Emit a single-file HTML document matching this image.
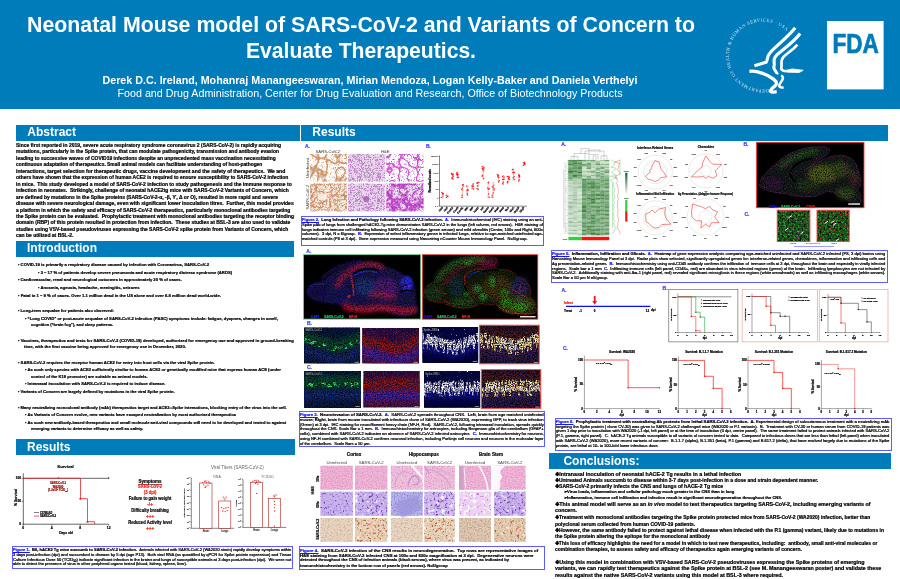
<!DOCTYPE html>
<html lang="en"><head><meta charset="utf-8">
<title>Neonatal Mouse model of SARS-CoV-2 and Variants of Concern to Evaluate Therapeutics</title>
<style>

html,body{margin:0;padding:0;background:#fff;}
body{width:900px;height:579px;overflow:hidden;}
#poster{position:relative;width:900px;height:579px;overflow:hidden;background:#fff;
 font-family:"Liberation Sans",sans-serif;font-weight:700;color:#000;}
#poster svg{position:absolute;left:0;top:0;}
.l{position:absolute;white-space:nowrap;transform-origin:0 50%;-webkit-text-stroke:0.22px currentColor;}
.nb{-webkit-text-stroke:0 transparent;}
.bar{position:absolute;background:#007CBA;color:#fff;font-size:12px;line-height:16px;white-space:nowrap;}
.bar span{position:absolute;top:0;}
.hdr{position:absolute;left:0;top:0;width:900px;height:108.8px;background:#007CBA;}
.cap{position:absolute;border:0.7px solid #5b5bff;box-sizing:border-box;}
.fl{color:#1414ff;text-decoration:underline;}
.bl{color:#1414ff;}
.r{font-weight:400;}
i{font-style:italic;}
sub{font-size:70%;line-height:0;vertical-align:-0.2em;}
sup{font-size:70%;line-height:0;vertical-align:0.45em;}

</style></head>
<body>
<div id="poster">
<svg width="900" height="579" viewBox="0 0 900 579" font-family="Liberation Sans, sans-serif" style="z-index:1">
<defs>
<filter id="n0" x="0" y="0" width="100%" height="100%" color-interpolation-filters="sRGB"><feTurbulence type="turbulence" baseFrequency="0.11" numOctaves="1" seed="3"/><feColorMatrix type="matrix" values="0 0 0 0 0.800 0 0 0 0 0.588 0 0 0 0 0.431 -11.00 0 0 0 1.35"/><feComposite operator="in" in2="SourceGraphic"/></filter>
<filter id="n1" x="0" y="0" width="100%" height="100%" color-interpolation-filters="sRGB"><feTurbulence type="turbulence" baseFrequency="0.35" numOctaves="1" seed="4"/><feColorMatrix type="matrix" values="0 0 0 0 0.784 0 0 0 0 0.588 0 0 0 0 0.431 -6.00 0 0 0 0.50"/><feComposite operator="in" in2="SourceGraphic"/></filter>
<filter id="n2" x="0" y="0" width="100%" height="100%" color-interpolation-filters="sRGB"><feTurbulence type="turbulence" baseFrequency="0.13" numOctaves="2" seed="9"/><feColorMatrix type="matrix" values="0 0 0 0 0.776 0 0 0 0 0.549 0 0 0 0 0.384 -6.00 0 0 0 1.25"/><feComposite operator="in" in2="SourceGraphic"/></filter>
<filter id="n3" x="0" y="0" width="100%" height="100%" color-interpolation-filters="sRGB"><feTurbulence type="turbulence" baseFrequency="0.4" numOctaves="1" seed="6"/><feColorMatrix type="matrix" values="0 0 0 0 0.745 0 0 0 0 0.510 0 0 0 0 0.353 -5.00 0 0 0 0.70"/><feComposite operator="in" in2="SourceGraphic"/></filter>
<filter id="n4" x="0" y="0" width="100%" height="100%" color-interpolation-filters="sRGB"><feTurbulence type="turbulence" baseFrequency="0.45" numOctaves="1" seed="12"/><feColorMatrix type="matrix" values="0 0 0 0 0.729 0 0 0 0 0.486 0 0 0 0 0.769 -6.00 0 0 0 1.00"/><feComposite operator="in" in2="SourceGraphic"/></filter>
<filter id="n5" x="0" y="0" width="100%" height="100%" color-interpolation-filters="sRGB"><feTurbulence type="turbulence" baseFrequency="0.45" numOctaves="1" seed="13"/><feColorMatrix type="matrix" values="0 0 0 0 0.729 0 0 0 0 0.486 0 0 0 0 0.769 -6.00 0 0 0 1.00"/><feComposite operator="in" in2="SourceGraphic"/></filter>
<filter id="n6" x="0" y="0" width="100%" height="100%" color-interpolation-filters="sRGB"><feTurbulence type="turbulence" baseFrequency="0.11" numOctaves="1" seed="31"/><feColorMatrix type="matrix" values="0 0 0 0 0.839 0 0 0 0 0.329 0 0 0 0 0.800 -11.00 0 0 0 1.30"/><feComposite operator="in" in2="SourceGraphic"/></filter>
<filter id="n7" x="0" y="0" width="100%" height="100%" color-interpolation-filters="sRGB"><feTurbulence type="turbulence" baseFrequency="0.4" numOctaves="1" seed="33"/><feColorMatrix type="matrix" values="0 0 0 0 0.549 0 0 0 0 0.235 0 0 0 0 0.745 -7.00 0 0 0 0.45"/><feComposite operator="in" in2="SourceGraphic"/></filter>
<filter id="n8" x="0" y="0" width="100%" height="100%" color-interpolation-filters="sRGB"><feTurbulence type="turbulence" baseFrequency="0.13" numOctaves="2" seed="41"/><feColorMatrix type="matrix" values="0 0 0 0 0.784 0 0 0 0 0.275 0 0 0 0 0.800 -4.00 0 0 0 1.40"/><feComposite operator="in" in2="SourceGraphic"/></filter>
<filter id="n9" x="0" y="0" width="100%" height="100%" color-interpolation-filters="sRGB"><feTurbulence type="turbulence" baseFrequency="0.4" numOctaves="1" seed="43"/><feColorMatrix type="matrix" values="0 0 0 0 0.510 0 0 0 0 0.196 0 0 0 0 0.706 -6.00 0 0 0 0.60"/><feComposite operator="in" in2="SourceGraphic"/></filter>
<filter id="n10" x="0" y="0" width="100%" height="100%" color-interpolation-filters="sRGB"><feTurbulence type="fractalNoise" baseFrequency="0.9" numOctaves="2" seed="5"/><feColorMatrix type="matrix" values="0 0 0 0 0.000 0 0 0 0 0.000 0 0 0 0 0.000 2.00 0 0 0 -0.80"/><feComposite operator="in" in2="SourceGraphic"/></filter>
<filter id="n11" x="0" y="0" width="100%" height="100%" color-interpolation-filters="sRGB"><feTurbulence type="fractalNoise" baseFrequency="0.9" numOctaves="2" seed="7"/><feColorMatrix type="matrix" values="0 0 0 0 0.000 0 0 0 0 0.000 0 0 0 0 0.000 2.20 0 0 0 -0.80"/><feComposite operator="in" in2="SourceGraphic"/></filter>
<filter id="n12" x="0" y="0" width="100%" height="100%" color-interpolation-filters="sRGB"><feTurbulence type="fractalNoise" baseFrequency="0.22" numOctaves="2" seed="4"/><feColorMatrix type="matrix" values="0 0 0 0 0.235 0 0 0 0 0.941 0 0 0 0 0.392 9.00 0 0 0 -4.60"/><feComposite operator="in" in2="SourceGraphic"/></filter>
<filter id="n13" x="0" y="0" width="100%" height="100%" color-interpolation-filters="sRGB"><feTurbulence type="fractalNoise" baseFrequency="0.9" numOctaves="2" seed="11"/><feColorMatrix type="matrix" values="0 0 0 0 0.000 0 0 0 0 0.000 0 0 0 0 0.000 2.20 0 0 0 -0.85"/><feComposite operator="in" in2="SourceGraphic"/></filter>
<filter id="n14" x="0" y="0" width="100%" height="100%" color-interpolation-filters="sRGB"><feTurbulence type="fractalNoise" baseFrequency="0.9" numOctaves="2" seed="13"/><feColorMatrix type="matrix" values="0 0 0 0 0.824 0 0 0 0 0.196 0 0 0 0 0.141 3.00 0 0 0 -1.70"/><feComposite operator="in" in2="SourceGraphic"/></filter>
<filter id="n15" x="0" y="0" width="100%" height="100%" color-interpolation-filters="sRGB"><feTurbulence type="fractalNoise" baseFrequency="0.9" numOctaves="2" seed="14"/><feColorMatrix type="matrix" values="0 0 0 0 0.039 0 0 0 0 0.024 0 0 0 0 0.235 3.00 0 0 0 -1.25"/><feComposite operator="in" in2="SourceGraphic"/></filter>
<filter id="n16" x="0" y="0" width="100%" height="100%" color-interpolation-filters="sRGB"><feTurbulence type="fractalNoise" baseFrequency="0.5 0.09" numOctaves="2" seed="8"/><feColorMatrix type="matrix" values="0 0 0 0 1.000 0 0 0 0 1.000 0 0 0 0 1.000 8.00 0 0 0 -3.00"/><feComposite operator="in" in2="SourceGraphic"/></filter>
<filter id="n17" x="0" y="0" width="100%" height="100%" color-interpolation-filters="sRGB"><feTurbulence type="fractalNoise" baseFrequency="0.55 0.1" numOctaves="2" seed="12"/><feColorMatrix type="matrix" values="0 0 0 0 0.941 0 0 0 0 0.941 0 0 0 0 1.000 9.00 0 0 0 -4.50"/><feComposite operator="in" in2="SourceGraphic"/></filter>
<filter id="n18" x="0" y="0" width="100%" height="100%" color-interpolation-filters="sRGB"><feTurbulence type="fractalNoise" baseFrequency="0.45" numOctaves="1" seed="21"/><feColorMatrix type="matrix" values="0 0 0 0 1.000 0 0 0 0 1.000 0 0 0 0 1.000 14.00 0 0 0 -9.60"/><feComposite operator="in" in2="SourceGraphic"/></filter>
<filter id="n19" x="0" y="0" width="100%" height="100%" color-interpolation-filters="sRGB"><feTurbulence type="fractalNoise" baseFrequency="0.9" numOctaves="2" seed="17"/><feColorMatrix type="matrix" values="0 0 0 0 0.000 0 0 0 0 0.000 0 0 0 0 0.157 2.50 0 0 0 -0.90"/><feComposite operator="in" in2="SourceGraphic"/></filter>
<filter id="n20" x="0" y="0" width="100%" height="100%" color-interpolation-filters="sRGB"><feTurbulence type="fractalNoise" baseFrequency="0.5 0.09" numOctaves="2" seed="8"/><feColorMatrix type="matrix" values="0 0 0 0 1.000 0 0 0 0 0.988 0 0 0 0 0.910 8.00 0 0 0 -3.00"/><feComposite operator="in" in2="SourceGraphic"/></filter>
<filter id="n21" x="0" y="0" width="100%" height="100%" color-interpolation-filters="sRGB"><feTurbulence type="fractalNoise" baseFrequency="0.55 0.1" numOctaves="2" seed="12"/><feColorMatrix type="matrix" values="0 0 0 0 0.965 0 0 0 0 0.863 0 0 0 0 0.588 9.00 0 0 0 -4.50"/><feComposite operator="in" in2="SourceGraphic"/></filter>
<filter id="n22" x="0" y="0" width="100%" height="100%" color-interpolation-filters="sRGB"><feTurbulence type="fractalNoise" baseFrequency="0.9" numOctaves="2" seed="23"/><feColorMatrix type="matrix" values="0 0 0 0 0.745 0 0 0 0 0.196 0 0 0 0 0.141 4.00 0 0 0 -2.60"/><feComposite operator="in" in2="SourceGraphic"/></filter>
<filter id="n23" x="0" y="0" width="100%" height="100%" color-interpolation-filters="sRGB"><feTurbulence type="fractalNoise" baseFrequency="0.9" numOctaves="2" seed="24"/><feColorMatrix type="matrix" values="0 0 0 0 0.141 0 0 0 0 0.118 0 0 0 0 0.588 4.00 0 0 0 -2.40"/><feComposite operator="in" in2="SourceGraphic"/></filter>
<filter id="n24" x="0" y="0" width="100%" height="100%" color-interpolation-filters="sRGB"><feTurbulence type="fractalNoise" baseFrequency="0.9" numOctaves="2" seed="25"/><feColorMatrix type="matrix" values="0 0 0 0 0.000 0 0 0 0 0.000 0 0 0 0 0.000 3.00 0 0 0 -1.20"/><feComposite operator="in" in2="SourceGraphic"/></filter>
<filter id="n25" x="0" y="0" width="100%" height="100%" color-interpolation-filters="sRGB"><feTurbulence type="fractalNoise" baseFrequency="0.22" numOctaves="2" seed="8"/><feColorMatrix type="matrix" values="0 0 0 0 0.235 0 0 0 0 0.941 0 0 0 0 0.392 9.00 0 0 0 -4.60"/><feComposite operator="in" in2="SourceGraphic"/></filter>
<filter id="n26" x="0" y="0" width="100%" height="100%" color-interpolation-filters="sRGB"><feTurbulence type="fractalNoise" baseFrequency="0.5 0.09" numOctaves="2" seed="12"/><feColorMatrix type="matrix" values="0 0 0 0 1.000 0 0 0 0 1.000 0 0 0 0 1.000 8.00 0 0 0 -3.00"/><feComposite operator="in" in2="SourceGraphic"/></filter>
<filter id="n27" x="0" y="0" width="100%" height="100%" color-interpolation-filters="sRGB"><feTurbulence type="fractalNoise" baseFrequency="0.55 0.1" numOctaves="2" seed="16"/><feColorMatrix type="matrix" values="0 0 0 0 0.941 0 0 0 0 0.941 0 0 0 0 1.000 9.00 0 0 0 -4.50"/><feComposite operator="in" in2="SourceGraphic"/></filter>
<filter id="n28" x="0" y="0" width="100%" height="100%" color-interpolation-filters="sRGB"><feTurbulence type="fractalNoise" baseFrequency="0.5 0.09" numOctaves="2" seed="12"/><feColorMatrix type="matrix" values="0 0 0 0 1.000 0 0 0 0 0.988 0 0 0 0 0.910 8.00 0 0 0 -3.00"/><feComposite operator="in" in2="SourceGraphic"/></filter>
<filter id="n29" x="0" y="0" width="100%" height="100%" color-interpolation-filters="sRGB"><feTurbulence type="fractalNoise" baseFrequency="0.55 0.1" numOctaves="2" seed="16"/><feColorMatrix type="matrix" values="0 0 0 0 0.965 0 0 0 0 0.863 0 0 0 0 0.588 9.00 0 0 0 -4.50"/><feComposite operator="in" in2="SourceGraphic"/></filter>
<filter id="n30" x="0" y="0" width="100%" height="100%" color-interpolation-filters="sRGB"><feTurbulence type="fractalNoise" baseFrequency="0.8" numOctaves="2" seed="1"/><feColorMatrix type="matrix" values="0 0 0 0 0.839 0 0 0 0 0.510 0 0 0 0 0.729 2.00 0 0 0 -0.85"/><feComposite operator="in" in2="SourceGraphic"/></filter>
<filter id="n31" x="0" y="0" width="100%" height="100%" color-interpolation-filters="sRGB"><feTurbulence type="fractalNoise" baseFrequency="0.8" numOctaves="2" seed="2"/><feColorMatrix type="matrix" values="0 0 0 0 0.839 0 0 0 0 0.510 0 0 0 0 0.729 2.00 0 0 0 -0.85"/><feComposite operator="in" in2="SourceGraphic"/></filter>
<filter id="n32" x="0" y="0" width="100%" height="100%" color-interpolation-filters="sRGB"><feTurbulence type="fractalNoise" baseFrequency="0.8" numOctaves="2" seed="3"/><feColorMatrix type="matrix" values="0 0 0 0 0.839 0 0 0 0 0.510 0 0 0 0 0.729 2.00 0 0 0 -0.85"/><feComposite operator="in" in2="SourceGraphic"/></filter>
<filter id="n33" x="0" y="0" width="100%" height="100%" color-interpolation-filters="sRGB"><feTurbulence type="fractalNoise" baseFrequency="0.8" numOctaves="2" seed="4"/><feColorMatrix type="matrix" values="0 0 0 0 0.839 0 0 0 0 0.510 0 0 0 0 0.729 2.00 0 0 0 -0.85"/><feComposite operator="in" in2="SourceGraphic"/></filter>
<filter id="n34" x="0" y="0" width="100%" height="100%" color-interpolation-filters="sRGB"><feTurbulence type="fractalNoise" baseFrequency="0.8" numOctaves="2" seed="5"/><feColorMatrix type="matrix" values="0 0 0 0 0.839 0 0 0 0 0.510 0 0 0 0 0.729 2.00 0 0 0 -0.85"/><feComposite operator="in" in2="SourceGraphic"/></filter>
<filter id="n35" x="0" y="0" width="100%" height="100%" color-interpolation-filters="sRGB"><feTurbulence type="fractalNoise" baseFrequency="0.8" numOctaves="2" seed="6"/><feColorMatrix type="matrix" values="0 0 0 0 0.839 0 0 0 0 0.510 0 0 0 0 0.729 2.00 0 0 0 -0.85"/><feComposite operator="in" in2="SourceGraphic"/></filter>
<filter id="n36" x="0" y="0" width="100%" height="100%" color-interpolation-filters="sRGB"><feTurbulence type="fractalNoise" baseFrequency="0.5" numOctaves="2" seed="7"/><feColorMatrix type="matrix" values="0 0 0 0 0.627 0 0 0 0 0.486 0 0 0 0 0.847 2.20 0 0 0 -0.95"/><feComposite operator="in" in2="SourceGraphic"/></filter>
<filter id="n37" x="0" y="0" width="100%" height="100%" color-interpolation-filters="sRGB"><feTurbulence type="fractalNoise" baseFrequency="0.42" numOctaves="2" seed="8"/><feColorMatrix type="matrix" values="0 0 0 0 0.486 0 0 0 0 0.251 0 0 0 0 0.729 9.00 0 0 0 -5.80"/><feComposite operator="in" in2="SourceGraphic"/></filter>
<filter id="n38" x="0" y="0" width="100%" height="100%" color-interpolation-filters="sRGB"><feTurbulence type="fractalNoise" baseFrequency="0.5" numOctaves="2" seed="9"/><feColorMatrix type="matrix" values="0 0 0 0 0.627 0 0 0 0 0.486 0 0 0 0 0.847 2.20 0 0 0 -0.95"/><feComposite operator="in" in2="SourceGraphic"/></filter>
<filter id="n39" x="0" y="0" width="100%" height="100%" color-interpolation-filters="sRGB"><feTurbulence type="fractalNoise" baseFrequency="0.42" numOctaves="2" seed="10"/><feColorMatrix type="matrix" values="0 0 0 0 0.486 0 0 0 0 0.251 0 0 0 0 0.729 9.00 0 0 0 -5.50"/><feComposite operator="in" in2="SourceGraphic"/></filter>
<filter id="n40" x="0" y="0" width="100%" height="100%" color-interpolation-filters="sRGB"><feTurbulence type="fractalNoise" baseFrequency="0.22" numOctaves="1" seed="11"/><feColorMatrix type="matrix" values="0 0 0 0 0.980 0 0 0 0 0.957 0 0 0 0 1.000 6.00 0 0 0 -3.60"/><feComposite operator="in" in2="SourceGraphic"/></filter>
<filter id="n41" x="0" y="0" width="100%" height="100%" color-interpolation-filters="sRGB"><feTurbulence type="fractalNoise" baseFrequency="0.7" numOctaves="2" seed="12"/><feColorMatrix type="matrix" values="0 0 0 0 0.510 0 0 0 0 0.471 0 0 0 0 0.824 2.50 0 0 0 -1.10"/><feComposite operator="in" in2="SourceGraphic"/></filter>
<filter id="n42" x="0" y="0" width="100%" height="100%" color-interpolation-filters="sRGB"><feTurbulence type="fractalNoise" baseFrequency="0.5" numOctaves="2" seed="13"/><feColorMatrix type="matrix" values="0 0 0 0 0.627 0 0 0 0 0.486 0 0 0 0 0.847 2.20 0 0 0 -0.95"/><feComposite operator="in" in2="SourceGraphic"/></filter>
<filter id="n43" x="0" y="0" width="100%" height="100%" color-interpolation-filters="sRGB"><feTurbulence type="fractalNoise" baseFrequency="0.42" numOctaves="2" seed="14"/><feColorMatrix type="matrix" values="0 0 0 0 0.486 0 0 0 0 0.251 0 0 0 0 0.729 9.00 0 0 0 -5.50"/><feComposite operator="in" in2="SourceGraphic"/></filter>
<filter id="n44" x="0" y="0" width="100%" height="100%" color-interpolation-filters="sRGB"><feTurbulence type="fractalNoise" baseFrequency="0.22" numOctaves="1" seed="15"/><feColorMatrix type="matrix" values="0 0 0 0 0.980 0 0 0 0 0.957 0 0 0 0 1.000 6.00 0 0 0 -3.60"/><feComposite operator="in" in2="SourceGraphic"/></filter>
<filter id="n45" x="0" y="0" width="100%" height="100%" color-interpolation-filters="sRGB"><feTurbulence type="fractalNoise" baseFrequency="0.45" numOctaves="2" seed="16"/><feColorMatrix type="matrix" values="0 0 0 0 0.745 0 0 0 0 0.392 0 0 0 0 0.816 8.00 0 0 0 -5.10"/><feComposite operator="in" in2="SourceGraphic"/></filter>
<filter id="n46" x="0" y="0" width="100%" height="100%" color-interpolation-filters="sRGB"><feTurbulence type="fractalNoise" baseFrequency="0.3" numOctaves="1" seed="17"/><feColorMatrix type="matrix" values="0 0 0 0 1.000 0 0 0 0 1.000 0 0 0 0 1.000 5.00 0 0 0 -2.60"/><feComposite operator="in" in2="SourceGraphic"/></filter>
<filter id="n47" x="0" y="0" width="100%" height="100%" color-interpolation-filters="sRGB"><feTurbulence type="fractalNoise" baseFrequency="0.5" numOctaves="2" seed="18"/><feColorMatrix type="matrix" values="0 0 0 0 0.627 0 0 0 0 0.486 0 0 0 0 0.847 2.20 0 0 0 -0.95"/><feComposite operator="in" in2="SourceGraphic"/></filter>
<filter id="n48" x="0" y="0" width="100%" height="100%" color-interpolation-filters="sRGB"><feTurbulence type="fractalNoise" baseFrequency="0.42" numOctaves="2" seed="19"/><feColorMatrix type="matrix" values="0 0 0 0 0.486 0 0 0 0 0.251 0 0 0 0 0.729 9.00 0 0 0 -5.50"/><feComposite operator="in" in2="SourceGraphic"/></filter>
<filter id="n49" x="0" y="0" width="100%" height="100%" color-interpolation-filters="sRGB"><feTurbulence type="fractalNoise" baseFrequency="0.22" numOctaves="1" seed="20"/><feColorMatrix type="matrix" values="0 0 0 0 0.980 0 0 0 0 0.957 0 0 0 0 1.000 6.00 0 0 0 -3.60"/><feComposite operator="in" in2="SourceGraphic"/></filter>
<filter id="n50" x="0" y="0" width="100%" height="100%" color-interpolation-filters="sRGB"><feTurbulence type="fractalNoise" baseFrequency="0.7" numOctaves="2" seed="21"/><feColorMatrix type="matrix" values="0 0 0 0 0.745 0 0 0 0 0.588 0 0 0 0 0.471 2.40 0 0 0 -1.20"/><feComposite operator="in" in2="SourceGraphic"/></filter>
<filter id="n51" x="0" y="0" width="100%" height="100%" color-interpolation-filters="sRGB"><feTurbulence type="fractalNoise" baseFrequency="0.6" numOctaves="2" seed="22"/><feColorMatrix type="matrix" values="0 0 0 0 0.784 0 0 0 0 0.612 0 0 0 0 0.455 2.40 0 0 0 -1.10"/><feComposite operator="in" in2="SourceGraphic"/></filter>
<filter id="n52" x="0" y="0" width="100%" height="100%" color-interpolation-filters="sRGB"><feTurbulence type="fractalNoise" baseFrequency="0.4" numOctaves="2" seed="23"/><feColorMatrix type="matrix" values="0 0 0 0 0.690 0 0 0 0 0.408 0 0 0 0 0.227 9.00 0 0 0 -5.60"/><feComposite operator="in" in2="SourceGraphic"/></filter>
<filter id="n53" x="0" y="0" width="100%" height="100%" color-interpolation-filters="sRGB"><feTurbulence type="fractalNoise" baseFrequency="0.3" numOctaves="1" seed="24"/><feColorMatrix type="matrix" values="0 0 0 0 1.000 0 0 0 0 0.980 0 0 0 0 0.957 6.00 0 0 0 -3.80"/><feComposite operator="in" in2="SourceGraphic"/></filter>
<filter id="n54" x="0" y="0" width="100%" height="100%" color-interpolation-filters="sRGB"><feTurbulence type="fractalNoise" baseFrequency="0.7" numOctaves="2" seed="25"/><feColorMatrix type="matrix" values="0 0 0 0 0.745 0 0 0 0 0.588 0 0 0 0 0.471 2.40 0 0 0 -1.20"/><feComposite operator="in" in2="SourceGraphic"/></filter>
<filter id="n55" x="0" y="0" width="100%" height="100%" color-interpolation-filters="sRGB"><feTurbulence type="fractalNoise" baseFrequency="0.6" numOctaves="2" seed="26"/><feColorMatrix type="matrix" values="0 0 0 0 0.784 0 0 0 0 0.612 0 0 0 0 0.455 2.40 0 0 0 -1.10"/><feComposite operator="in" in2="SourceGraphic"/></filter>
<filter id="n56" x="0" y="0" width="100%" height="100%" color-interpolation-filters="sRGB"><feTurbulence type="fractalNoise" baseFrequency="0.4" numOctaves="2" seed="27"/><feColorMatrix type="matrix" values="0 0 0 0 0.690 0 0 0 0 0.408 0 0 0 0 0.227 9.00 0 0 0 -5.60"/><feComposite operator="in" in2="SourceGraphic"/></filter>
<filter id="n57" x="0" y="0" width="100%" height="100%" color-interpolation-filters="sRGB"><feTurbulence type="fractalNoise" baseFrequency="0.3" numOctaves="1" seed="28"/><feColorMatrix type="matrix" values="0 0 0 0 1.000 0 0 0 0 0.980 0 0 0 0 0.957 6.00 0 0 0 -3.80"/><feComposite operator="in" in2="SourceGraphic"/></filter>
<filter id="n58" x="0" y="0" width="100%" height="100%" color-interpolation-filters="sRGB"><feTurbulence type="fractalNoise" baseFrequency="0.7" numOctaves="2" seed="29"/><feColorMatrix type="matrix" values="0 0 0 0 0.745 0 0 0 0 0.588 0 0 0 0 0.471 2.40 0 0 0 -0.95"/><feComposite operator="in" in2="SourceGraphic"/></filter>
<filter id="n59" x="0" y="0" width="100%" height="100%" color-interpolation-filters="sRGB"><feTurbulence type="fractalNoise" baseFrequency="0.6" numOctaves="2" seed="30"/><feColorMatrix type="matrix" values="0 0 0 0 0.784 0 0 0 0 0.612 0 0 0 0 0.455 2.40 0 0 0 -1.10"/><feComposite operator="in" in2="SourceGraphic"/></filter>
<filter id="n60" x="0" y="0" width="100%" height="100%" color-interpolation-filters="sRGB"><feTurbulence type="fractalNoise" baseFrequency="0.4" numOctaves="2" seed="31"/><feColorMatrix type="matrix" values="0 0 0 0 0.690 0 0 0 0 0.408 0 0 0 0 0.227 9.00 0 0 0 -5.60"/><feComposite operator="in" in2="SourceGraphic"/></filter>
<filter id="n61" x="0" y="0" width="100%" height="100%" color-interpolation-filters="sRGB"><feTurbulence type="fractalNoise" baseFrequency="0.3" numOctaves="1" seed="32"/><feColorMatrix type="matrix" values="0 0 0 0 1.000 0 0 0 0 0.980 0 0 0 0 0.957 6.00 0 0 0 -3.80"/><feComposite operator="in" in2="SourceGraphic"/></filter>
<filter id="n62" x="0" y="0" width="100%" height="100%" color-interpolation-filters="sRGB"><feTurbulence type="fractalNoise" baseFrequency="0.8" numOctaves="2" seed="10"/><feColorMatrix type="matrix" values="0 0 0 0 0.588 0 0 0 0 0.157 0 0 0 0 0.392 6.00 0 0 0 -3.90"/><feComposite operator="in" in2="SourceGraphic"/></filter>
<filter id="n63" x="0" y="0" width="100%" height="100%" color-interpolation-filters="sRGB"><feTurbulence type="fractalNoise" baseFrequency="0.9" numOctaves="2" seed="9"/><feColorMatrix type="matrix" values="0 0 0 0 0.000 0 0 0 0 0.000 0 0 0 0 0.000 2.00 0 0 0 -0.75"/><feComposite operator="in" in2="SourceGraphic"/></filter>
<filter id="n64" x="0" y="0" width="100%" height="100%" color-interpolation-filters="sRGB"><feTurbulence type="fractalNoise" baseFrequency="0.55" numOctaves="2" seed="30"/><feColorMatrix type="matrix" values="0 0 0 0 0.196 0 0 0 0 0.667 0 0 0 0 0.196 4.00 0 0 0 -2.00"/><feComposite operator="in" in2="SourceGraphic"/></filter>
<filter id="n65" x="0" y="0" width="100%" height="100%" color-interpolation-filters="sRGB"><feTurbulence type="fractalNoise" baseFrequency="0.5" numOctaves="2" seed="32"/><feColorMatrix type="matrix" values="0 0 0 0 0.000 0 0 0 0 0.000 0 0 0 0 0.000 4.00 0 0 0 -2.10"/><feComposite operator="in" in2="SourceGraphic"/></filter>
<filter id="n66" x="0" y="0" width="100%" height="100%" color-interpolation-filters="sRGB"><feTurbulence type="fractalNoise" baseFrequency="0.7" numOctaves="2" seed="34"/><feColorMatrix type="matrix" values="0 0 0 0 0.784 0 0 0 0 0.235 0 0 0 0 0.667 8.00 0 0 0 -5.50"/><feComposite operator="in" in2="SourceGraphic"/></filter>
<filter id="n67" x="0" y="0" width="100%" height="100%" color-interpolation-filters="sRGB"><feTurbulence type="fractalNoise" baseFrequency="0.55" numOctaves="2" seed="31"/><feColorMatrix type="matrix" values="0 0 0 0 0.196 0 0 0 0 0.667 0 0 0 0 0.196 4.00 0 0 0 -2.00"/><feComposite operator="in" in2="SourceGraphic"/></filter>
<filter id="n68" x="0" y="0" width="100%" height="100%" color-interpolation-filters="sRGB"><feTurbulence type="fractalNoise" baseFrequency="0.5" numOctaves="2" seed="33"/><feColorMatrix type="matrix" values="0 0 0 0 0.000 0 0 0 0 0.000 0 0 0 0 0.000 4.00 0 0 0 -2.10"/><feComposite operator="in" in2="SourceGraphic"/></filter>
<filter id="n69" x="0" y="0" width="100%" height="100%" color-interpolation-filters="sRGB"><feTurbulence type="fractalNoise" baseFrequency="0.7" numOctaves="2" seed="35"/><feColorMatrix type="matrix" values="0 0 0 0 0.863 0 0 0 0 0.196 0 0 0 0 0.157 8.00 0 0 0 -5.00"/><feComposite operator="in" in2="SourceGraphic"/></filter>
<path id="hhsarc" d="M 768.6 89.0 A 34 34 0 1 1 787.0 31.4" fill="none"/>



<filter id="bl1" x="-20%" y="-20%" width="140%" height="140%"><feGaussianBlur stdDeviation="1.1"/></filter>
<filter id="bl2" x="-20%" y="-20%" width="140%" height="140%"><feGaussianBlur stdDeviation="2.2"/></filter>
<filter id="bl05" x="-20%" y="-20%" width="140%" height="140%"><feGaussianBlur stdDeviation="0.5"/></filter>
<clipPath id="cpA1"><rect x="303.6" y="254.7" width="117.1" height="64.4"/></clipPath>
<clipPath id="cpA2"><rect x="422.3" y="254.7" width="115.5" height="64.5"/></clipPath>
<path id="brainL" d="M22 24 C30 16 44 9 58 7 C68 6 78 8 82 12 C90 14 96 16 100 20 C106 24 112 30 112 36 C113 44 112 50 115 54 C112 60 104 62 98 62 C90 60 84 56 76 56 C66 58 58 56 50 54 C44 56 38 52 34 48 C28 50 20 48 12 46 C6 44 2 40 3 36 C4 31 10 27 16 27 Z"/>
<path id="brainR" d="M1 38 C2 32 8 28 14 26 C16 18 24 10 36 6 C44 3 54 2 62 1.5 C68 1 74 2 75 5 C76 8 72 10 68 11 C72 12 76 13 76 15 C80 14 86 15 90 17 C94 19 95 22 96 23 C100 22 104 26 106 30 C109 34 109 40 108 42 C112 46 114 52 114 57 C110 61 102 60 94 59 C86 59 78 56 74 50 C70 50 64 50 60 49 C54 52 46 54 38 53 C30 52 24 50 20 48 C14 48 6 46 3 43 C1 42 0 40 1 38 Z"/>
<!--G--><clipPath id="cpb1"><rect x="304.00" y="327.30" width="56.20" height="36.20"/></clipPath>
<clipPath id="cpb2"><rect x="362.10" y="328.00" width="56.90" height="35.50"/></clipPath>
<clipPath id="cpb3"><rect x="422.30" y="327.00" width="56.00" height="36.00"/></clipPath>
<clipPath id="cpb4"><rect x="479.60" y="325.20" width="59.60" height="38.60"/></clipPath>
<clipPath id="cpc1"><rect x="304.00" y="371.00" width="57.00" height="37.00"/></clipPath>
<clipPath id="cpc2"><rect x="363.30" y="371.00" width="56.50" height="36.60"/></clipPath>
<clipPath id="cpc3"><rect x="424.00" y="371.00" width="56.30" height="36.80"/></clipPath>
<clipPath id="cpc4"><rect x="481.40" y="369.60" width="59.40" height="38.80"/></clipPath>

<clipPath id="cp5B"><rect x="756.4" y="142.3" width="107.6" height="65.4"/></clipPath>
<path id="brain5" d="M2 40 C4 32 10 27 16 22 C24 14 34 8 46 5 C54 3 64 2 70 4 C73 6 72 9 68 12 C62 16 54 20 48 26 C54 22 62 17 70 14 C78 11 86 11 92 14 C98 18 100 24 101 30 C104 36 104 42 100 46 C103 50 104 56 103 60 C98 62 92 58 86 54 C80 50 74 48 68 48 C62 52 56 54 50 53 C42 54 34 52 28 50 C20 50 12 48 7 46 C3 45 1 43 2 40Z"/>

</defs>
<!-- g_logo -->
<rect x="827.00" y="21.00" width="56.60" height="68.40" fill="#fff"/>
<text x="832.4" y="53.2" font-size="27" font-weight="700" fill="#007CBA" stroke="#007CBA" stroke-width="0.7" textLength="46.4" lengthAdjust="spacingAndGlyphs">FDA</text>
<text font-family="Liberation Serif, serif" font-size="4.6" fill="#d4e6f2" font-weight="400"><textPath href="#hhsarc" startOffset="0" textLength="138" lengthAdjust="spacing">DEPARTMENT OF HEALTH &amp; HUMAN SERVICES · USA</textPath></text>
<g fill="none" stroke="#fff" stroke-linecap="butt" stroke-linejoin="round">
<path stroke-width="3.1" d="M795.2,27.7 C788.3,36.6 776.2,46.0 770.7,52.0 S768.6,59.3 766.2,62.2 L754.4,65.8"/>
<path stroke-width="3.1" d="M800.1,33.5 C793.8,42.1 783.1,49.4 777.3,54.5 S775.3,62.8 774.0,66.3 S777.6,71.9 777.0,74.4"/>
<path stroke-width="2.7" d="M797.4,44.6 C793.2,49.7 786.4,53.7 783.2,57.3 S782.2,64.9 781.4,67.6 S783.9,71.1 786.7,71.1"/>
<path stroke-width="0.8" fill="#fff" d="M786.4,70.3 L792.2,68.9 L803.2,70.3 L799.1,72.5 L787.2,72.2 Z"/>
<path stroke-width="3.3" d="M749.4,71.4 C756.6,70.3 767.6,74.4 773.8,79.4 S773.7,86.0 771.2,89.6 S774.5,91.9 776.7,91.7"/>
<path stroke-width="2.5" d="M781.1,75.5 C785.0,77.4 781.7,80.7 779.9,83.8 S780.6,87.9 783.6,87.4"/>
</g>
<!-- g_fig1 -->
<path d="M23.3 473.3 V524.2 H108.7" stroke="#000" stroke-width="0.6" fill="none"/>
<path d="M23.3 524.2 h-1.5" stroke="#000" stroke-width="0.5" fill="none"/>
<text x="21.10" y="525.30" font-size="3.20" fill="#000" text-anchor="end" font-weight="700" stroke="#000" stroke-width="0.20">0</text>
<path d="M23.3 501.2 h-1.5" stroke="#000" stroke-width="0.5" fill="none"/>
<text x="21.10" y="502.35" font-size="3.20" fill="#000" text-anchor="end" font-weight="700" stroke="#000" stroke-width="0.20">50</text>
<path d="M23.3 478.3 h-1.5" stroke="#000" stroke-width="0.5" fill="none"/>
<text x="21.10" y="479.40" font-size="3.20" fill="#000" text-anchor="end" font-weight="700" stroke="#000" stroke-width="0.20">100</text>
<path d="M23.3 524.2 v1.5" stroke="#000" stroke-width="0.5" fill="none"/>
<text x="23.30" y="529.20" font-size="3.40" fill="#000" text-anchor="middle" font-weight="700" stroke="#000" stroke-width="0.20">0</text>
<path d="M51.8 524.2 v1.5" stroke="#000" stroke-width="0.5" fill="none"/>
<text x="51.77" y="529.20" font-size="3.40" fill="#000" text-anchor="middle" font-weight="700" stroke="#000" stroke-width="0.20">4</text>
<path d="M80.2 524.2 v1.5" stroke="#000" stroke-width="0.5" fill="none"/>
<text x="80.23" y="529.20" font-size="3.40" fill="#000" text-anchor="middle" font-weight="700" stroke="#000" stroke-width="0.20">8</text>
<path d="M108.7 524.2 v1.5" stroke="#000" stroke-width="0.5" fill="none"/>
<text x="108.70" y="529.20" font-size="3.40" fill="#000" text-anchor="middle" font-weight="700" stroke="#000" stroke-width="0.20">12</text>
<path d="M23.3 478.3 H108.7" stroke="#000" stroke-width="0.6" fill="none"/>
<path d="M58.6 478.3 v-1.4 M108.7 478.3 v-1 v2" stroke="#000" stroke-width="0.5" fill="none"/>
<path d="M23.3 478.3 H80.5 V498.7 H87.5 V521.7 H94.7 V524.2" stroke="#f01818" stroke-width="0.75" fill="none"/>
<circle cx="80.3" cy="498.7" r="1" fill="#f01818"/>
<circle cx="87.5" cy="521.7" r="1" fill="#f01818"/>
<text x="65.50" y="467.60" font-size="4.20" fill="#000" text-anchor="middle" font-weight="700" stroke="#000" stroke-width="0.20">Survival</text>
<text transform="translate(17.00 497.50) rotate(-90)" font-size="3.40" fill="#000" text-anchor="middle" font-weight="700" stroke="#000" stroke-width="0.20">% Survival</text>
<text x="66.00" y="534.00" font-size="3.30" fill="#000" text-anchor="middle" font-weight="700" stroke="#000" stroke-width="0.20">Days old</text>
<text x="58.00" y="484.00" font-size="2.70" fill="#a01010" text-anchor="middle" font-weight="700" stroke="#a01010" stroke-width="0.20">SARS-CoV-2</text>
<text x="58.00" y="487.60" font-size="2.70" fill="#a01010" text-anchor="middle" font-weight="700" stroke="#a01010" stroke-width="0.20">WA2020</text>
<text x="58.00" y="491.20" font-size="2.70" fill="#a01010" text-anchor="middle" font-weight="700" stroke="#a01010" stroke-width="0.20">(1.2x10<tspan font-size="1.7" dy="-0.9">3</tspan><tspan dy="0.9"> TCID</tspan><tspan font-size="1.7" dy="0.6">50</tspan><tspan dy="-0.6">)</tspan></text>
<path d="M34 512.5 h5" stroke="#000" stroke-width="0.5" fill="none"/>
<path d="M34 516.1 h5" stroke="#f01818" stroke-width="0.7" fill="none"/>
<text x="40.00" y="513.50" font-size="2.70" fill="#000" text-anchor="start" font-weight="700" stroke="#000" stroke-width="0.20">C57BL/6J</text>
<text x="40.00" y="517.10" font-size="2.70" fill="#000" text-anchor="start" font-weight="700" stroke="#000" stroke-width="0.20">SARS-CoV-2</text>
<text x="150.10" y="483.10" font-size="5.00" fill="#000" text-anchor="middle" font-weight="700" textLength="23.0" lengthAdjust="spacingAndGlyphs" text-decoration="underline" stroke="#000" stroke-width="0.20">Symptoms</text>
<text x="150.10" y="488.10" font-size="5.00" fill="#f01818" text-anchor="middle" font-weight="700" textLength="24.0" lengthAdjust="spacingAndGlyphs" stroke="#f01818" stroke-width="0.20">SARS-CoV-2</text>
<text x="150.10" y="493.90" font-size="5.00" fill="#f01818" text-anchor="middle" font-weight="700" textLength="12.5" lengthAdjust="spacingAndGlyphs" stroke="#f01818" stroke-width="0.20">(3 dpi)</text>
<text x="150.10" y="500.00" font-size="5.00" fill="#000" text-anchor="middle" font-weight="700" textLength="42.5" lengthAdjust="spacingAndGlyphs" stroke="#000" stroke-width="0.20">Failure to gain weight</text>
<text x="150.10" y="505.90" font-size="5.00" fill="#f01818" text-anchor="middle" font-weight="700" textLength="5.5" lengthAdjust="spacingAndGlyphs" stroke="#f01818" stroke-width="0.20">-/+</text>
<text x="150.10" y="512.00" font-size="5.00" fill="#000" text-anchor="middle" font-weight="700" textLength="37.5" lengthAdjust="spacingAndGlyphs" stroke="#000" stroke-width="0.20">Difficulty breathing</text>
<text x="150.10" y="517.90" font-size="5.00" fill="#f01818" text-anchor="middle" font-weight="700" textLength="8.0" lengthAdjust="spacingAndGlyphs" stroke="#f01818" stroke-width="0.20">+++</text>
<text x="150.10" y="523.80" font-size="5.00" fill="#000" text-anchor="middle" font-weight="700" textLength="43.8" lengthAdjust="spacingAndGlyphs" stroke="#000" stroke-width="0.20">Reduced Activity level</text>
<text x="150.10" y="530.00" font-size="5.00" fill="#f01818" text-anchor="middle" font-weight="700" textLength="8.0" lengthAdjust="spacingAndGlyphs" stroke="#f01818" stroke-width="0.20">+++</text>
<text x="237.30" y="468.60" font-size="4.60" fill="#666" text-anchor="middle" font-weight="400" stroke="none" textLength="52.8" lengthAdjust="spacingAndGlyphs">Viral Titers (SARS-CoV-2)</text>
<path d="M191.3 477.8 V528.3 H234.0" stroke="#222" stroke-width="0.55" fill="none"/>
<path d="M191.3 477.8 h-1.2" stroke="#222" stroke-width="0.4" fill="none"/>
<text x="189.50" y="478.50" font-size="1.90" fill="#333" text-anchor="end" font-weight="400" stroke="#333" stroke-width="0.12">10<tspan font-size="1.3" dy="-0.7">9</tspan></text>
<path d="M191.3 484.1 h-1.2" stroke="#222" stroke-width="0.4" fill="none"/>
<text x="189.50" y="484.81" font-size="1.90" fill="#333" text-anchor="end" font-weight="400" stroke="#333" stroke-width="0.12">10<tspan font-size="1.3" dy="-0.7">8</tspan></text>
<path d="M191.3 490.4 h-1.2" stroke="#222" stroke-width="0.4" fill="none"/>
<text x="189.50" y="491.12" font-size="1.90" fill="#333" text-anchor="end" font-weight="400" stroke="#333" stroke-width="0.12">10<tspan font-size="1.3" dy="-0.7">7</tspan></text>
<path d="M191.3 496.7 h-1.2" stroke="#222" stroke-width="0.4" fill="none"/>
<text x="189.50" y="497.44" font-size="1.90" fill="#333" text-anchor="end" font-weight="400" stroke="#333" stroke-width="0.12">10<tspan font-size="1.3" dy="-0.7">6</tspan></text>
<path d="M191.3 503.0 h-1.2" stroke="#222" stroke-width="0.4" fill="none"/>
<text x="189.50" y="503.75" font-size="1.90" fill="#333" text-anchor="end" font-weight="400" stroke="#333" stroke-width="0.12">10<tspan font-size="1.3" dy="-0.7">5</tspan></text>
<path d="M191.3 509.4 h-1.2" stroke="#222" stroke-width="0.4" fill="none"/>
<text x="189.50" y="510.06" font-size="1.90" fill="#333" text-anchor="end" font-weight="400" stroke="#333" stroke-width="0.12">10<tspan font-size="1.3" dy="-0.7">4</tspan></text>
<path d="M191.3 515.7 h-1.2" stroke="#222" stroke-width="0.4" fill="none"/>
<text x="189.50" y="516.38" font-size="1.90" fill="#333" text-anchor="end" font-weight="400" stroke="#333" stroke-width="0.12">10<tspan font-size="1.3" dy="-0.7">3</tspan></text>
<path d="M191.3 522.0 h-1.2" stroke="#222" stroke-width="0.4" fill="none"/>
<text x="189.50" y="522.69" font-size="1.90" fill="#333" text-anchor="end" font-weight="400" stroke="#333" stroke-width="0.12">10<tspan font-size="1.3" dy="-0.7">2</tspan></text>
<path d="M191.3 528.3 h-1.2" stroke="#222" stroke-width="0.4" fill="none"/>
<text x="189.50" y="529.00" font-size="1.90" fill="#333" text-anchor="end" font-weight="400" stroke="#333" stroke-width="0.12">10<tspan font-size="1.3" dy="-0.7">1</tspan></text>
<text x="217.00" y="477.90" font-size="3.60" fill="#666" text-anchor="middle" font-weight="400" stroke="none">RNA</text>
<text transform="translate(185.00 503.05) rotate(-90)" font-size="2.00" fill="#222" text-anchor="middle" font-weight="400" stroke="#222" stroke-width="0.12">SARS-CoV-2 copies RNA copies</text>
<rect x="199.7" y="483.0" width="12.3" height="45.3" fill="#fff" stroke="#b02020" stroke-width="0.6"/>
<path d="M205.8 483.0 v-2.2 M204.3 480.8 h3" stroke="#b02020" stroke-width="0.4" fill="none"/>
<text x="205.85" y="532.00" font-size="2.70" fill="#333" text-anchor="middle" font-weight="400" stroke="#333" stroke-width="0.12">Brain</text>
<circle cx="202.7" cy="482.6" r="0.65" fill="#f01818"/>
<circle cx="204.7" cy="481.6" r="0.65" fill="#f01818"/>
<circle cx="206.7" cy="482.8" r="0.65" fill="#f01818"/>
<circle cx="208.7" cy="482.0" r="0.65" fill="#f01818"/>
<circle cx="209.8" cy="483.4" r="0.65" fill="#f01818"/>
<circle cx="203.7" cy="484.8" r="0.65" fill="#f01818"/>
<circle cx="206.0" cy="486.2" r="0.65" fill="#f01818"/>
<circle cx="208.0" cy="485.2" r="0.65" fill="#f01818"/>
<circle cx="205.2" cy="487.4" r="0.65" fill="#f01818"/>
<rect x="218.7" y="501.0" width="12.1" height="27.3" fill="#fff" stroke="#b02020" stroke-width="0.6"/>
<path d="M224.8 501.0 v-2.2 M223.2 498.8 h3" stroke="#b02020" stroke-width="0.4" fill="none"/>
<text x="224.75" y="532.00" font-size="2.70" fill="#333" text-anchor="middle" font-weight="400" stroke="#333" stroke-width="0.12">Lungs</text>
<path d="M223.3 496.2 l0.8 1.5 h-1.6z" fill="none" stroke="#f01818" stroke-width="0.3"/>
<path d="M226.2 496.2 l0.8 1.5 h-1.6z" fill="none" stroke="#f01818" stroke-width="0.3"/>
<circle cx="221.6" cy="507.6" r="0.65" fill="#f01818"/>
<circle cx="223.8" cy="508.6" r="0.65" fill="#f01818"/>
<circle cx="225.9" cy="508.0" r="0.65" fill="#f01818"/>
<circle cx="228.2" cy="507.4" r="0.65" fill="#f01818"/>
<circle cx="222.8" cy="511.0" r="0.65" fill="#f01818"/>
<circle cx="225.2" cy="511.6" r="0.65" fill="#f01818"/>
<circle cx="227.3" cy="510.6" r="0.65" fill="#f01818"/>
<path d="M243.0 479.3 V527.4 H286.3" stroke="#222" stroke-width="0.55" fill="none"/>
<path d="M243.0 479.3 h-1.2" stroke="#222" stroke-width="0.4" fill="none"/>
<text x="241.20" y="480.00" font-size="1.90" fill="#333" text-anchor="end" font-weight="400" stroke="#333" stroke-width="0.12">10<tspan font-size="1.3" dy="-0.7">9</tspan></text>
<path d="M243.0 485.3 h-1.2" stroke="#222" stroke-width="0.4" fill="none"/>
<text x="241.20" y="486.01" font-size="1.90" fill="#333" text-anchor="end" font-weight="400" stroke="#333" stroke-width="0.12">10<tspan font-size="1.3" dy="-0.7">8</tspan></text>
<path d="M243.0 491.3 h-1.2" stroke="#222" stroke-width="0.4" fill="none"/>
<text x="241.20" y="492.02" font-size="1.90" fill="#333" text-anchor="end" font-weight="400" stroke="#333" stroke-width="0.12">10<tspan font-size="1.3" dy="-0.7">7</tspan></text>
<path d="M243.0 497.3 h-1.2" stroke="#222" stroke-width="0.4" fill="none"/>
<text x="241.20" y="498.04" font-size="1.90" fill="#333" text-anchor="end" font-weight="400" stroke="#333" stroke-width="0.12">10<tspan font-size="1.3" dy="-0.7">6</tspan></text>
<path d="M243.0 503.4 h-1.2" stroke="#222" stroke-width="0.4" fill="none"/>
<text x="241.20" y="504.05" font-size="1.90" fill="#333" text-anchor="end" font-weight="400" stroke="#333" stroke-width="0.12">10<tspan font-size="1.3" dy="-0.7">5</tspan></text>
<path d="M243.0 509.4 h-1.2" stroke="#222" stroke-width="0.4" fill="none"/>
<text x="241.20" y="510.06" font-size="1.90" fill="#333" text-anchor="end" font-weight="400" stroke="#333" stroke-width="0.12">10<tspan font-size="1.3" dy="-0.7">4</tspan></text>
<path d="M243.0 515.4 h-1.2" stroke="#222" stroke-width="0.4" fill="none"/>
<text x="241.20" y="516.08" font-size="1.90" fill="#333" text-anchor="end" font-weight="400" stroke="#333" stroke-width="0.12">10<tspan font-size="1.3" dy="-0.7">3</tspan></text>
<path d="M243.0 521.4 h-1.2" stroke="#222" stroke-width="0.4" fill="none"/>
<text x="241.20" y="522.09" font-size="1.90" fill="#333" text-anchor="end" font-weight="400" stroke="#333" stroke-width="0.12">10<tspan font-size="1.3" dy="-0.7">2</tspan></text>
<path d="M243.0 527.4 h-1.2" stroke="#222" stroke-width="0.4" fill="none"/>
<text x="241.20" y="528.10" font-size="1.90" fill="#333" text-anchor="end" font-weight="400" stroke="#333" stroke-width="0.12">10<tspan font-size="1.3" dy="-0.7">1</tspan></text>
<text x="267.30" y="477.90" font-size="3.60" fill="#666" text-anchor="middle" font-weight="400" stroke="none">TCID50</text>
<text transform="translate(236.70 503.35) rotate(-90)" font-size="2.00" fill="#222" text-anchor="middle" font-weight="400" stroke="#222" stroke-width="0.12">TCID50</text>
<rect x="250.4" y="482.4" width="12.0" height="45.0" fill="#fff" stroke="#b02020" stroke-width="0.6"/>
<path d="M256.4 482.4 v-2.2 M254.9 480.2 h3" stroke="#b02020" stroke-width="0.4" fill="none"/>
<text x="256.40" y="531.10" font-size="2.70" fill="#333" text-anchor="middle" font-weight="400" stroke="#333" stroke-width="0.12">Brain</text>
<circle cx="253.0" cy="481.2" r="0.65" fill="#f01818"/>
<circle cx="254.8" cy="480.6" r="0.65" fill="#f01818"/>
<circle cx="256.6" cy="482.0" r="0.65" fill="#f01818"/>
<circle cx="258.4" cy="481.0" r="0.65" fill="#f01818"/>
<circle cx="260.0" cy="481.8" r="0.65" fill="#f01818"/>
<circle cx="255.6" cy="483.6" r="0.65" fill="#f01818"/>
<circle cx="257.8" cy="484.2" r="0.65" fill="#f01818"/>
<circle cx="256.6" cy="493.4" r="0.65" fill="#f01818"/>
<rect x="268.3" y="498.3" width="12.3" height="29.1" fill="#fff" stroke="#b02020" stroke-width="0.6"/>
<path d="M274.5 498.3 v-2.2 M273.0 496.1 h3" stroke="#b02020" stroke-width="0.4" fill="none"/>
<text x="274.45" y="531.10" font-size="2.70" fill="#333" text-anchor="middle" font-weight="400" stroke="#333" stroke-width="0.12">Lungs</text>
<path d="M273.9 494.6 l0.8 1.5 h-1.6z" fill="none" stroke="#f01818" stroke-width="0.3"/>
<path d="M276.3 493.8 l0.8 1.5 h-1.6z" fill="none" stroke="#f01818" stroke-width="0.3"/>
<circle cx="274.5" cy="501.4" r="0.65" fill="#f01818"/>
<circle cx="274.8" cy="504.6" r="0.65" fill="#f01818"/>
<circle cx="274.3" cy="507.6" r="0.65" fill="#f01818"/>
<circle cx="274.7" cy="511.0" r="0.65" fill="#f01818"/>
<circle cx="274.5" cy="526.2" r="0.65" fill="#f01818"/>
<!-- g_fig2 -->
<text x="305.00" y="148.20" font-size="5.00" fill="#3c3cff" text-anchor="start" font-weight="700" stroke="#3c3cff" stroke-width="0.20">A.</text>
<text x="426.00" y="148.20" font-size="5.00" fill="#3c3cff" text-anchor="start" font-weight="700" stroke="#3c3cff" stroke-width="0.20">B.</text>
<text x="327.80" y="152.60" font-size="4.20" fill="#333" text-anchor="middle" font-weight="400" stroke="none">SARS-CoV-2</text>
<text x="385.30" y="152.60" font-size="4.20" fill="#333" text-anchor="middle" font-weight="400" stroke="none">H&amp;E</text>
<text transform="translate(309.20 167.90) rotate(-90)" font-size="4.20" fill="#333" text-anchor="middle" font-weight="400" stroke="none">Uninfected</text>
<text transform="translate(309.20 197.20) rotate(-90)" font-size="4.20" fill="#333" text-anchor="middle" font-weight="400" stroke="none">SARS-CoV-2</text>
<rect x="310.20" y="153.90" width="36.80" height="27.70" fill="#fdfaf7"/>
<rect x="310.20" y="153.90" width="36.80" height="27.70" filter="url(#n0)"/>
<rect x="310.20" y="153.90" width="36.80" height="27.70" filter="url(#n1)"/>
<rect x="310.20" y="183.50" width="36.80" height="27.90" fill="#f4e6d8"/>
<rect x="310.20" y="183.50" width="36.80" height="27.90" filter="url(#n2)"/>
<rect x="310.20" y="183.50" width="36.80" height="27.90" filter="url(#n3)"/>
<ellipse cx="322" cy="197" rx="4.5" ry="3.6" fill="#fbf4ee" opacity="0.85"/>
<path d="M317.5 186.5 l-3.2 2.4" stroke="#ff2a1a" stroke-width="0.7" fill="none"/>
<path d="M333.0 194.5 l-3.2 2.4" stroke="#ff2a1a" stroke-width="0.7" fill="none"/>
<path d="M326.0 200.5 l-3.2 2.4" stroke="#ff2a1a" stroke-width="0.7" fill="none"/>
<rect x="348.20" y="153.90" width="37.10" height="27.70" fill="#ead6ec"/>
<rect x="348.20" y="153.90" width="37.10" height="27.70" filter="url(#n4)"/>
<rect x="348.20" y="183.50" width="37.10" height="27.90" fill="#ead6ec"/>
<rect x="348.20" y="183.50" width="37.10" height="27.90" filter="url(#n5)"/>
<rect x="364.3" y="172.5" width="5" height="4.4" fill="none" stroke="#9a8aa0" stroke-width="0.4"/>
<circle cx="366.3" cy="199.2" r="3.1" fill="#9a5aa6" opacity="0.75"/>
<rect x="386.30" y="153.90" width="37.30" height="27.70" fill="#fefbfe"/>
<rect x="386.30" y="153.90" width="37.30" height="27.70" filter="url(#n6)"/>
<rect x="386.30" y="153.90" width="37.30" height="27.70" filter="url(#n7)"/>
<rect x="386.30" y="183.50" width="37.30" height="27.90" fill="#f1d9f1"/>
<rect x="386.30" y="183.50" width="37.30" height="27.90" filter="url(#n8)"/>
<rect x="386.30" y="183.50" width="37.30" height="27.90" filter="url(#n9)"/>
<path d="M400.5 192.5 l-2.4 1.6 M404 194 l-2.4 1.6" stroke="#30a050" stroke-width="0.6" fill="none"/>
<path d="M439.5 155.6 V206.2 H526.9" stroke="#222" stroke-width="0.55" fill="none"/>
<path d="M439.5 156.3 h-1.2" stroke="#222" stroke-width="0.4" fill="none"/>
<text x="437.90" y="157.10" font-size="2.10" fill="#000" text-anchor="end" font-weight="700" stroke="none">100000</text>
<path d="M439.5 164.6 h-1.2" stroke="#222" stroke-width="0.4" fill="none"/>
<text x="437.90" y="165.42" font-size="2.10" fill="#000" text-anchor="end" font-weight="700" stroke="none">10000</text>
<path d="M439.5 172.9 h-1.2" stroke="#222" stroke-width="0.4" fill="none"/>
<text x="437.90" y="173.73" font-size="2.10" fill="#000" text-anchor="end" font-weight="700" stroke="none">1000</text>
<path d="M439.5 181.2 h-1.2" stroke="#222" stroke-width="0.4" fill="none"/>
<text x="437.90" y="182.05" font-size="2.10" fill="#000" text-anchor="end" font-weight="700" stroke="none">100</text>
<path d="M439.5 189.6 h-1.2" stroke="#222" stroke-width="0.4" fill="none"/>
<text x="437.90" y="190.37" font-size="2.10" fill="#000" text-anchor="end" font-weight="700" stroke="none">10</text>
<path d="M439.5 197.9 h-1.2" stroke="#222" stroke-width="0.4" fill="none"/>
<text x="437.90" y="198.68" font-size="2.10" fill="#000" text-anchor="end" font-weight="700" stroke="none">1</text>
<path d="M439.5 206.2 h-1.2" stroke="#222" stroke-width="0.4" fill="none"/>
<text x="437.90" y="207.00" font-size="2.10" fill="#000" text-anchor="end" font-weight="700" stroke="none">0.1</text>
<text transform="translate(431.00 181.00) rotate(-90)" font-size="2.60" fill="#000" text-anchor="middle" font-weight="700" stroke="#000" stroke-width="0.20">Normalized counts</text>
<path d="M442.4 192.8 V197.3 M441.2 194.6 h2.4 M441.6 192.8 h1.6 M441.6 197.3 h1.6" stroke="#f01818" stroke-width="0.3" fill="none"/>
<circle cx="443.4" cy="193.8" r="0.7" fill="#f01818"/>
<circle cx="442.6" cy="193.6" r="0.7" fill="#f01818"/>
<circle cx="442.7" cy="193.6" r="0.7" fill="#f01818"/>
<circle cx="441.9" cy="192.4" r="0.7" fill="#f01818"/>
<circle cx="443.1" cy="196.1" r="0.7" fill="#f01818"/>
<circle cx="441.3" cy="197.5" r="0.7" fill="#f01818"/>
<text transform="translate(443.19 207.80) rotate(-50)" font-size="2.50" fill="#000" text-anchor="end" font-weight="700" stroke="#000" stroke-width="0.20">Ccl2</text>
<path d="M447.4 195.7 V197.3 M446.2 196.0 h2.4 M446.6 195.7 h1.6 M446.6 197.3 h1.6" stroke="#f01818" stroke-width="0.3" fill="none"/>
<circle cx="447.8" cy="196.4" r="0.7" fill="#f01818"/>
<circle cx="446.3" cy="195.3" r="0.7" fill="#f01818"/>
<circle cx="446.4" cy="197.4" r="0.7" fill="#f01818"/>
<text transform="translate(448.24 207.80) rotate(-50)" font-size="2.50" fill="#000" text-anchor="end" font-weight="700" stroke="#000" stroke-width="0.20">Ccl7</text>
<path d="M452.5 173.3 V179.3 M451.3 175.8 h2.4 M451.7 173.3 h1.6 M451.7 179.3 h1.6" stroke="#f01818" stroke-width="0.3" fill="none"/>
<circle cx="451.4" cy="173.5" r="0.7" fill="#f01818"/>
<circle cx="453.3" cy="174.3" r="0.7" fill="#f01818"/>
<circle cx="452.5" cy="175.0" r="0.7" fill="#f01818"/>
<circle cx="452.0" cy="174.3" r="0.7" fill="#f01818"/>
<circle cx="453.3" cy="176.3" r="0.7" fill="#f01818"/>
<circle cx="452.1" cy="177.7" r="0.7" fill="#f01818"/>
<circle cx="452.0" cy="178.2" r="0.7" fill="#f01818"/>
<circle cx="453.1" cy="179.0" r="0.7" fill="#f01818"/>
<text transform="translate(453.30 207.80) rotate(-50)" font-size="2.50" fill="#000" text-anchor="end" font-weight="700" stroke="#000" stroke-width="0.20">Cxcl10</text>
<path d="M457.8 171.8 V177.8 M456.6 174.3 h2.4 M457.0 171.8 h1.6 M457.0 177.8 h1.6" stroke="#f01818" stroke-width="0.3" fill="none"/>
<circle cx="457.6" cy="174.3" r="0.7" fill="#f01818"/>
<circle cx="456.6" cy="174.3" r="0.7" fill="#f01818"/>
<circle cx="457.8" cy="174.5" r="0.7" fill="#f01818"/>
<circle cx="456.8" cy="172.7" r="0.7" fill="#f01818"/>
<circle cx="457.3" cy="174.0" r="0.7" fill="#f01818"/>
<circle cx="457.4" cy="175.8" r="0.7" fill="#f01818"/>
<circle cx="458.5" cy="177.3" r="0.7" fill="#f01818"/>
<circle cx="457.2" cy="177.6" r="0.7" fill="#f01818"/>
<text transform="translate(458.64 207.80) rotate(-50)" font-size="2.50" fill="#000" text-anchor="end" font-weight="700" stroke="#000" stroke-width="0.20">Cxcl9</text>
<path d="M462.6 184.8 V197.3 M461.4 190.6 h2.4 M461.8 184.8 h1.6 M461.8 197.3 h1.6" stroke="#f01818" stroke-width="0.3" fill="none"/>
<circle cx="463.3" cy="184.6" r="0.7" fill="#f01818"/>
<circle cx="462.5" cy="188.1" r="0.7" fill="#f01818"/>
<circle cx="461.7" cy="189.2" r="0.7" fill="#f01818"/>
<circle cx="462.4" cy="185.0" r="0.7" fill="#f01818"/>
<circle cx="463.7" cy="186.1" r="0.7" fill="#f01818"/>
<circle cx="462.1" cy="195.3" r="0.7" fill="#f01818"/>
<circle cx="461.9" cy="197.4" r="0.7" fill="#f01818"/>
<text transform="translate(463.41 207.80) rotate(-50)" font-size="2.50" fill="#000" text-anchor="end" font-weight="700" stroke="#000" stroke-width="0.20">Cxcl11</text>
<path d="M467.7 186.3 V195.2 M466.5 190.2 h2.4 M466.9 186.3 h1.6 M466.9 195.2 h1.6" stroke="#f01818" stroke-width="0.3" fill="none"/>
<circle cx="468.0" cy="190.0" r="0.7" fill="#f01818"/>
<circle cx="467.0" cy="190.7" r="0.7" fill="#f01818"/>
<circle cx="467.3" cy="189.6" r="0.7" fill="#f01818"/>
<circle cx="466.7" cy="186.0" r="0.7" fill="#f01818"/>
<circle cx="467.1" cy="193.2" r="0.7" fill="#f01818"/>
<circle cx="467.4" cy="194.9" r="0.7" fill="#f01818"/>
<text transform="translate(468.47 207.80) rotate(-50)" font-size="2.50" fill="#000" text-anchor="end" font-weight="700" stroke="#000" stroke-width="0.20">Ifit1</text>
<path d="M472.7 184.1 V188.7 M471.5 185.9 h2.4 M471.9 184.1 h1.6 M471.9 188.7 h1.6" stroke="#f01818" stroke-width="0.3" fill="none"/>
<circle cx="472.7" cy="186.3" r="0.7" fill="#f01818"/>
<circle cx="472.0" cy="186.0" r="0.7" fill="#f01818"/>
<circle cx="473.5" cy="186.1" r="0.7" fill="#f01818"/>
<circle cx="473.3" cy="184.0" r="0.7" fill="#f01818"/>
<circle cx="472.0" cy="188.1" r="0.7" fill="#f01818"/>
<circle cx="473.6" cy="189.0" r="0.7" fill="#f01818"/>
<text transform="translate(473.52 207.80) rotate(-50)" font-size="2.50" fill="#000" text-anchor="end" font-weight="700" stroke="#000" stroke-width="0.20">Ifit3</text>
<path d="M478.1 181.9 V190.1 M476.9 185.5 h2.4 M477.3 181.9 h1.6 M477.3 190.1 h1.6" stroke="#f01818" stroke-width="0.3" fill="none"/>
<circle cx="477.1" cy="183.3" r="0.7" fill="#f01818"/>
<circle cx="477.4" cy="185.9" r="0.7" fill="#f01818"/>
<circle cx="478.8" cy="182.5" r="0.7" fill="#f01818"/>
<circle cx="477.3" cy="182.7" r="0.7" fill="#f01818"/>
<circle cx="477.0" cy="188.5" r="0.7" fill="#f01818"/>
<circle cx="478.2" cy="189.4" r="0.7" fill="#f01818"/>
<text transform="translate(478.87 207.80) rotate(-50)" font-size="2.50" fill="#000" text-anchor="end" font-weight="700" stroke="#000" stroke-width="0.20">Isg15</text>
<path d="M483.3 166.0 V178.6 M482.1 171.8 h2.4 M482.5 166.0 h1.6 M482.5 178.6 h1.6" stroke="#f01818" stroke-width="0.3" fill="none"/>
<circle cx="482.7" cy="169.7" r="0.7" fill="#f01818"/>
<circle cx="482.1" cy="166.8" r="0.7" fill="#f01818"/>
<circle cx="482.2" cy="168.5" r="0.7" fill="#f01818"/>
<circle cx="483.4" cy="168.0" r="0.7" fill="#f01818"/>
<circle cx="484.2" cy="167.9" r="0.7" fill="#f01818"/>
<circle cx="483.7" cy="170.0" r="0.7" fill="#f01818"/>
<circle cx="482.4" cy="175.3" r="0.7" fill="#f01818"/>
<circle cx="482.1" cy="176.2" r="0.7" fill="#f01818"/>
<circle cx="483.7" cy="178.8" r="0.7" fill="#f01818"/>
<text transform="translate(484.07 207.80) rotate(-50)" font-size="2.50" fill="#000" text-anchor="end" font-weight="700" stroke="#000" stroke-width="0.20">Irf7</text>
<path d="M488.2 182.7 V197.3 M487.0 189.5 h2.4 M487.4 182.7 h1.6 M487.4 197.3 h1.6" stroke="#f01818" stroke-width="0.3" fill="none"/>
<circle cx="488.5" cy="182.2" r="0.7" fill="#f01818"/>
<circle cx="487.7" cy="187.9" r="0.7" fill="#f01818"/>
<circle cx="488.3" cy="182.7" r="0.7" fill="#f01818"/>
<circle cx="488.7" cy="189.2" r="0.7" fill="#f01818"/>
<circle cx="489.2" cy="188.4" r="0.7" fill="#f01818"/>
<circle cx="488.6" cy="194.0" r="0.7" fill="#f01818"/>
<circle cx="489.1" cy="197.3" r="0.7" fill="#f01818"/>
<text transform="translate(488.98 207.80) rotate(-50)" font-size="2.50" fill="#000" text-anchor="end" font-weight="700" stroke="#000" stroke-width="0.20">Oas1a</text>
<path d="M493.2 182.7 V197.3 M492.0 189.5 h2.4 M492.4 182.7 h1.6 M492.4 197.3 h1.6" stroke="#f01818" stroke-width="0.3" fill="none"/>
<circle cx="494.1" cy="188.3" r="0.7" fill="#f01818"/>
<circle cx="493.0" cy="187.0" r="0.7" fill="#f01818"/>
<circle cx="492.2" cy="186.9" r="0.7" fill="#f01818"/>
<circle cx="494.1" cy="189.9" r="0.7" fill="#f01818"/>
<circle cx="493.8" cy="185.1" r="0.7" fill="#f01818"/>
<circle cx="493.1" cy="192.9" r="0.7" fill="#f01818"/>
<circle cx="492.2" cy="195.3" r="0.7" fill="#f01818"/>
<circle cx="492.1" cy="197.2" r="0.7" fill="#f01818"/>
<text transform="translate(494.03 207.80) rotate(-50)" font-size="2.50" fill="#000" text-anchor="end" font-weight="700" stroke="#000" stroke-width="0.20">Oasl1</text>
<path d="M498.4 174.0 V182.2 M497.2 177.6 h2.4 M497.6 174.0 h1.6 M497.6 182.2 h1.6" stroke="#f01818" stroke-width="0.3" fill="none"/>
<circle cx="497.8" cy="175.6" r="0.7" fill="#f01818"/>
<circle cx="498.7" cy="175.7" r="0.7" fill="#f01818"/>
<circle cx="497.3" cy="174.6" r="0.7" fill="#f01818"/>
<circle cx="497.7" cy="176.6" r="0.7" fill="#f01818"/>
<circle cx="498.8" cy="177.6" r="0.7" fill="#f01818"/>
<circle cx="499.4" cy="180.6" r="0.7" fill="#f01818"/>
<circle cx="498.8" cy="181.8" r="0.7" fill="#f01818"/>
<text transform="translate(499.23 207.80) rotate(-50)" font-size="2.50" fill="#000" text-anchor="end" font-weight="700" stroke="#000" stroke-width="0.20">Stat1</text>
<path d="M503.3 175.4 V184.3 M502.1 179.4 h2.4 M502.5 175.4 h1.6 M502.5 184.3 h1.6" stroke="#f01818" stroke-width="0.3" fill="none"/>
<circle cx="504.1" cy="177.0" r="0.7" fill="#f01818"/>
<circle cx="503.1" cy="179.3" r="0.7" fill="#f01818"/>
<circle cx="502.5" cy="176.4" r="0.7" fill="#f01818"/>
<circle cx="504.2" cy="179.1" r="0.7" fill="#f01818"/>
<circle cx="502.8" cy="179.6" r="0.7" fill="#f01818"/>
<circle cx="503.2" cy="182.3" r="0.7" fill="#f01818"/>
<circle cx="502.7" cy="183.8" r="0.7" fill="#f01818"/>
<text transform="translate(504.15 207.80) rotate(-50)" font-size="2.50" fill="#000" text-anchor="end" font-weight="700" stroke="#000" stroke-width="0.20">Stat2</text>
<path d="M508.4 176.9 V182.9 M507.2 179.4 h2.4 M507.6 176.9 h1.6 M507.6 182.9 h1.6" stroke="#f01818" stroke-width="0.3" fill="none"/>
<circle cx="508.4" cy="178.5" r="0.7" fill="#f01818"/>
<circle cx="509.6" cy="179.3" r="0.7" fill="#f01818"/>
<circle cx="507.3" cy="176.5" r="0.7" fill="#f01818"/>
<circle cx="508.9" cy="176.4" r="0.7" fill="#f01818"/>
<circle cx="509.1" cy="177.4" r="0.7" fill="#f01818"/>
<circle cx="507.5" cy="181.5" r="0.7" fill="#f01818"/>
<circle cx="507.3" cy="182.8" r="0.7" fill="#f01818"/>
<text transform="translate(509.20 207.80) rotate(-50)" font-size="2.50" fill="#000" text-anchor="end" font-weight="700" stroke="#000" stroke-width="0.20">Mx1</text>
<path d="M513.6 168.9 V180.0 M512.4 174.0 h2.4 M512.8 168.9 h1.6 M512.8 180.0 h1.6" stroke="#f01818" stroke-width="0.3" fill="none"/>
<circle cx="512.7" cy="169.8" r="0.7" fill="#f01818"/>
<circle cx="513.5" cy="172.2" r="0.7" fill="#f01818"/>
<circle cx="514.3" cy="172.4" r="0.7" fill="#f01818"/>
<circle cx="512.9" cy="172.5" r="0.7" fill="#f01818"/>
<circle cx="512.4" cy="169.4" r="0.7" fill="#f01818"/>
<circle cx="514.1" cy="176.6" r="0.7" fill="#f01818"/>
<circle cx="513.1" cy="177.8" r="0.7" fill="#f01818"/>
<circle cx="514.1" cy="179.5" r="0.7" fill="#f01818"/>
<text transform="translate(514.40 207.80) rotate(-50)" font-size="2.50" fill="#000" text-anchor="end" font-weight="700" stroke="#000" stroke-width="0.20">Zbp1</text>
<path d="M518.7 174.0 V180.7 M517.5 176.9 h2.4 M517.9 174.0 h1.6 M517.9 180.7 h1.6" stroke="#f01818" stroke-width="0.3" fill="none"/>
<circle cx="519.3" cy="175.8" r="0.7" fill="#f01818"/>
<circle cx="519.6" cy="176.5" r="0.7" fill="#f01818"/>
<circle cx="519.2" cy="177.1" r="0.7" fill="#f01818"/>
<circle cx="519.0" cy="175.2" r="0.7" fill="#f01818"/>
<circle cx="518.8" cy="174.9" r="0.7" fill="#f01818"/>
<circle cx="519.4" cy="179.9" r="0.7" fill="#f01818"/>
<circle cx="518.6" cy="181.1" r="0.7" fill="#f01818"/>
<text transform="translate(519.46 207.80) rotate(-50)" font-size="2.50" fill="#000" text-anchor="end" font-weight="700" stroke="#000" stroke-width="0.20">Usp18</text>
<path d="M523.7 162.4 V164.8 M522.5 163.1 h2.4 M522.9 162.4 h1.6 M522.9 164.8 h1.6" stroke="#f01818" stroke-width="0.3" fill="none"/>
<circle cx="524.2" cy="162.2" r="0.7" fill="#f01818"/>
<circle cx="524.2" cy="163.0" r="0.7" fill="#f01818"/>
<circle cx="524.9" cy="163.5" r="0.7" fill="#f01818"/>
<circle cx="524.4" cy="162.8" r="0.7" fill="#f01818"/>
<circle cx="524.7" cy="164.4" r="0.7" fill="#f01818"/>
<circle cx="523.3" cy="165.3" r="0.7" fill="#f01818"/>
<text transform="translate(524.51 207.80) rotate(-50)" font-size="2.50" fill="#000" text-anchor="end" font-weight="700" stroke="#000" stroke-width="0.20">Gbp5</text>
<!-- g_fig3 -->
<text x="306.30" y="253.30" font-size="5.00" fill="#3c3cff" text-anchor="start" font-weight="700" stroke="#3c3cff" stroke-width="0.20">A.</text>
<text x="307.00" y="325.00" font-size="5.00" fill="#3c3cff" text-anchor="start" font-weight="700" stroke="#3c3cff" stroke-width="0.20">B.</text>
<text x="307.00" y="368.80" font-size="5.00" fill="#3c3cff" text-anchor="start" font-weight="700" stroke="#3c3cff" stroke-width="0.20">C.</text>
<rect x="303.60" y="254.70" width="117.10" height="64.40" fill="#000"/>
<g clip-path="url(#cpA1)"><g transform="translate(303.6 254.7)">
<use href="#brainL" fill="#1d1352" filter="url(#bl1)"/>
<g filter="url(#bl2)">
<ellipse cx="14" cy="37" rx="10" ry="7.5" fill="#181050"/>
<ellipse cx="34" cy="40" rx="12" ry="9" fill="#17175e"/>
<ellipse cx="62" cy="32" rx="11" ry="9" fill="#1a3078"/>
<ellipse cx="82" cy="34" rx="13" ry="11" fill="#4a1c72"/>
<path d="M33 31 C38 22 46 15 58 11 C66 9 74 10 80 13" stroke="#c41c3c" stroke-width="4" fill="none"/>
<path d="M40 51 C52 57 64 55 76 53 C88 53 100 59 113 55" stroke="#c01830" stroke-width="6" fill="none"/>
<path d="M66 42 C74 38 84 40 92 44" stroke="#a01c44" stroke-width="4" fill="none"/>
</g>
<g filter="url(#bl1)">
<ellipse cx="103" cy="29" rx="6.5" ry="8" fill="#2c2cd8"/>
<path d="M18 24 C28 14 42 8 58 6.5" stroke="#2a1868" stroke-width="2.6" fill="none"/>
</g>
<g filter="url(#bl05)" fill="none">
<path d="M50 19 C56 14 66 12.5 75 15.5" stroke="#05050f" stroke-width="2"/>
<path d="M50 21 C56 16.5 66 15 74 18" stroke="#2a30c8" stroke-width="1.3"/>
<path d="M47 20 C49 28 50 34 50 41" stroke="#c2203c" stroke-width="1.5"/>
<path d="M5 33 C9 29 15 28 21 30" stroke="#2a2a8c" stroke-width="1"/>
<path d="M96 37 l7 -1.5 l6 1 M98 32 l5 -2" stroke="#04040c" stroke-width="1.5"/>
<path d="M99 30 l4 3 l4 -2" stroke="#a030c0" stroke-width="1"/>
<circle cx="45.6" cy="41.6" r="1.5" fill="#e0203c" stroke="none"/>
</g>
</g></g>
<rect x="303.60" y="254.70" width="117.10" height="64.40" filter="url(#n10)"/>
<rect x="303.6" y="254.7" width="117.1" height="64.4" fill="none" stroke="#6fcf97" stroke-width="0.8"/>
<text x="311.00" y="317.60" font-size="3.30" fill="#2020ff" text-anchor="start" font-weight="700" stroke="#2020ff" stroke-width="0.20">DAPI</text>
<text x="324.00" y="317.60" font-size="3.30" fill="#18c060" text-anchor="start" font-weight="700" stroke="#18c060" stroke-width="0.20">SARS-CoV-2</text>
<text x="349.00" y="317.60" font-size="3.30" fill="#ff2020" text-anchor="start" font-weight="700" stroke="#ff2020" stroke-width="0.20">NF-H</text>
<rect x="422.30" y="254.70" width="115.50" height="64.50" fill="#000"/>
<g clip-path="url(#cpA2)"><g transform="translate(422.3 254.7)">
<use href="#brainR" fill="#182010" filter="url(#bl05)"/>
<g filter="url(#bl2)">
<ellipse cx="11" cy="38" rx="10" ry="8" fill="#1a3c1c"/>
<ellipse cx="35" cy="32" rx="8" ry="11" fill="#12303c"/>
<ellipse cx="53" cy="37" rx="8" ry="10" fill="#3a2c18"/>
<ellipse cx="40" cy="48" rx="12" ry="5" fill="#27501c"/>
<ellipse cx="75" cy="33" rx="15" ry="13" fill="#463818"/>
<ellipse cx="98" cy="32" rx="8.5" ry="10" fill="#262868"/>
<ellipse cx="95" cy="50" rx="18" ry="9" fill="#48581a"/>
<ellipse cx="66" cy="9" rx="9" ry="5.5" fill="#5a1838"/>
<path d="M14 27 C18 17 28 9 40 5.5 C48 3.5 56 3 62 2.5" stroke="#1f6e2c" stroke-width="5" fill="none"/>
<path d="M21 31 C25 21 34 14 46 10 C54 8 62 7.5 70 8" stroke="#8a1838" stroke-width="2.6" fill="none"/>
</g>
<g filter="url(#bl1)">
<circle cx="55" cy="34" r="4" fill="#2c8c2c"/>
<circle cx="44" cy="39" r="2.4" fill="#2c8c2c"/>
<ellipse cx="70" cy="27" rx="3" ry="6" fill="#2e8a1e"/>
<circle cx="61" cy="42" r="4" fill="#2a8a22"/>
<ellipse cx="82" cy="38" rx="5" ry="4" fill="#36801c"/>
<ellipse cx="98" cy="52" rx="8" ry="4" fill="#3a9a1c"/>
<ellipse cx="84" cy="48" rx="5" ry="4" fill="#2e8a1e"/>
<ellipse cx="46" cy="8" rx="5" ry="2" fill="#2a9a30"/>
</g>
<use href="#brainR" fill="none" stroke="#c8182c" stroke-width="0.7" opacity="0.75" filter="url(#bl05)"/>
<g filter="url(#bl05)" fill="none">
<path d="M43 22 C47 15 55 13 62 15" stroke="#c8182c" stroke-width="1"/>
<path d="M45 23.5 C49 17.5 55 16 61 17.5" stroke="#1a28b0" stroke-width="1.1"/>
<path d="M42 26 C41.5 30 43 34 45 37" stroke="#030303" stroke-width="2"/>
<path d="M42 21 C43 25 43 28 42 31" stroke="#d8202c" stroke-width="1"/>
<path d="M90 35 l6 3 l8 -4 M96 38 l3 -9 M96 38 l8 5" stroke="#d0203a" stroke-width="0.9"/>
<path d="M13 35 l12 5 M16 43 l12 6" stroke="#c82028" stroke-width="0.9"/>
<path d="M60 17 C66 15 72 16 76 15" stroke="#040404" stroke-width="1.6"/>
<path d="M76 52 C84 58 96 60 112 58" stroke="#e05a20" stroke-width="0.9"/>
</g>
</g></g>
<rect x="422.30" y="254.70" width="115.50" height="64.50" filter="url(#n11)"/>
<rect x="422.3" y="254.7" width="115.5" height="64.5" fill="none" stroke="#ff4a4a" stroke-width="0.8"/>
<text x="424.00" y="318.00" font-size="3.30" fill="#1010ff" text-anchor="start" font-weight="700" stroke="#1010ff" stroke-width="0.20">DAPI</text>
<text x="437.00" y="318.00" font-size="3.30" fill="#18c060" text-anchor="start" font-weight="700" stroke="#18c060" stroke-width="0.20">SARS-CoV-2</text>
<text x="462.00" y="318.00" font-size="3.30" fill="#ff2020" text-anchor="start" font-weight="700" stroke="#ff2020" stroke-width="0.20">NF-H</text>
<rect x="520.00" y="316.10" width="15.60" height="1.30" fill="#fff"/>
<g clip-path="url(#cpb1)">
<rect x="304.00" y="327.30" width="56.20" height="36.20" fill="#0a1a44"/>
<g filter="url(#bl2)">
<path d="M302.0 330.6 L315.2 334.2 L329.3 338.5 L338.8 340.0 L349.0 336.4 L362.2 330.6 L362.2 342.9 L349.0 348.7 L338.8 352.3 L329.3 350.8 L315.2 346.5 L302.0 342.9 Z" fill="#0f4a30" />
<path d="M302.0 345.8 L315.2 349.4 L329.3 353.7 L338.8 355.2 L349.0 351.6 L362.2 345.8 L362.2 353.7 L349.0 359.5 L338.8 363.1 L329.3 361.7 L315.2 357.3 L302.0 353.7 Z" fill="#12297a" />
<path d="M302.0 354.8 L315.2 358.4 L329.3 362.8 L338.8 364.2 L349.0 360.6 L362.2 354.8 L362.2 362.1 L349.0 367.8 L338.8 371.5 L329.3 370.0 L315.2 365.7 L302.0 362.1 Z" fill="#0a1c46" />
</g>
<path d="M302.0 337.3 L315.2 340.9 L329.3 345.2 L338.8 346.7 L349.0 343.0 L362.2 337.3 L362.2 342.0 L349.0 347.8 L338.8 351.4 L329.3 349.9 L315.2 345.6 L302.0 342.0 Z" fill="#38e860" filter="url(#n12)"/>
<rect x="304.00" y="327.30" width="56.20" height="36.20" filter="url(#n13)"/>
</g>
<text x="305.20" y="331.00" font-size="2.90" fill="#b4b49a" text-anchor="start" font-weight="400" stroke="none">SARS-CoV-2</text>
<rect x="354.70" y="361.90" width="4.30" height="0.60" fill="#ddd"/>
<g clip-path="url(#cpb2)">
<rect x="362.10" y="328.00" width="56.90" height="35.50" fill="#2c0e3c"/>
<g filter="url(#bl2)">
<path d="M360.1 333.7 L373.5 337.2 L387.7 341.5 L397.4 342.9 L407.6 339.4 L421.0 333.7 L421.0 346.5 L407.6 352.1 L397.4 355.7 L387.7 354.3 L373.5 350.0 L360.1 346.5 Z" fill="#80180f" />
<path d="M360.1 347.5 L373.5 351.1 L387.7 355.3 L397.4 356.8 L407.6 353.2 L421.0 347.5 L421.0 354.6 L407.6 360.3 L397.4 363.9 L387.7 362.4 L373.5 358.2 L360.1 354.6 Z" fill="#3a22a2" />
<path d="M360.1 355.3 L373.5 358.9 L387.7 363.1 L397.4 364.6 L407.6 361.0 L421.0 355.3 L421.0 361.7 L407.6 367.4 L397.4 371.0 L387.7 369.5 L373.5 365.3 L360.1 361.7 Z" fill="#5c1430" />
</g>
<rect x="362.10" y="328.00" width="56.90" height="35.50" filter="url(#n14)"/>
<rect x="362.10" y="328.00" width="56.90" height="35.50" filter="url(#n15)"/>
</g>
<rect x="413.50" y="361.90" width="4.30" height="0.60" fill="#ddd"/>
<g clip-path="url(#cpb3)">
<rect x="422.30" y="327.00" width="56.00" height="36.00" fill="#08084a"/>
<g filter="url(#bl2)">
<path d="M420.3 341.4 L433.5 343.9 L447.5 347.5 L457.0 348.2 L467.1 345.4 L480.3 340.3 L480.3 349.7 L467.1 354.7 L457.0 357.6 L447.5 356.9 L433.5 353.3 L420.3 350.8 Z" fill="#111192" />
<path d="M420.3 353.3 L433.5 355.8 L447.5 359.4 L457.0 360.1 L467.1 357.2 L480.3 352.2 L480.3 359.4 L467.1 364.4 L457.0 367.3 L447.5 366.6 L433.5 363.0 L420.3 360.5 Z" fill="#06063a" />
</g>
<path d="M420.3 334.2 L433.5 336.7 L447.5 340.3 L457.0 341.0 L467.1 338.2 L480.3 333.1 L480.3 342.5 L467.1 347.5 L457.0 350.4 L447.5 349.7 L433.5 346.1 L420.3 343.6 Z" fill="#fff" filter="url(#n16)"/>
<path d="M420.3 332.8 L433.5 335.3 L447.5 338.9 L457.0 339.6 L467.1 336.7 L480.3 331.7 L480.3 346.8 L467.1 351.8 L457.0 354.7 L447.5 354.0 L433.5 350.4 L420.3 347.9 Z" fill="#fff" filter="url(#n17)"/>
<rect x="422.30" y="327.00" width="56.00" height="14.40" filter="url(#n18)"/>
<rect x="422.30" y="327.00" width="56.00" height="36.00" filter="url(#n19)"/>
</g>
<text x="423.50" y="330.70" font-size="2.90" fill="#b4b49a" text-anchor="start" font-weight="400" stroke="none">Spike-RBD</text>
<rect x="472.80" y="361.40" width="4.30" height="0.60" fill="#ddd"/>
<g clip-path="url(#cpb4)">
<rect x="479.60" y="325.20" width="59.60" height="38.60" fill="#2c1230"/>
<g filter="url(#bl2)">
<path d="M477.6 324.4 L491.5 327.1 L506.4 331.0 L516.6 331.8 L527.3 328.7 L541.2 323.3 L541.2 334.8 L527.3 340.3 L516.6 343.3 L506.4 342.6 L491.5 338.7 L477.6 336.0 Z" fill="#481a22" />
<path d="M477.6 342.2 L491.5 344.9 L506.4 348.7 L516.6 349.5 L527.3 346.4 L541.2 341.0 L541.2 349.5 L527.3 354.9 L516.6 358.0 L506.4 357.2 L491.5 353.4 L477.6 350.7 Z" fill="#40205e" />
<path d="M477.6 351.8 L491.5 354.5 L506.4 358.4 L516.6 359.2 L527.3 356.1 L541.2 350.7 L541.2 358.4 L527.3 363.8 L516.6 366.9 L506.4 366.1 L491.5 362.3 L477.6 359.6 Z" fill="#281a4c" />
</g>
<path d="M477.6 332.9 L491.5 335.6 L506.4 339.5 L516.6 340.3 L527.3 337.2 L541.2 331.8 L541.2 341.8 L527.3 347.2 L516.6 350.3 L506.4 349.5 L491.5 345.7 L477.6 343.0 Z" fill="#fff" filter="url(#n20)"/>
<path d="M477.6 331.4 L491.5 334.1 L506.4 337.9 L516.6 338.7 L527.3 335.6 L541.2 330.2 L541.2 346.4 L527.3 351.8 L516.6 354.9 L506.4 354.1 L491.5 350.3 L477.6 347.6 Z" fill="#fff" filter="url(#n21)"/>
<rect x="479.60" y="325.20" width="59.60" height="38.60" filter="url(#n22)"/>
<rect x="479.60" y="325.20" width="59.60" height="38.60" filter="url(#n23)"/>
<rect x="479.60" y="325.20" width="59.60" height="38.60" filter="url(#n24)"/>
</g>
<rect x="479.60" y="325.20" width="59.60" height="38.60" fill="none" stroke="#ff4a4a" stroke-width="1"/>
<rect x="533.70" y="362.20" width="4.30" height="0.60" fill="#ddd"/>
<g clip-path="url(#cpc1)">
<rect x="304.00" y="371.00" width="57.00" height="37.00" fill="#0a1a44"/>
<g filter="url(#bl2)">
<path d="M302.0 376.5 L321.1 375.8 L338.2 375.1 L363.0 375.8 L363.0 388.4 L338.2 387.7 L321.1 388.4 L302.0 389.1 Z" fill="#0f4a30" />
<path d="M302.0 392.1 L321.1 391.3 L338.2 390.6 L363.0 391.3 L363.0 399.5 L338.2 398.8 L321.1 399.5 L302.0 400.2 Z" fill="#12297a" />
<path d="M302.0 401.3 L321.1 400.6 L338.2 399.9 L363.0 400.6 L363.0 408.0 L338.2 407.3 L321.1 408.0 L302.0 408.7 Z" fill="#0a1c46" />
</g>
<path d="M302.0 383.4 L321.1 382.7 L338.2 381.9 L363.0 382.7 L363.0 387.5 L338.2 386.7 L321.1 387.5 L302.0 388.2 Z" fill="#38e860" filter="url(#n25)"/>
<rect x="304.00" y="371.00" width="57.00" height="37.00" filter="url(#n13)"/>
</g>
<text x="305.20" y="374.70" font-size="2.90" fill="#b4b49a" text-anchor="start" font-weight="400" stroke="none">SARS-CoV-2</text>
<rect x="355.50" y="406.40" width="4.30" height="0.60" fill="#ddd"/>
<g clip-path="url(#cpc2)">
<rect x="363.30" y="371.00" width="56.50" height="36.60" fill="#2c0e3c"/>
<g filter="url(#bl2)">
<path d="M361.3 379.1 L380.2 378.3 L397.2 377.6 L421.8 378.3 L421.8 391.5 L397.2 390.8 L380.2 391.5 L361.3 392.2 Z" fill="#80180f" />
<path d="M361.3 393.3 L380.2 392.6 L397.2 391.9 L421.8 392.6 L421.8 399.9 L397.2 399.2 L380.2 399.9 L361.3 400.6 Z" fill="#3a22a2" />
<path d="M361.3 401.4 L380.2 400.6 L397.2 399.9 L421.8 400.6 L421.8 407.2 L397.2 406.5 L380.2 407.2 L361.3 408.0 Z" fill="#5c1430" />
</g>
<rect x="363.30" y="371.00" width="56.50" height="36.60" filter="url(#n14)"/>
<rect x="363.30" y="371.00" width="56.50" height="36.60" filter="url(#n15)"/>
</g>
<rect x="414.30" y="406.00" width="4.30" height="0.60" fill="#ddd"/>
<g clip-path="url(#cpc3)">
<rect x="424.00" y="371.00" width="56.30" height="36.80" fill="#08084a"/>
<g filter="url(#bl2)">
<path d="M422.0 390.5 L440.9 389.8 L457.8 389.0 L482.3 389.8 L482.3 399.3 L457.8 398.6 L440.9 399.3 L422.0 400.1 Z" fill="#111192" />
<path d="M422.0 402.6 L440.9 401.9 L457.8 401.2 L482.3 401.9 L482.3 409.3 L457.8 408.5 L440.9 409.3 L422.0 410.0 Z" fill="#06063a" />
</g>
<path d="M422.0 383.1 L440.9 382.4 L457.8 381.7 L482.3 382.4 L482.3 392.0 L457.8 391.2 L440.9 392.0 L422.0 392.7 Z" fill="#fff" filter="url(#n26)"/>
<path d="M422.0 381.7 L440.9 380.9 L457.8 380.2 L482.3 380.9 L482.3 396.4 L457.8 395.7 L440.9 396.4 L422.0 397.1 Z" fill="#fff" filter="url(#n27)"/>
<rect x="424.00" y="371.00" width="56.30" height="14.72" filter="url(#n18)"/>
<rect x="424.00" y="371.00" width="56.30" height="36.80" filter="url(#n19)"/>
</g>
<text x="425.20" y="374.70" font-size="2.90" fill="#b4b49a" text-anchor="start" font-weight="400" stroke="none">Spike-RBD</text>
<rect x="474.80" y="406.20" width="4.30" height="0.60" fill="#ddd"/>
<g clip-path="url(#cpc4)">
<rect x="481.40" y="369.60" width="59.40" height="38.80" fill="#2c1230"/>
<g filter="url(#bl2)">
<path d="M479.4 373.9 L499.2 373.1 L517.0 372.3 L542.8 373.1 L542.8 384.7 L517.0 384.0 L499.2 384.7 L479.4 385.5 Z" fill="#481a22" />
<path d="M479.4 391.7 L499.2 390.9 L517.0 390.2 L542.8 390.9 L542.8 399.5 L517.0 398.7 L499.2 399.5 L479.4 400.3 Z" fill="#40205e" />
<path d="M479.4 401.4 L499.2 400.6 L517.0 399.9 L542.8 400.6 L542.8 408.4 L517.0 407.6 L499.2 408.4 L479.4 409.2 Z" fill="#281a4c" />
</g>
<path d="M479.4 382.4 L499.2 381.6 L517.0 380.9 L542.8 381.6 L542.8 391.7 L517.0 390.9 L499.2 391.7 L479.4 392.5 Z" fill="#fff" filter="url(#n28)"/>
<path d="M479.4 380.9 L499.2 380.1 L517.0 379.3 L542.8 380.1 L542.8 396.4 L517.0 395.6 L499.2 396.4 L479.4 397.1 Z" fill="#fff" filter="url(#n29)"/>
<rect x="481.40" y="369.60" width="59.40" height="38.80" filter="url(#n22)"/>
<rect x="481.40" y="369.60" width="59.40" height="38.80" filter="url(#n23)"/>
<rect x="481.40" y="369.60" width="59.40" height="38.80" filter="url(#n24)"/>
</g>
<rect x="481.40" y="369.60" width="59.40" height="38.80" fill="none" stroke="#ff4a4a" stroke-width="1"/>
<rect x="535.30" y="406.80" width="4.30" height="0.60" fill="#ddd"/>
<!-- g_fig4 -->
<text x="354.10" y="455.80" font-size="5.20" fill="#000" text-anchor="middle" font-weight="700" textLength="14.5" lengthAdjust="spacingAndGlyphs" stroke="#000" stroke-width="0.20">Cortex</text>
<text x="423.80" y="455.80" font-size="5.20" fill="#000" text-anchor="middle" font-weight="700" textLength="30.0" lengthAdjust="spacingAndGlyphs" stroke="#000" stroke-width="0.20">Hippocampus</text>
<text x="491.00" y="455.80" font-size="5.20" fill="#000" text-anchor="middle" font-weight="700" textLength="24.0" lengthAdjust="spacingAndGlyphs" stroke="#000" stroke-width="0.20">Brain Stem</text>
<text x="336.65" y="464.40" font-size="4.30" fill="#444" text-anchor="middle" font-weight="400" stroke="none">Uninfected</text>
<text x="371.20" y="464.40" font-size="4.30" fill="#444" text-anchor="middle" font-weight="400" stroke="none">SARS-CoV-2</text>
<text x="406.80" y="464.40" font-size="4.30" fill="#444" text-anchor="middle" font-weight="400" stroke="none">Uninfected</text>
<text x="439.60" y="464.40" font-size="4.30" fill="#444" text-anchor="middle" font-weight="400" stroke="none">SARS-CoV-2</text>
<text x="475.00" y="464.40" font-size="4.30" fill="#444" text-anchor="middle" font-weight="400" stroke="none">Uninfected</text>
<text x="509.80" y="464.40" font-size="4.30" fill="#444" text-anchor="middle" font-weight="400" stroke="none">SARS-CoV-2</text>
<text transform="translate(313.80 490.20) rotate(-90)" font-size="4.00" fill="#000" text-anchor="middle" font-weight="700" stroke="#000" stroke-width="0.20">H&amp;E</text>
<text transform="translate(319.20 478.70) rotate(-90)" font-size="2.80" fill="#000" text-anchor="middle" font-weight="700" stroke="#000" stroke-width="0.20">100x</text>
<text transform="translate(319.20 504.60) rotate(-90)" font-size="2.80" fill="#000" text-anchor="middle" font-weight="700" stroke="#000" stroke-width="0.20">630x</text>
<text transform="translate(319.40 529.30) rotate(-90)" font-size="3.40" fill="#000" text-anchor="middle" font-weight="700" textLength="21" lengthAdjust="spacingAndGlyphs" stroke="#000" stroke-width="0.20">SARS-CoV-2</text>
<rect x="320.40" y="465.70" width="32.50" height="24.10" fill="#efb6d6"/>
<rect x="320.40" y="465.70" width="32.50" height="24.10" filter="url(#n30)"/>
<rect x="355.00" y="465.70" width="32.40" height="24.10" fill="#f0b8d8"/>
<rect x="355.00" y="465.70" width="32.40" height="24.10" filter="url(#n31)"/>
<rect x="390.90" y="465.70" width="31.80" height="24.10" fill="#f2c6e0"/>
<rect x="390.90" y="465.70" width="31.80" height="24.10" filter="url(#n32)"/>
<rect x="424.20" y="465.70" width="30.80" height="24.10" fill="#f1c4de"/>
<rect x="424.20" y="465.70" width="30.80" height="24.10" filter="url(#n33)"/>
<rect x="459.00" y="465.70" width="32.00" height="24.10" fill="#f0b8d8"/>
<rect x="459.00" y="465.70" width="32.00" height="24.10" filter="url(#n34)"/>
<rect x="494.00" y="465.70" width="31.60" height="24.10" fill="#f1b8da"/>
<rect x="494.00" y="465.70" width="31.60" height="24.10" filter="url(#n35)"/>
<clipPath id="f4c2"><rect x="390.90" y="465.70" width="31.80" height="24.10"/></clipPath>
<g clip-path="url(#f4c2)">
<path d="M394.9 486.8 C395.9 471.7 404.9 468.7 410.9 474.7" stroke="#d4a4d4" stroke-width="1.2" fill="none"/>
<path d="M407.9 485.7 C409.9 475.7 414.9 473.7 417.9 477.7 S416.9 485.7 412.9 484.7" stroke="#c294cc" stroke-width="1.3" fill="none"/>
<path d="M410.9 464.7 L423.7 478.7" stroke="#fbf4fa" stroke-width="2.4" fill="none"/>
</g>
<clipPath id="f4c3"><rect x="424.20" y="465.70" width="30.80" height="24.10"/></clipPath>
<g clip-path="url(#f4c3)">
<path d="M426.2 469.7 C434.2 468.7 446.2 475.7 451.2 487.7" stroke="#d4a4d4" stroke-width="1.4" fill="none"/>
<path d="M432.2 466.7 C440.2 468.7 448.2 471.7 452.2 477.7" stroke="#d8aed8" stroke-width="1.1" fill="none"/>
<path d="M423.2 464.7 L429.2 473.7" stroke="#cc9cd0" stroke-width="1.4" fill="none"/>
</g>
<rect x="459.00" y="465.70" width="4.60" height="24.10" fill="#c79cc4" opacity="0.8"/>
<path d="M479.0 465.7 C484.0 473.7 487.0 481.7 488.0 489.8" stroke="#fbf6fa" stroke-width="1.6" fill="none"/>
<path d="M464.0 467.7 L465.5 487.8" stroke="#f8eef6" stroke-width="0.9" fill="none"/>
<path d="M494.0 465.7 h11 c-2 3 -4 3 -4.5 6 c-0.5 3 3 4 1 7 c-2 3 -5 3 -7.5 4z" fill="#fdf8fc"/>
<path d="M494.0 477.7 c3 -1 5 1 6 4 c1 3 0 5 -1 8 h-5z" fill="#fdf8fc"/>
<rect x="320.40" y="491.70" width="32.50" height="24.10" fill="#ccb8ee"/>
<rect x="320.40" y="491.70" width="32.50" height="24.10" filter="url(#n36)"/>
<rect x="320.40" y="491.70" width="32.50" height="24.10" filter="url(#n37)"/>
<rect x="355.00" y="491.70" width="32.40" height="24.10" fill="#cdbaee"/>
<rect x="355.00" y="491.70" width="32.40" height="24.10" filter="url(#n38)"/>
<rect x="355.00" y="491.70" width="32.40" height="24.10" filter="url(#n39)"/>
<rect x="355.00" y="491.70" width="32.40" height="24.10" filter="url(#n40)"/>
<rect x="390.90" y="491.70" width="31.80" height="24.10" fill="#b9b6ea"/>
<rect x="390.90" y="491.70" width="31.80" height="24.10" filter="url(#n41)"/>
<path d="M393.9 505.7 c6 -6 16 -10 24 -9 l4 12 c-8 2 -14 8 -20 9z" fill="#9c94dc" opacity="0.75" filter="url(#bl1)"/>
<rect x="424.20" y="491.70" width="30.80" height="24.10" fill="#d6c2f0"/>
<rect x="424.20" y="491.70" width="30.80" height="24.10" filter="url(#n42)"/>
<rect x="424.20" y="491.70" width="30.80" height="24.10" filter="url(#n43)"/>
<rect x="424.20" y="491.70" width="30.80" height="24.10" filter="url(#n44)"/>
<rect x="459.00" y="491.70" width="32.00" height="24.10" fill="#edd0f2"/>
<rect x="459.00" y="491.70" width="32.00" height="24.10" filter="url(#n45)"/>
<rect x="459.00" y="491.70" width="32.00" height="24.10" filter="url(#n46)"/>
<rect x="494.00" y="491.70" width="31.60" height="24.10" fill="#cdb6ec"/>
<rect x="494.00" y="491.70" width="31.60" height="24.10" filter="url(#n47)"/>
<rect x="494.00" y="491.70" width="31.60" height="24.10" filter="url(#n48)"/>
<rect x="494.00" y="491.70" width="31.60" height="24.10" filter="url(#n49)"/>
<path d="M372.5 495.5 l-3 1.6" stroke="#222" stroke-width="0.7" fill="none"/>
<path d="M378.5 505.0 l-3 1.6" stroke="#222" stroke-width="0.7" fill="none"/>
<path d="M443.5 500.2 l-3 1.6" stroke="#222" stroke-width="0.7" fill="none"/>
<path d="M440.0 505.6 l-3 1.6" stroke="#222" stroke-width="0.7" fill="none"/>
<path d="M510.2 496.5 l-3 1.6" stroke="#222" stroke-width="0.7" fill="none"/>
<path d="M510.2 501.5 l-3 1.6" stroke="#222" stroke-width="0.7" fill="none"/>
<rect x="320.40" y="518.00" width="32.50" height="23.90" fill="#e6d3c0"/>
<rect x="320.40" y="518.00" width="32.50" height="23.90" filter="url(#n50)"/>
<rect x="355.00" y="518.00" width="32.40" height="23.90" fill="#ead6bf"/>
<rect x="355.00" y="518.00" width="32.40" height="23.90" filter="url(#n51)"/>
<rect x="355.00" y="518.00" width="32.40" height="23.90" filter="url(#n52)"/>
<rect x="355.00" y="518.00" width="32.40" height="23.90" filter="url(#n53)"/>
<rect x="390.90" y="518.00" width="31.80" height="23.90" fill="#e7d5c3"/>
<rect x="390.90" y="518.00" width="31.80" height="23.90" filter="url(#n54)"/>
<rect x="424.20" y="518.00" width="30.80" height="23.90" fill="#ead8c2"/>
<rect x="424.20" y="518.00" width="30.80" height="23.90" filter="url(#n55)"/>
<rect x="424.20" y="518.00" width="30.80" height="23.90" filter="url(#n56)"/>
<rect x="424.20" y="518.00" width="30.80" height="23.90" filter="url(#n57)"/>
<rect x="459.00" y="518.00" width="32.00" height="23.90" fill="#e2cfbb"/>
<rect x="459.00" y="518.00" width="32.00" height="23.90" filter="url(#n58)"/>
<rect x="494.00" y="518.00" width="31.60" height="23.90" fill="#e4cfb8"/>
<rect x="494.00" y="518.00" width="31.60" height="23.90" filter="url(#n59)"/>
<rect x="494.00" y="518.00" width="31.60" height="23.90" filter="url(#n60)"/>
<rect x="494.00" y="518.00" width="31.60" height="23.90" filter="url(#n61)"/>
<path d="M370.5 523.8 l-3.4 1.8" stroke="#f02818" stroke-width="0.7" fill="none"/>
<path d="M381.5 531.0 l-3.4 1.8" stroke="#f02818" stroke-width="0.7" fill="none"/>
<path d="M445.5 520.8 l-3.4 1.8" stroke="#f02818" stroke-width="0.7" fill="none"/>
<path d="M441.0 527.6 l-3.4 1.8" stroke="#f02818" stroke-width="0.7" fill="none"/>
<path d="M513.8 520.5 l-3.4 1.8" stroke="#f02818" stroke-width="0.7" fill="none"/>
<path d="M519.5 527.2 l-3.4 1.8" stroke="#f02818" stroke-width="0.7" fill="none"/>
<!-- g_fig5 -->
<text x="561.20" y="146.10" font-size="5.00" fill="#3c3cff" text-anchor="start" font-weight="700" stroke="#3c3cff" stroke-width="0.20">A.</text>
<text x="743.50" y="146.10" font-size="5.00" fill="#3c3cff" text-anchor="start" font-weight="700" stroke="#3c3cff" stroke-width="0.20">B.</text>
<text x="744.50" y="215.80" font-size="5.00" fill="#3c3cff" text-anchor="start" font-weight="700" stroke="#3c3cff" stroke-width="0.20">C.</text>
<rect x="568.2" y="159.90" width="4.7" height="1.40" fill="#569258"/>
<rect x="572.8" y="159.90" width="4.7" height="1.40" fill="#4d8c4f"/>
<rect x="577.4" y="159.90" width="4.7" height="1.40" fill="#498a4b"/>
<rect x="582.0" y="159.90" width="4.7" height="1.40" fill="#6da16e"/>
<rect x="586.6" y="159.90" width="4.5" height="1.40" fill="#83af83"/>
<rect x="591.0" y="159.90" width="4.7" height="1.40" fill="#6fa370"/>
<rect x="595.6" y="159.90" width="4.7" height="1.40" fill="#cfe1ce"/>
<rect x="600.2" y="159.90" width="4.5" height="1.40" fill="#a0c3a0"/>
<rect x="604.6" y="159.90" width="4.7" height="1.40" fill="#6da16e"/>
<rect x="568.2" y="161.25" width="4.7" height="1.40" fill="#549156"/>
<rect x="572.8" y="161.25" width="4.7" height="1.40" fill="#418543"/>
<rect x="577.4" y="161.25" width="4.7" height="1.40" fill="#7cab7d"/>
<rect x="582.0" y="161.25" width="4.7" height="1.40" fill="#a0c2a0"/>
<rect x="586.6" y="161.25" width="4.5" height="1.40" fill="#b8d2b7"/>
<rect x="591.0" y="161.25" width="4.7" height="1.40" fill="#98bd98"/>
<rect x="595.6" y="161.25" width="4.7" height="1.40" fill="#94bb95"/>
<rect x="600.2" y="161.25" width="4.5" height="1.40" fill="#d1e2d0"/>
<rect x="604.6" y="161.25" width="4.7" height="1.40" fill="#bbd4ba"/>
<rect x="568.2" y="162.59" width="4.7" height="1.40" fill="#70a371"/>
<rect x="572.8" y="162.59" width="4.7" height="1.40" fill="#408442"/>
<rect x="577.4" y="162.59" width="4.7" height="1.40" fill="#4b8b4d"/>
<rect x="582.0" y="162.59" width="4.7" height="1.40" fill="#c1d8c0"/>
<rect x="586.6" y="162.59" width="4.5" height="1.40" fill="#7cab7d"/>
<rect x="591.0" y="162.59" width="4.7" height="1.40" fill="#c3d9c2"/>
<rect x="595.6" y="162.59" width="4.7" height="1.40" fill="#90b890"/>
<rect x="600.2" y="162.59" width="4.5" height="1.40" fill="#c4dac4"/>
<rect x="604.6" y="162.59" width="4.7" height="1.40" fill="#d2e3d1"/>
<rect x="568.2" y="163.94" width="4.7" height="1.40" fill="#438645"/>
<rect x="572.8" y="163.94" width="4.7" height="1.40" fill="#75a676"/>
<rect x="577.4" y="163.94" width="4.7" height="1.40" fill="#74a675"/>
<rect x="582.0" y="163.94" width="4.7" height="1.40" fill="#689e6a"/>
<rect x="586.6" y="163.94" width="4.5" height="1.40" fill="#74a675"/>
<rect x="591.0" y="163.94" width="4.7" height="1.40" fill="#b3cfb3"/>
<rect x="595.6" y="163.94" width="4.7" height="1.40" fill="#6ba06c"/>
<rect x="600.2" y="163.94" width="4.5" height="1.40" fill="#98bd98"/>
<rect x="604.6" y="163.94" width="4.7" height="1.40" fill="#89b48a"/>
<rect x="568.2" y="165.29" width="4.7" height="1.40" fill="#75a776"/>
<rect x="572.8" y="165.29" width="4.7" height="1.40" fill="#3e8340"/>
<rect x="577.4" y="165.29" width="4.7" height="1.40" fill="#518f53"/>
<rect x="582.0" y="165.29" width="4.7" height="1.40" fill="#6a9f6b"/>
<rect x="586.6" y="165.29" width="4.5" height="1.40" fill="#72a573"/>
<rect x="591.0" y="165.29" width="4.7" height="1.40" fill="#b2ceb2"/>
<rect x="595.6" y="165.29" width="4.7" height="1.40" fill="#abcaab"/>
<rect x="600.2" y="165.29" width="4.5" height="1.40" fill="#c0d7bf"/>
<rect x="604.6" y="165.29" width="4.7" height="1.40" fill="#c2d9c2"/>
<rect x="568.2" y="166.63" width="4.7" height="1.40" fill="#80ae81"/>
<rect x="572.8" y="166.63" width="4.7" height="1.40" fill="#6ea26f"/>
<rect x="577.4" y="166.63" width="4.7" height="1.40" fill="#579359"/>
<rect x="582.0" y="166.63" width="4.7" height="1.40" fill="#d2e3d1"/>
<rect x="586.6" y="166.63" width="4.5" height="1.40" fill="#89b48a"/>
<rect x="591.0" y="166.63" width="4.7" height="1.40" fill="#aecbad"/>
<rect x="595.6" y="166.63" width="4.7" height="1.40" fill="#b1cdb0"/>
<rect x="600.2" y="166.63" width="4.5" height="1.40" fill="#7aaa7b"/>
<rect x="604.6" y="166.63" width="4.7" height="1.40" fill="#9ec19e"/>
<rect x="568.2" y="167.98" width="4.7" height="1.40" fill="#6da16e"/>
<rect x="572.8" y="167.98" width="4.7" height="1.40" fill="#609962"/>
<rect x="577.4" y="167.98" width="4.7" height="1.40" fill="#508e52"/>
<rect x="582.0" y="167.98" width="4.7" height="1.40" fill="#ccdfcb"/>
<rect x="586.6" y="167.98" width="4.5" height="1.40" fill="#699f6b"/>
<rect x="591.0" y="167.98" width="4.7" height="1.40" fill="#d0e1ce"/>
<rect x="595.6" y="167.98" width="4.7" height="1.40" fill="#81af82"/>
<rect x="600.2" y="167.98" width="4.5" height="1.40" fill="#77a878"/>
<rect x="604.6" y="167.98" width="4.7" height="1.40" fill="#d0e2cf"/>
<rect x="568.2" y="169.33" width="4.7" height="1.40" fill="#498a4b"/>
<rect x="572.8" y="169.33" width="4.7" height="1.40" fill="#699f6a"/>
<rect x="577.4" y="169.33" width="4.7" height="1.40" fill="#59945b"/>
<rect x="582.0" y="169.33" width="4.7" height="1.40" fill="#d1e2d0"/>
<rect x="586.6" y="169.33" width="4.5" height="1.40" fill="#cde0cc"/>
<rect x="591.0" y="169.33" width="4.7" height="1.40" fill="#bfd6be"/>
<rect x="595.6" y="169.33" width="4.7" height="1.40" fill="#6ba06d"/>
<rect x="600.2" y="169.33" width="4.5" height="1.40" fill="#bdd5bc"/>
<rect x="604.6" y="169.33" width="4.7" height="1.40" fill="#81ae82"/>
<rect x="568.2" y="170.67" width="4.7" height="1.40" fill="#3f8341"/>
<rect x="572.8" y="170.67" width="4.7" height="1.40" fill="#3e8340"/>
<rect x="577.4" y="170.67" width="4.7" height="1.40" fill="#6ba06c"/>
<rect x="582.0" y="170.67" width="4.7" height="1.40" fill="#accaac"/>
<rect x="586.6" y="170.67" width="4.5" height="1.40" fill="#9abe9a"/>
<rect x="591.0" y="170.67" width="4.7" height="1.40" fill="#7fad7f"/>
<rect x="595.6" y="170.67" width="4.7" height="1.40" fill="#c6dcc6"/>
<rect x="600.2" y="170.67" width="4.5" height="1.40" fill="#82af82"/>
<rect x="604.6" y="170.67" width="4.7" height="1.40" fill="#7cab7d"/>
<rect x="568.2" y="172.02" width="4.7" height="1.40" fill="#448746"/>
<rect x="572.8" y="172.02" width="4.7" height="1.40" fill="#82af83"/>
<rect x="577.4" y="172.02" width="4.7" height="1.40" fill="#3e8240"/>
<rect x="582.0" y="172.02" width="4.7" height="1.40" fill="#c8ddc7"/>
<rect x="586.6" y="172.02" width="4.5" height="1.40" fill="#adcbad"/>
<rect x="591.0" y="172.02" width="4.7" height="1.40" fill="#90b891"/>
<rect x="595.6" y="172.02" width="4.7" height="1.40" fill="#6fa371"/>
<rect x="600.2" y="172.02" width="4.5" height="1.40" fill="#aecbad"/>
<rect x="604.6" y="172.02" width="4.7" height="1.40" fill="#6fa270"/>
<rect x="568.2" y="173.36" width="4.7" height="1.40" fill="#5c965d"/>
<rect x="572.8" y="173.36" width="4.7" height="1.40" fill="#6da16e"/>
<rect x="577.4" y="173.36" width="4.7" height="1.40" fill="#6da16e"/>
<rect x="582.0" y="173.36" width="4.7" height="1.40" fill="#bfd7be"/>
<rect x="586.6" y="173.36" width="4.5" height="1.40" fill="#cadec9"/>
<rect x="591.0" y="173.36" width="4.7" height="1.40" fill="#c2d9c1"/>
<rect x="595.6" y="173.36" width="4.7" height="1.40" fill="#88b389"/>
<rect x="600.2" y="173.36" width="4.5" height="1.40" fill="#679d68"/>
<rect x="604.6" y="173.36" width="4.7" height="1.40" fill="#c1d8c0"/>
<rect x="568.2" y="174.71" width="4.7" height="1.40" fill="#81ae82"/>
<rect x="572.8" y="174.71" width="4.7" height="1.40" fill="#3a803d"/>
<rect x="577.4" y="174.71" width="4.7" height="1.40" fill="#5d975e"/>
<rect x="582.0" y="174.71" width="4.7" height="1.40" fill="#a6c7a6"/>
<rect x="586.6" y="174.71" width="4.5" height="1.40" fill="#b9d2b8"/>
<rect x="591.0" y="174.71" width="4.7" height="1.40" fill="#92ba93"/>
<rect x="595.6" y="174.71" width="4.7" height="1.40" fill="#79a97a"/>
<rect x="600.2" y="174.71" width="4.5" height="1.40" fill="#a1c3a1"/>
<rect x="604.6" y="174.71" width="4.7" height="1.40" fill="#a5c6a5"/>
<rect x="568.2" y="176.06" width="4.7" height="1.40" fill="#81ae81"/>
<rect x="572.8" y="176.06" width="4.7" height="1.40" fill="#408442"/>
<rect x="577.4" y="176.06" width="4.7" height="1.40" fill="#82af83"/>
<rect x="582.0" y="176.06" width="4.7" height="1.40" fill="#9dc19d"/>
<rect x="586.6" y="176.06" width="4.5" height="1.40" fill="#78a879"/>
<rect x="591.0" y="176.06" width="4.7" height="1.40" fill="#c4dac3"/>
<rect x="595.6" y="176.06" width="4.7" height="1.40" fill="#83b084"/>
<rect x="600.2" y="176.06" width="4.5" height="1.40" fill="#6ca16d"/>
<rect x="604.6" y="176.06" width="4.7" height="1.40" fill="#8eb78f"/>
<rect x="568.2" y="177.40" width="4.7" height="1.40" fill="#498a4b"/>
<rect x="572.8" y="177.40" width="4.7" height="1.40" fill="#7dab7d"/>
<rect x="577.4" y="177.40" width="4.7" height="1.40" fill="#649b65"/>
<rect x="582.0" y="177.40" width="4.7" height="1.40" fill="#c2d9c1"/>
<rect x="586.6" y="177.40" width="4.5" height="1.40" fill="#77a878"/>
<rect x="591.0" y="177.40" width="4.7" height="1.40" fill="#b2ceb2"/>
<rect x="595.6" y="177.40" width="4.7" height="1.40" fill="#a1c3a1"/>
<rect x="600.2" y="177.40" width="4.5" height="1.40" fill="#679d68"/>
<rect x="604.6" y="177.40" width="4.7" height="1.40" fill="#76a777"/>
<rect x="568.2" y="178.75" width="4.7" height="1.40" fill="#99be9a"/>
<rect x="572.8" y="178.75" width="4.7" height="1.40" fill="#b9d3b8"/>
<rect x="577.4" y="178.75" width="4.7" height="1.40" fill="#b7d1b6"/>
<rect x="582.0" y="178.75" width="4.7" height="1.40" fill="#4c8c4e"/>
<rect x="586.6" y="178.75" width="4.5" height="1.40" fill="#71a472"/>
<rect x="591.0" y="178.75" width="4.7" height="1.40" fill="#6ea26f"/>
<rect x="595.6" y="178.75" width="4.7" height="1.40" fill="#77a878"/>
<rect x="600.2" y="178.75" width="4.5" height="1.40" fill="#8bb58b"/>
<rect x="604.6" y="178.75" width="4.7" height="1.40" fill="#79a97a"/>
<rect x="568.2" y="180.10" width="4.7" height="1.40" fill="#99be99"/>
<rect x="572.8" y="180.10" width="4.7" height="1.40" fill="#9abf9b"/>
<rect x="577.4" y="180.10" width="4.7" height="1.40" fill="#afccae"/>
<rect x="582.0" y="180.10" width="4.7" height="1.40" fill="#5e9860"/>
<rect x="586.6" y="180.10" width="4.5" height="1.40" fill="#7cab7d"/>
<rect x="591.0" y="180.10" width="4.7" height="1.40" fill="#7eac7f"/>
<rect x="595.6" y="180.10" width="4.7" height="1.40" fill="#81ae82"/>
<rect x="600.2" y="180.10" width="4.5" height="1.40" fill="#59945b"/>
<rect x="604.6" y="180.10" width="4.7" height="1.40" fill="#539055"/>
<rect x="568.2" y="181.44" width="4.7" height="1.40" fill="#bed6be"/>
<rect x="572.8" y="181.44" width="4.7" height="1.40" fill="#a5c6a5"/>
<rect x="577.4" y="181.44" width="4.7" height="1.40" fill="#a6c6a5"/>
<rect x="582.0" y="181.44" width="4.7" height="1.40" fill="#4f8e51"/>
<rect x="586.6" y="181.44" width="4.5" height="1.40" fill="#639a64"/>
<rect x="591.0" y="181.44" width="4.7" height="1.40" fill="#4a8a4c"/>
<rect x="595.6" y="181.44" width="4.7" height="1.40" fill="#7aaa7b"/>
<rect x="600.2" y="181.44" width="4.5" height="1.40" fill="#5f9861"/>
<rect x="604.6" y="181.44" width="4.7" height="1.40" fill="#80ae81"/>
<rect x="568.2" y="182.79" width="4.7" height="1.40" fill="#b7d1b6"/>
<rect x="572.8" y="182.79" width="4.7" height="1.40" fill="#a6c6a6"/>
<rect x="577.4" y="182.79" width="4.7" height="1.40" fill="#abc9aa"/>
<rect x="582.0" y="182.79" width="4.7" height="1.40" fill="#6ea26f"/>
<rect x="586.6" y="182.79" width="4.5" height="1.40" fill="#4d8c4f"/>
<rect x="591.0" y="182.79" width="4.7" height="1.40" fill="#529054"/>
<rect x="595.6" y="182.79" width="4.7" height="1.40" fill="#699f6a"/>
<rect x="600.2" y="182.79" width="4.5" height="1.40" fill="#95bb95"/>
<rect x="604.6" y="182.79" width="4.7" height="1.40" fill="#6ca06d"/>
<rect x="568.2" y="184.14" width="4.7" height="1.40" fill="#c5dbc4"/>
<rect x="572.8" y="184.14" width="4.7" height="1.40" fill="#accaac"/>
<rect x="577.4" y="184.14" width="4.7" height="1.40" fill="#b8d2b8"/>
<rect x="582.0" y="184.14" width="4.7" height="1.40" fill="#458848"/>
<rect x="586.6" y="184.14" width="4.5" height="1.40" fill="#649b65"/>
<rect x="591.0" y="184.14" width="4.7" height="1.40" fill="#478849"/>
<rect x="595.6" y="184.14" width="4.7" height="1.40" fill="#7baa7c"/>
<rect x="600.2" y="184.14" width="4.5" height="1.40" fill="#649b65"/>
<rect x="604.6" y="184.14" width="4.7" height="1.40" fill="#5d975e"/>
<rect x="568.2" y="185.48" width="4.7" height="1.40" fill="#a2c4a2"/>
<rect x="572.8" y="185.48" width="4.7" height="1.40" fill="#bfd7be"/>
<rect x="577.4" y="185.48" width="4.7" height="1.40" fill="#a2c3a1"/>
<rect x="582.0" y="185.48" width="4.7" height="1.40" fill="#418544"/>
<rect x="586.6" y="185.48" width="4.5" height="1.40" fill="#619962"/>
<rect x="591.0" y="185.48" width="4.7" height="1.40" fill="#39803c"/>
<rect x="595.6" y="185.48" width="4.7" height="1.40" fill="#4c8c4e"/>
<rect x="600.2" y="185.48" width="4.5" height="1.40" fill="#6ea26f"/>
<rect x="604.6" y="185.48" width="4.7" height="1.40" fill="#6da16e"/>
<rect x="568.2" y="186.83" width="4.7" height="1.40" fill="#cadec9"/>
<rect x="572.8" y="186.83" width="4.7" height="1.40" fill="#a2c4a2"/>
<rect x="577.4" y="186.83" width="4.7" height="1.40" fill="#9cc09c"/>
<rect x="582.0" y="186.83" width="4.7" height="1.40" fill="#609961"/>
<rect x="586.6" y="186.83" width="4.5" height="1.40" fill="#609962"/>
<rect x="591.0" y="186.83" width="4.7" height="1.40" fill="#4d8c4f"/>
<rect x="595.6" y="186.83" width="4.7" height="1.40" fill="#5d975f"/>
<rect x="600.2" y="186.83" width="4.5" height="1.40" fill="#89b389"/>
<rect x="604.6" y="186.83" width="4.7" height="1.40" fill="#59955b"/>
<rect x="568.2" y="188.18" width="4.7" height="1.40" fill="#b1ceb1"/>
<rect x="572.8" y="188.18" width="4.7" height="1.40" fill="#accaac"/>
<rect x="577.4" y="188.18" width="4.7" height="1.40" fill="#bbd4ba"/>
<rect x="582.0" y="188.18" width="4.7" height="1.40" fill="#549156"/>
<rect x="586.6" y="188.18" width="4.5" height="1.40" fill="#5a955c"/>
<rect x="591.0" y="188.18" width="4.7" height="1.40" fill="#539155"/>
<rect x="595.6" y="188.18" width="4.7" height="1.40" fill="#5e9860"/>
<rect x="600.2" y="188.18" width="4.5" height="1.40" fill="#94bb94"/>
<rect x="604.6" y="188.18" width="4.7" height="1.40" fill="#8ab48a"/>
<rect x="568.2" y="189.52" width="4.7" height="1.40" fill="#bad3b9"/>
<rect x="572.8" y="189.52" width="4.7" height="1.40" fill="#adcbad"/>
<rect x="577.4" y="189.52" width="4.7" height="1.40" fill="#c7dcc6"/>
<rect x="582.0" y="189.52" width="4.7" height="1.40" fill="#508e51"/>
<rect x="586.6" y="189.52" width="4.5" height="1.40" fill="#659c66"/>
<rect x="591.0" y="189.52" width="4.7" height="1.40" fill="#81af82"/>
<rect x="595.6" y="189.52" width="4.7" height="1.40" fill="#71a472"/>
<rect x="600.2" y="189.52" width="4.5" height="1.40" fill="#84b085"/>
<rect x="604.6" y="189.52" width="4.7" height="1.40" fill="#92b992"/>
<rect x="568.2" y="190.87" width="4.7" height="1.40" fill="#ccdfcb"/>
<rect x="572.8" y="190.87" width="4.7" height="1.40" fill="#c1d8c0"/>
<rect x="577.4" y="190.87" width="4.7" height="1.40" fill="#c9ddc8"/>
<rect x="582.0" y="190.87" width="4.7" height="1.40" fill="#76a777"/>
<rect x="586.6" y="190.87" width="4.5" height="1.40" fill="#93ba93"/>
<rect x="591.0" y="190.87" width="4.7" height="1.40" fill="#619962"/>
<rect x="595.6" y="190.87" width="4.7" height="1.40" fill="#78a979"/>
<rect x="600.2" y="190.87" width="4.5" height="1.40" fill="#679d68"/>
<rect x="604.6" y="190.87" width="4.7" height="1.40" fill="#689e69"/>
<rect x="568.2" y="192.21" width="4.7" height="1.40" fill="#c6dbc5"/>
<rect x="572.8" y="192.21" width="4.7" height="1.40" fill="#9ec19e"/>
<rect x="577.4" y="192.21" width="4.7" height="1.40" fill="#d4e4d3"/>
<rect x="582.0" y="192.21" width="4.7" height="1.40" fill="#659c67"/>
<rect x="586.6" y="192.21" width="4.5" height="1.40" fill="#80ae81"/>
<rect x="591.0" y="192.21" width="4.7" height="1.40" fill="#659c66"/>
<rect x="595.6" y="192.21" width="4.7" height="1.40" fill="#8db68d"/>
<rect x="600.2" y="192.21" width="4.5" height="1.40" fill="#569257"/>
<rect x="604.6" y="192.21" width="4.7" height="1.40" fill="#79a97a"/>
<rect x="568.2" y="193.56" width="4.7" height="1.40" fill="#d2e3d1"/>
<rect x="572.8" y="193.56" width="4.7" height="1.40" fill="#afccaf"/>
<rect x="577.4" y="193.56" width="4.7" height="1.40" fill="#cfe1cd"/>
<rect x="582.0" y="193.56" width="4.7" height="1.40" fill="#5a955c"/>
<rect x="586.6" y="193.56" width="4.5" height="1.40" fill="#7cab7c"/>
<rect x="591.0" y="193.56" width="4.7" height="1.40" fill="#589359"/>
<rect x="595.6" y="193.56" width="4.7" height="1.40" fill="#4c8c4e"/>
<rect x="600.2" y="193.56" width="4.5" height="1.40" fill="#579358"/>
<rect x="604.6" y="193.56" width="4.7" height="1.40" fill="#75a776"/>
<rect x="568.2" y="194.91" width="4.7" height="1.40" fill="#a3c5a3"/>
<rect x="572.8" y="194.91" width="4.7" height="1.40" fill="#aecbad"/>
<rect x="577.4" y="194.91" width="4.7" height="1.40" fill="#bed6bd"/>
<rect x="582.0" y="194.91" width="4.7" height="1.40" fill="#7aaa7b"/>
<rect x="586.6" y="194.91" width="4.5" height="1.40" fill="#689e69"/>
<rect x="591.0" y="194.91" width="4.7" height="1.40" fill="#59945b"/>
<rect x="595.6" y="194.91" width="4.7" height="1.40" fill="#4c8c4e"/>
<rect x="600.2" y="194.91" width="4.5" height="1.40" fill="#4b8b4d"/>
<rect x="604.6" y="194.91" width="4.7" height="1.40" fill="#679d68"/>
<rect x="568.2" y="196.25" width="4.7" height="1.40" fill="#bfd7be"/>
<rect x="572.8" y="196.25" width="4.7" height="1.40" fill="#9ec19e"/>
<rect x="577.4" y="196.25" width="4.7" height="1.40" fill="#d4e4d3"/>
<rect x="582.0" y="196.25" width="4.7" height="1.40" fill="#7cab7d"/>
<rect x="586.6" y="196.25" width="4.5" height="1.40" fill="#6a9f6b"/>
<rect x="591.0" y="196.25" width="4.7" height="1.40" fill="#559257"/>
<rect x="595.6" y="196.25" width="4.7" height="1.40" fill="#8bb58b"/>
<rect x="600.2" y="196.25" width="4.5" height="1.40" fill="#659c67"/>
<rect x="604.6" y="196.25" width="4.7" height="1.40" fill="#518f53"/>
<rect x="568.2" y="197.60" width="4.7" height="1.40" fill="#bed6bd"/>
<rect x="572.8" y="197.60" width="4.7" height="1.40" fill="#bad4ba"/>
<rect x="577.4" y="197.60" width="4.7" height="1.40" fill="#c7dcc6"/>
<rect x="582.0" y="197.60" width="4.7" height="1.40" fill="#6ea26f"/>
<rect x="586.6" y="197.60" width="4.5" height="1.40" fill="#4b8b4d"/>
<rect x="591.0" y="197.60" width="4.7" height="1.40" fill="#679e69"/>
<rect x="595.6" y="197.60" width="4.7" height="1.40" fill="#4c8b4d"/>
<rect x="600.2" y="197.60" width="4.5" height="1.40" fill="#4f8e51"/>
<rect x="604.6" y="197.60" width="4.7" height="1.40" fill="#689e69"/>
<rect x="568.2" y="198.95" width="4.7" height="1.40" fill="#c5dac4"/>
<rect x="572.8" y="198.95" width="4.7" height="1.40" fill="#99be99"/>
<rect x="577.4" y="198.95" width="4.7" height="1.40" fill="#b6d1b6"/>
<rect x="582.0" y="198.95" width="4.7" height="1.40" fill="#659c66"/>
<rect x="586.6" y="198.95" width="4.5" height="1.40" fill="#7dac7e"/>
<rect x="591.0" y="198.95" width="4.7" height="1.40" fill="#397f3b"/>
<rect x="595.6" y="198.95" width="4.7" height="1.40" fill="#70a371"/>
<rect x="600.2" y="198.95" width="4.5" height="1.40" fill="#80ad80"/>
<rect x="604.6" y="198.95" width="4.7" height="1.40" fill="#71a472"/>
<rect x="568.2" y="200.29" width="4.7" height="1.40" fill="#cde0cc"/>
<rect x="572.8" y="200.29" width="4.7" height="1.40" fill="#afccae"/>
<rect x="577.4" y="200.29" width="4.7" height="1.40" fill="#bad3b9"/>
<rect x="582.0" y="200.29" width="4.7" height="1.40" fill="#6ea26f"/>
<rect x="586.6" y="200.29" width="4.5" height="1.40" fill="#59955b"/>
<rect x="591.0" y="200.29" width="4.7" height="1.40" fill="#458747"/>
<rect x="595.6" y="200.29" width="4.7" height="1.40" fill="#95bb95"/>
<rect x="600.2" y="200.29" width="4.5" height="1.40" fill="#6da16e"/>
<rect x="604.6" y="200.29" width="4.7" height="1.40" fill="#81ae81"/>
<rect x="568.2" y="201.64" width="4.7" height="1.40" fill="#9cc09c"/>
<rect x="572.8" y="201.64" width="4.7" height="1.40" fill="#a5c6a5"/>
<rect x="577.4" y="201.64" width="4.7" height="1.40" fill="#c5dbc5"/>
<rect x="582.0" y="201.64" width="4.7" height="1.40" fill="#70a371"/>
<rect x="586.6" y="201.64" width="4.5" height="1.40" fill="#8ab48a"/>
<rect x="591.0" y="201.64" width="4.7" height="1.40" fill="#387f3b"/>
<rect x="595.6" y="201.64" width="4.7" height="1.40" fill="#7fad80"/>
<rect x="600.2" y="201.64" width="4.5" height="1.40" fill="#679d68"/>
<rect x="604.6" y="201.64" width="4.7" height="1.40" fill="#71a472"/>
<rect x="568.2" y="202.99" width="4.7" height="1.40" fill="#adcbad"/>
<rect x="572.8" y="202.99" width="4.7" height="1.40" fill="#b0cdaf"/>
<rect x="577.4" y="202.99" width="4.7" height="1.40" fill="#a7c7a7"/>
<rect x="582.0" y="202.99" width="4.7" height="1.40" fill="#7cab7c"/>
<rect x="586.6" y="202.99" width="4.5" height="1.40" fill="#5b965d"/>
<rect x="591.0" y="202.99" width="4.7" height="1.40" fill="#6da26f"/>
<rect x="595.6" y="202.99" width="4.7" height="1.40" fill="#6da16e"/>
<rect x="600.2" y="202.99" width="4.5" height="1.40" fill="#7cab7d"/>
<rect x="604.6" y="202.99" width="4.7" height="1.40" fill="#7fad80"/>
<rect x="568.2" y="204.33" width="4.7" height="1.40" fill="#b4d0b4"/>
<rect x="572.8" y="204.33" width="4.7" height="1.40" fill="#b8d2b8"/>
<rect x="577.4" y="204.33" width="4.7" height="1.40" fill="#bfd6be"/>
<rect x="582.0" y="204.33" width="4.7" height="1.40" fill="#4b8b4d"/>
<rect x="586.6" y="204.33" width="4.5" height="1.40" fill="#689e69"/>
<rect x="591.0" y="204.33" width="4.7" height="1.40" fill="#82af83"/>
<rect x="595.6" y="204.33" width="4.7" height="1.40" fill="#82af83"/>
<rect x="600.2" y="204.33" width="4.5" height="1.40" fill="#73a574"/>
<rect x="604.6" y="204.33" width="4.7" height="1.40" fill="#4f8e51"/>
<rect x="568.2" y="205.68" width="4.7" height="1.40" fill="#9fc29f"/>
<rect x="572.8" y="205.68" width="4.7" height="1.40" fill="#b3cfb3"/>
<rect x="577.4" y="205.68" width="4.7" height="1.40" fill="#d3e4d2"/>
<rect x="582.0" y="205.68" width="4.7" height="1.40" fill="#48894a"/>
<rect x="586.6" y="205.68" width="4.5" height="1.40" fill="#75a676"/>
<rect x="591.0" y="205.68" width="4.7" height="1.40" fill="#58945a"/>
<rect x="595.6" y="205.68" width="4.7" height="1.40" fill="#5f9861"/>
<rect x="600.2" y="205.68" width="4.5" height="1.40" fill="#659c66"/>
<rect x="604.6" y="205.68" width="4.7" height="1.40" fill="#71a472"/>
<rect x="568.2" y="207.03" width="4.7" height="1.40" fill="#9dc19d"/>
<rect x="572.8" y="207.03" width="4.7" height="1.40" fill="#bdd5bc"/>
<rect x="577.4" y="207.03" width="4.7" height="1.40" fill="#bdd5bc"/>
<rect x="582.0" y="207.03" width="4.7" height="1.40" fill="#438645"/>
<rect x="586.6" y="207.03" width="4.5" height="1.40" fill="#87b287"/>
<rect x="591.0" y="207.03" width="4.7" height="1.40" fill="#6ea26f"/>
<rect x="595.6" y="207.03" width="4.7" height="1.40" fill="#569257"/>
<rect x="600.2" y="207.03" width="4.5" height="1.40" fill="#91b991"/>
<rect x="604.6" y="207.03" width="4.7" height="1.40" fill="#559257"/>
<rect x="568.2" y="208.37" width="4.7" height="1.40" fill="#aac9aa"/>
<rect x="572.8" y="208.37" width="4.7" height="1.40" fill="#bad4ba"/>
<rect x="577.4" y="208.37" width="4.7" height="1.40" fill="#c3d9c2"/>
<rect x="582.0" y="208.37" width="4.7" height="1.40" fill="#48894a"/>
<rect x="586.6" y="208.37" width="4.5" height="1.40" fill="#4f8e51"/>
<rect x="591.0" y="208.37" width="4.7" height="1.40" fill="#7aaa7b"/>
<rect x="595.6" y="208.37" width="4.7" height="1.40" fill="#71a472"/>
<rect x="600.2" y="208.37" width="4.5" height="1.40" fill="#6ba06d"/>
<rect x="604.6" y="208.37" width="4.7" height="1.40" fill="#6fa370"/>
<rect x="568.2" y="209.72" width="4.7" height="1.40" fill="#c0d8c0"/>
<rect x="572.8" y="209.72" width="4.7" height="1.40" fill="#cbdeca"/>
<rect x="577.4" y="209.72" width="4.7" height="1.40" fill="#b1ceb1"/>
<rect x="582.0" y="209.72" width="4.7" height="1.40" fill="#468848"/>
<rect x="586.6" y="209.72" width="4.5" height="1.40" fill="#91b891"/>
<rect x="591.0" y="209.72" width="4.7" height="1.40" fill="#73a574"/>
<rect x="595.6" y="209.72" width="4.7" height="1.40" fill="#569358"/>
<rect x="600.2" y="209.72" width="4.5" height="1.40" fill="#59945a"/>
<rect x="604.6" y="209.72" width="4.7" height="1.40" fill="#639a64"/>
<rect x="568.2" y="211.06" width="4.7" height="1.40" fill="#d3e3d1"/>
<rect x="572.8" y="211.06" width="4.7" height="1.40" fill="#a9c8a9"/>
<rect x="577.4" y="211.06" width="4.7" height="1.40" fill="#99be99"/>
<rect x="582.0" y="211.06" width="4.7" height="1.40" fill="#377e3a"/>
<rect x="586.6" y="211.06" width="4.5" height="1.40" fill="#609961"/>
<rect x="591.0" y="211.06" width="4.7" height="1.40" fill="#81ae82"/>
<rect x="595.6" y="211.06" width="4.7" height="1.40" fill="#559156"/>
<rect x="600.2" y="211.06" width="4.5" height="1.40" fill="#85b186"/>
<rect x="604.6" y="211.06" width="4.7" height="1.40" fill="#649b65"/>
<rect x="568.2" y="212.41" width="4.7" height="1.40" fill="#9bbf9b"/>
<rect x="572.8" y="212.41" width="4.7" height="1.40" fill="#a9c9a9"/>
<rect x="577.4" y="212.41" width="4.7" height="1.40" fill="#ccdfcb"/>
<rect x="582.0" y="212.41" width="4.7" height="1.40" fill="#6ea26f"/>
<rect x="586.6" y="212.41" width="4.5" height="1.40" fill="#4f8e51"/>
<rect x="591.0" y="212.41" width="4.7" height="1.40" fill="#79a97a"/>
<rect x="595.6" y="212.41" width="4.7" height="1.40" fill="#679d68"/>
<rect x="600.2" y="212.41" width="4.5" height="1.40" fill="#76a777"/>
<rect x="604.6" y="212.41" width="4.7" height="1.40" fill="#89b48a"/>
<rect x="568.2" y="213.76" width="4.7" height="1.40" fill="#afccae"/>
<rect x="572.8" y="213.76" width="4.7" height="1.40" fill="#d2e3d0"/>
<rect x="577.4" y="213.76" width="4.7" height="1.40" fill="#cee0cd"/>
<rect x="582.0" y="213.76" width="4.7" height="1.40" fill="#679e69"/>
<rect x="586.6" y="213.76" width="4.5" height="1.40" fill="#90b891"/>
<rect x="591.0" y="213.76" width="4.7" height="1.40" fill="#80ae81"/>
<rect x="595.6" y="213.76" width="4.7" height="1.40" fill="#699f6b"/>
<rect x="600.2" y="213.76" width="4.5" height="1.40" fill="#5c965e"/>
<rect x="604.6" y="213.76" width="4.7" height="1.40" fill="#529054"/>
<rect x="568.2" y="215.10" width="4.7" height="1.40" fill="#ccdfcb"/>
<rect x="572.8" y="215.10" width="4.7" height="1.40" fill="#bad4ba"/>
<rect x="577.4" y="215.10" width="4.7" height="1.40" fill="#c1d8c1"/>
<rect x="582.0" y="215.10" width="4.7" height="1.40" fill="#569258"/>
<rect x="586.6" y="215.10" width="4.5" height="1.40" fill="#70a371"/>
<rect x="591.0" y="215.10" width="4.7" height="1.40" fill="#3c813e"/>
<rect x="595.6" y="215.10" width="4.7" height="1.40" fill="#79a97a"/>
<rect x="600.2" y="215.10" width="4.5" height="1.40" fill="#92b992"/>
<rect x="604.6" y="215.10" width="4.7" height="1.40" fill="#609961"/>
<rect x="568.2" y="216.45" width="4.7" height="1.40" fill="#cbdfca"/>
<rect x="572.8" y="216.45" width="4.7" height="1.40" fill="#aeccae"/>
<rect x="577.4" y="216.45" width="4.7" height="1.40" fill="#b6d1b5"/>
<rect x="582.0" y="216.45" width="4.7" height="1.40" fill="#3e8340"/>
<rect x="586.6" y="216.45" width="4.5" height="1.40" fill="#6ba06c"/>
<rect x="591.0" y="216.45" width="4.7" height="1.40" fill="#559156"/>
<rect x="595.6" y="216.45" width="4.7" height="1.40" fill="#82af82"/>
<rect x="600.2" y="216.45" width="4.5" height="1.40" fill="#6ba06c"/>
<rect x="604.6" y="216.45" width="4.7" height="1.40" fill="#82af83"/>
<rect x="568.2" y="217.80" width="4.7" height="1.40" fill="#a7c7a7"/>
<rect x="572.8" y="217.80" width="4.7" height="1.40" fill="#b5d0b5"/>
<rect x="577.4" y="217.80" width="4.7" height="1.40" fill="#ccdfcb"/>
<rect x="582.0" y="217.80" width="4.7" height="1.40" fill="#73a574"/>
<rect x="586.6" y="217.80" width="4.5" height="1.40" fill="#79a97a"/>
<rect x="591.0" y="217.80" width="4.7" height="1.40" fill="#4c8c4e"/>
<rect x="595.6" y="217.80" width="4.7" height="1.40" fill="#88b389"/>
<rect x="600.2" y="217.80" width="4.5" height="1.40" fill="#5f9860"/>
<rect x="604.6" y="217.80" width="4.7" height="1.40" fill="#639b65"/>
<rect x="568.2" y="219.14" width="4.7" height="1.40" fill="#cfe1ce"/>
<rect x="572.8" y="219.14" width="4.7" height="1.40" fill="#accaac"/>
<rect x="577.4" y="219.14" width="4.7" height="1.40" fill="#cfe1ce"/>
<rect x="582.0" y="219.14" width="4.7" height="1.40" fill="#7baa7c"/>
<rect x="586.6" y="219.14" width="4.5" height="1.40" fill="#689e69"/>
<rect x="591.0" y="219.14" width="4.7" height="1.40" fill="#72a573"/>
<rect x="595.6" y="219.14" width="4.7" height="1.40" fill="#529054"/>
<rect x="600.2" y="219.14" width="4.5" height="1.40" fill="#71a472"/>
<rect x="604.6" y="219.14" width="4.7" height="1.40" fill="#7dac7e"/>
<rect x="568.2" y="220.49" width="4.7" height="1.40" fill="#a4c5a4"/>
<rect x="572.8" y="220.49" width="4.7" height="1.40" fill="#d2e3d1"/>
<rect x="577.4" y="220.49" width="4.7" height="1.40" fill="#a9c8a8"/>
<rect x="582.0" y="220.49" width="4.7" height="1.40" fill="#81ae81"/>
<rect x="586.6" y="220.49" width="4.5" height="1.40" fill="#8ab48b"/>
<rect x="591.0" y="220.49" width="4.7" height="1.40" fill="#3b813d"/>
<rect x="595.6" y="220.49" width="4.7" height="1.40" fill="#619a63"/>
<rect x="600.2" y="220.49" width="4.5" height="1.40" fill="#85b185"/>
<rect x="604.6" y="220.49" width="4.7" height="1.40" fill="#8db68d"/>
<rect x="568.2" y="221.84" width="4.7" height="1.40" fill="#9abe9a"/>
<rect x="572.8" y="221.84" width="4.7" height="1.40" fill="#accaac"/>
<rect x="577.4" y="221.84" width="4.7" height="1.40" fill="#a3c4a3"/>
<rect x="582.0" y="221.84" width="4.7" height="1.40" fill="#7aaa7b"/>
<rect x="586.6" y="221.84" width="4.5" height="1.40" fill="#669c67"/>
<rect x="591.0" y="221.84" width="4.7" height="1.40" fill="#699f6b"/>
<rect x="595.6" y="221.84" width="4.7" height="1.40" fill="#84b084"/>
<rect x="600.2" y="221.84" width="4.5" height="1.40" fill="#7cab7d"/>
<rect x="604.6" y="221.84" width="4.7" height="1.40" fill="#669d68"/>
<rect x="568.2" y="223.18" width="4.7" height="1.40" fill="#bfd7be"/>
<rect x="572.8" y="223.18" width="4.7" height="1.40" fill="#bdd5bc"/>
<rect x="577.4" y="223.18" width="4.7" height="1.40" fill="#ccdfcb"/>
<rect x="582.0" y="223.18" width="4.7" height="1.40" fill="#448746"/>
<rect x="586.6" y="223.18" width="4.5" height="1.40" fill="#649b65"/>
<rect x="591.0" y="223.18" width="4.7" height="1.40" fill="#468848"/>
<rect x="595.6" y="223.18" width="4.7" height="1.40" fill="#74a675"/>
<rect x="600.2" y="223.18" width="4.5" height="1.40" fill="#549156"/>
<rect x="604.6" y="223.18" width="4.7" height="1.40" fill="#6ea26f"/>
<rect x="568.2" y="224.53" width="4.7" height="1.40" fill="#b1cdb0"/>
<rect x="572.8" y="224.53" width="4.7" height="1.40" fill="#b2ceb1"/>
<rect x="577.4" y="224.53" width="4.7" height="1.40" fill="#a8c7a7"/>
<rect x="582.0" y="224.53" width="4.7" height="1.40" fill="#669d67"/>
<rect x="586.6" y="224.53" width="4.5" height="1.40" fill="#8eb78f"/>
<rect x="591.0" y="224.53" width="4.7" height="1.40" fill="#82af83"/>
<rect x="595.6" y="224.53" width="4.7" height="1.40" fill="#86b287"/>
<rect x="600.2" y="224.53" width="4.5" height="1.40" fill="#93ba93"/>
<rect x="604.6" y="224.53" width="4.7" height="1.40" fill="#518f53"/>
<rect x="568.2" y="225.88" width="4.7" height="1.40" fill="#b7d2b7"/>
<rect x="572.8" y="225.88" width="4.7" height="1.40" fill="#a6c7a6"/>
<rect x="577.4" y="225.88" width="4.7" height="1.40" fill="#d4e4d3"/>
<rect x="582.0" y="225.88" width="4.7" height="1.40" fill="#609962"/>
<rect x="586.6" y="225.88" width="4.5" height="1.40" fill="#518f53"/>
<rect x="591.0" y="225.88" width="4.7" height="1.40" fill="#559156"/>
<rect x="595.6" y="225.88" width="4.7" height="1.40" fill="#75a676"/>
<rect x="600.2" y="225.88" width="4.5" height="1.40" fill="#72a473"/>
<rect x="604.6" y="225.88" width="4.7" height="1.40" fill="#8eb78f"/>
<rect x="568.2" y="227.22" width="4.7" height="1.40" fill="#cbdeca"/>
<rect x="572.8" y="227.22" width="4.7" height="1.40" fill="#cbdeca"/>
<rect x="577.4" y="227.22" width="4.7" height="1.40" fill="#bed6bd"/>
<rect x="582.0" y="227.22" width="4.7" height="1.40" fill="#679d68"/>
<rect x="586.6" y="227.22" width="4.5" height="1.40" fill="#529054"/>
<rect x="591.0" y="227.22" width="4.7" height="1.40" fill="#79a97a"/>
<rect x="595.6" y="227.22" width="4.7" height="1.40" fill="#82af83"/>
<rect x="600.2" y="227.22" width="4.5" height="1.40" fill="#80ae81"/>
<rect x="604.6" y="227.22" width="4.7" height="1.40" fill="#89b48a"/>
<rect x="568.2" y="228.57" width="4.7" height="1.40" fill="#c3d9c2"/>
<rect x="572.8" y="228.57" width="4.7" height="1.40" fill="#c6dbc5"/>
<rect x="577.4" y="228.57" width="4.7" height="1.40" fill="#b7d2b7"/>
<rect x="582.0" y="228.57" width="4.7" height="1.40" fill="#82af83"/>
<rect x="586.6" y="228.57" width="4.5" height="1.40" fill="#4e8d50"/>
<rect x="591.0" y="228.57" width="4.7" height="1.40" fill="#689e69"/>
<rect x="595.6" y="228.57" width="4.7" height="1.40" fill="#4d8d4f"/>
<rect x="600.2" y="228.57" width="4.5" height="1.40" fill="#619962"/>
<rect x="604.6" y="228.57" width="4.7" height="1.40" fill="#629a63"/>
<rect x="568.2" y="229.91" width="4.7" height="1.40" fill="#b8d2b7"/>
<rect x="572.8" y="229.91" width="4.7" height="1.40" fill="#9bbf9b"/>
<rect x="577.4" y="229.91" width="4.7" height="1.40" fill="#cde0cc"/>
<rect x="582.0" y="229.91" width="4.7" height="1.40" fill="#518f53"/>
<rect x="586.6" y="229.91" width="4.5" height="1.40" fill="#7fad80"/>
<rect x="591.0" y="229.91" width="4.7" height="1.40" fill="#508f52"/>
<rect x="595.6" y="229.91" width="4.7" height="1.40" fill="#5d975f"/>
<rect x="600.2" y="229.91" width="4.5" height="1.40" fill="#89b48a"/>
<rect x="604.6" y="229.91" width="4.7" height="1.40" fill="#86b287"/>
<rect x="568.2" y="231.26" width="4.7" height="1.40" fill="#d3e4d2"/>
<rect x="572.8" y="231.26" width="4.7" height="1.40" fill="#c6dbc5"/>
<rect x="577.4" y="231.26" width="4.7" height="1.40" fill="#d0e1ce"/>
<rect x="582.0" y="231.26" width="4.7" height="1.40" fill="#669c67"/>
<rect x="586.6" y="231.26" width="4.5" height="1.40" fill="#4b8b4c"/>
<rect x="591.0" y="231.26" width="4.7" height="1.40" fill="#699e6a"/>
<rect x="595.6" y="231.26" width="4.7" height="1.40" fill="#7eac7f"/>
<rect x="600.2" y="231.26" width="4.5" height="1.40" fill="#72a473"/>
<rect x="604.6" y="231.26" width="4.7" height="1.40" fill="#80ae81"/>
<rect x="568.2" y="232.61" width="4.7" height="1.40" fill="#a8c8a8"/>
<rect x="572.8" y="232.61" width="4.7" height="1.40" fill="#a9c8a9"/>
<rect x="577.4" y="232.61" width="4.7" height="1.40" fill="#cadec9"/>
<rect x="582.0" y="232.61" width="4.7" height="1.40" fill="#72a573"/>
<rect x="586.6" y="232.61" width="4.5" height="1.40" fill="#629a63"/>
<rect x="591.0" y="232.61" width="4.7" height="1.40" fill="#3c813e"/>
<rect x="595.6" y="232.61" width="4.7" height="1.40" fill="#649b65"/>
<rect x="600.2" y="232.61" width="4.5" height="1.40" fill="#75a676"/>
<rect x="604.6" y="232.61" width="4.7" height="1.40" fill="#4a8b4c"/>
<rect x="568.2" y="233.95" width="4.7" height="1.40" fill="#d4e4d3"/>
<rect x="572.8" y="233.95" width="4.7" height="1.40" fill="#d1e2cf"/>
<rect x="577.4" y="233.95" width="4.7" height="1.40" fill="#a5c6a5"/>
<rect x="582.0" y="233.95" width="4.7" height="1.40" fill="#659c66"/>
<rect x="586.6" y="233.95" width="4.5" height="1.40" fill="#92ba93"/>
<rect x="591.0" y="233.95" width="4.7" height="1.40" fill="#5a955c"/>
<rect x="595.6" y="233.95" width="4.7" height="1.40" fill="#498a4b"/>
<rect x="600.2" y="233.95" width="4.5" height="1.40" fill="#6ea26f"/>
<rect x="604.6" y="233.95" width="4.7" height="1.40" fill="#7baa7c"/>
<rect x="568.40" y="236.80" width="13.60" height="3.40" fill="#30d040"/>
<rect x="582.00" y="236.80" width="27.20" height="3.40" fill="#ff1010"/>
<text x="567.20" y="239.60" font-size="1.60" fill="#555" text-anchor="end" font-weight="400" stroke="#555" stroke-width="0.12">Group</text>
<path d="M574 159.5 V153.5 H589 V150 H600 V152.5 M589 150 V148.6 H581 V153.5 M571 159.5 V156.5 H578 V159.5 M585 159.5 V151 H604 V159.5 M589 159.5 V154.5 H598 V159.5 M593 159.5 V156 H596 V159.5 M601 159.5 V155.8 H607 V159.5" stroke="#666" stroke-width="0.3" fill="none"/>
<path d="M568 160.9 h-1.2 M568 162.8 h-1.2 M568 164.8 h-1.8 M568 166.8 h-3.0 M568 168.7 h-1.2 M568 170.7 h-3.0 M568 172.6 h-1.2 M568 174.6 h-1.8 M568 176.5 h-1.2 M568 178.5 h-3.0 M568 180.4 h-3.0 M568 182.3 h-1.2 M568 184.3 h-1.2 M568 186.2 h-2.4 M568 188.2 h-3.0 M568 190.2 h-3.0 M568 192.1 h-2.4 M568 194.1 h-1.2 M568 196.0 h-1.2 M568 197.9 h-1.8 M568 199.9 h-1.8 M568 201.8 h-3.0 M568 203.8 h-1.8 M568 205.8 h-1.8 M568 207.7 h-1.2 M568 209.7 h-2.4 M568 211.6 h-1.2 M568 213.6 h-1.2 M568 215.5 h-1.8 M568 217.4 h-1.2 M568 219.4 h-1.8 M568 221.3 h-1.2 M568 223.3 h-3.0 M568 225.2 h-2.4 M568 227.2 h-3.0 M568 229.2 h-3.0 M568 231.1 h-3.0 M568 233.1 h-1.8 M565 162 V234 M563.6 170 V228 M563.6 200 h-0.8" stroke="#777" stroke-width="0.25" fill="none"/>
<path d="M611.2 159.9 L615.7 162.1 L613.8 163.4 L614.9 165.1 L610.9 167.2 L616.2 168.2 L615.6 169.8 L613.4 170.8 L611.9 172.8 L616.6 175.2 L610.5 176.2 L616.9 178.0 L611.8 179.5 L610.5 181.1 L613.4 182.4 L613.2 184.1 L613.2 185.4 L613.3 187.1 L614.6 188.1 L614.1 189.9 L614.9 191.1 L613.0 193.3 L614.3 194.8 L614.8 196.8 L614.5 198.4 L613.4 200.3 L614.7 202.1 L613.8 204.3 L612.8 206.2 L614.5 207.5 L613.1 209.1 L614.3 210.8 L613.5 212.8 L613.8 214.4 L613.8 216.5 L613.8 218.0 L612.8 219.1 L614.9 221.1 L613.6 222.9 L613.8 224.1 L614.4 226.5 L616.3 228.3 L613.9 229.6 L614.3 231.9 L612.2 233.6" stroke="#30c040" stroke-width="0.35" fill="none"/>
<path d="M620.4 159.9 L614.9 162.2 L619.7 163.3 L618.6 165.4 L618.3 166.8 L618.1 168.7 L617.2 169.9 L619.0 171.4 L620.4 173.8 L617.3 175.6 L614.7 177.0 L617.4 178.0 L616.9 179.4 L617.8 181.7 L616.0 183.5 L617.3 184.5 L617.6 185.7 L617.9 188.1 L618.4 189.4 L618.1 191.5 L618.1 193.7 L617.3 195.8 L618.5 198.2 L618.1 199.4 L617.5 201.4 L617.6 203.2 L617.6 205.5 L617.3 207.6 L618.4 209.9 L617.7 211.5 L618.0 213.8 L617.1 215.5 L618.0 217.0 L618.4 218.2 L618.4 219.6 L618.5 221.0 L617.6 223.0 L617.9 224.7 L617.2 226.5 L617.6 227.8 L618.4 230.1 L619.6 231.2 L620.1 233.3 L619.1 234.5" stroke="#f02020" stroke-width="0.35" fill="none"/>
<path d="M612.6 183 V228 M620 160 V175" stroke="#30c040" stroke-width="0.35" fill="none"/>
<linearGradient id="gsc" x1="0" y1="0" x2="0" y2="1"><stop offset="0" stop-color="#145a22"/><stop offset="1" stop-color="#f4faf2"/></linearGradient>
<rect x="625.20" y="172.80" width="2.20" height="21.20" fill="url(#gsc)"/>
<rect x="625.20" y="199.80" width="2.20" height="11.40" fill="#30d040"/>
<rect x="625.20" y="211.20" width="2.20" height="10.40" fill="#ff1010"/>
<text x="626.30" y="171.60" font-size="1.50" fill="#555" text-anchor="middle" font-weight="400" stroke="#555" stroke-width="0.12">Z-score</text>
<text x="626.30" y="198.60" font-size="1.50" fill="#555" text-anchor="middle" font-weight="400" stroke="#555" stroke-width="0.12">Group</text>
<circle cx="655.2" cy="172.2" r="17.1" fill="none" stroke="#bbb" stroke-width="0.3"/>
<circle cx="655.2" cy="172.2" r="11.6" fill="none" stroke="#bbb" stroke-width="0.3"/>
<path d="M655.2 160.6 L659.3 162.4 L660.3 167.1 L661.2 169.7 L663.8 172.2 L666.6 176.9 L660.6 177.6 L658.5 180.1 L655.2 181.6 L651.9 180.1 L648.2 179.2 L645.4 176.3 L650.1 172.2 L649.7 169.9 L651.6 168.6 L652.3 165.1Z" stroke="#f02020" stroke-width="0.55" fill="none"/>
<text x="655.20" y="152.30" font-size="1.50" fill="#444" text-anchor="middle" font-weight="400" stroke="#444" stroke-width="0.12">Irf7</text>
<text x="664.09" y="154.33" font-size="1.50" fill="#444" text-anchor="middle" font-weight="400" stroke="#444" stroke-width="0.12">Isg15</text>
<text x="671.23" y="160.02" font-size="1.50" fill="#444" text-anchor="middle" font-weight="400" stroke="#444" stroke-width="0.12">Ifit1</text>
<text x="675.19" y="168.24" font-size="1.50" fill="#444" text-anchor="middle" font-weight="400" stroke="#444" stroke-width="0.12">Stat1</text>
<text x="675.19" y="177.36" font-size="1.50" fill="#444" text-anchor="middle" font-weight="400" stroke="#444" stroke-width="0.12">Oas1a</text>
<text x="671.23" y="185.58" font-size="1.50" fill="#444" text-anchor="middle" font-weight="400" stroke="#444" stroke-width="0.12">Mx1</text>
<text x="664.09" y="191.27" font-size="1.50" fill="#444" text-anchor="middle" font-weight="400" stroke="#444" stroke-width="0.12">Ifi44</text>
<text x="655.20" y="193.30" font-size="1.50" fill="#444" text-anchor="middle" font-weight="400" stroke="#444" stroke-width="0.12">Zbp1</text>
<text x="646.31" y="191.27" font-size="1.50" fill="#444" text-anchor="middle" font-weight="400" stroke="#444" stroke-width="0.12">Ccl2</text>
<text x="639.17" y="185.58" font-size="1.50" fill="#444" text-anchor="middle" font-weight="400" stroke="#444" stroke-width="0.12">Cxcl10</text>
<text x="635.21" y="177.36" font-size="1.50" fill="#444" text-anchor="middle" font-weight="400" stroke="#444" stroke-width="0.12">Ccl5</text>
<text x="635.21" y="168.24" font-size="1.50" fill="#444" text-anchor="middle" font-weight="400" stroke="#444" stroke-width="0.12">Ccl7</text>
<text x="639.17" y="160.02" font-size="1.50" fill="#444" text-anchor="middle" font-weight="400" stroke="#444" stroke-width="0.12">Cd3e</text>
<text x="646.31" y="154.33" font-size="1.50" fill="#444" text-anchor="middle" font-weight="400" stroke="#444" stroke-width="0.12">Cd8a</text>
<text x="655.20" y="148.60" font-size="3.20" fill="#000" text-anchor="middle" font-weight="700" textLength="36.0" lengthAdjust="spacingAndGlyphs" stroke="#000" stroke-width="0.20">Interferon Related Genes</text>
<circle cx="705.9" cy="170.9" r="17.1" fill="none" stroke="#bbb" stroke-width="0.3"/>
<circle cx="705.9" cy="170.9" r="5.2" fill="none" stroke="#bbb" stroke-width="0.3"/>
<path d="M705.9 155.9 L709.8 161.4 L712.6 164.2 L721.7 164.4 L715.3 170.9 L717.0 175.5 L713.2 178.2 L708.2 176.4 L705.9 178.6 L703.6 176.4 L699.9 176.9 L691.4 176.9 L697.4 170.9 L700.2 168.5 L702.0 167.0 L702.6 163.0Z" stroke="#f02020" stroke-width="0.55" fill="none"/>
<text x="705.90" y="151.00" font-size="1.50" fill="#444" text-anchor="middle" font-weight="400" stroke="#444" stroke-width="0.12">Irf7</text>
<text x="717.95" y="154.92" font-size="1.50" fill="#444" text-anchor="middle" font-weight="400" stroke="#444" stroke-width="0.12">Isg15</text>
<text x="725.40" y="165.17" font-size="1.50" fill="#444" text-anchor="middle" font-weight="400" stroke="#444" stroke-width="0.12">Ifit1</text>
<text x="725.40" y="177.83" font-size="1.50" fill="#444" text-anchor="middle" font-weight="400" stroke="#444" stroke-width="0.12">Stat1</text>
<text x="717.95" y="188.08" font-size="1.50" fill="#444" text-anchor="middle" font-weight="400" stroke="#444" stroke-width="0.12">Oas1a</text>
<text x="705.90" y="192.00" font-size="1.50" fill="#444" text-anchor="middle" font-weight="400" stroke="#444" stroke-width="0.12">Mx1</text>
<text x="693.85" y="188.08" font-size="1.50" fill="#444" text-anchor="middle" font-weight="400" stroke="#444" stroke-width="0.12">Ifi44</text>
<text x="686.40" y="177.83" font-size="1.50" fill="#444" text-anchor="middle" font-weight="400" stroke="#444" stroke-width="0.12">Zbp1</text>
<text x="686.40" y="165.17" font-size="1.50" fill="#444" text-anchor="middle" font-weight="400" stroke="#444" stroke-width="0.12">Ccl2</text>
<text x="693.85" y="154.92" font-size="1.50" fill="#444" text-anchor="middle" font-weight="400" stroke="#444" stroke-width="0.12">Cxcl10</text>
<text x="705.90" y="147.80" font-size="3.20" fill="#000" text-anchor="middle" font-weight="700" textLength="16.5" lengthAdjust="spacingAndGlyphs" stroke="#000" stroke-width="0.20">Chemokine</text>
<circle cx="655.2" cy="217.8" r="17.1" fill="none" stroke="#bbb" stroke-width="0.3"/>
<circle cx="655.2" cy="217.8" r="11.6" fill="none" stroke="#bbb" stroke-width="0.3"/>
<path d="M655.2 212.7 L658.8 209.1 L665.5 207.5 L664.7 213.9 L665.8 217.8 L670.7 224.2 L661.9 224.5 L659.1 227.3 L655.2 228.1 L651.6 226.5 L649.2 223.8 L646.0 221.6 L645.8 217.8 L645.7 213.9 L649.8 212.4 L651.9 209.9Z" stroke="#f02020" stroke-width="0.55" fill="none"/>
<text x="655.20" y="197.90" font-size="1.50" fill="#444" text-anchor="middle" font-weight="400" stroke="#444" stroke-width="0.12">Irf7</text>
<text x="664.09" y="199.93" font-size="1.50" fill="#444" text-anchor="middle" font-weight="400" stroke="#444" stroke-width="0.12">Isg15</text>
<text x="671.23" y="205.62" font-size="1.50" fill="#444" text-anchor="middle" font-weight="400" stroke="#444" stroke-width="0.12">Ifit1</text>
<text x="675.19" y="213.84" font-size="1.50" fill="#444" text-anchor="middle" font-weight="400" stroke="#444" stroke-width="0.12">Stat1</text>
<text x="675.19" y="222.96" font-size="1.50" fill="#444" text-anchor="middle" font-weight="400" stroke="#444" stroke-width="0.12">Oas1a</text>
<text x="671.23" y="231.18" font-size="1.50" fill="#444" text-anchor="middle" font-weight="400" stroke="#444" stroke-width="0.12">Mx1</text>
<text x="664.09" y="236.87" font-size="1.50" fill="#444" text-anchor="middle" font-weight="400" stroke="#444" stroke-width="0.12">Ifi44</text>
<text x="655.20" y="238.90" font-size="1.50" fill="#444" text-anchor="middle" font-weight="400" stroke="#444" stroke-width="0.12">Zbp1</text>
<text x="646.31" y="236.87" font-size="1.50" fill="#444" text-anchor="middle" font-weight="400" stroke="#444" stroke-width="0.12">Ccl2</text>
<text x="639.17" y="231.18" font-size="1.50" fill="#444" text-anchor="middle" font-weight="400" stroke="#444" stroke-width="0.12">Cxcl10</text>
<text x="635.21" y="222.96" font-size="1.50" fill="#444" text-anchor="middle" font-weight="400" stroke="#444" stroke-width="0.12">Ccl5</text>
<text x="635.21" y="213.84" font-size="1.50" fill="#444" text-anchor="middle" font-weight="400" stroke="#444" stroke-width="0.12">Ccl7</text>
<text x="639.17" y="205.62" font-size="1.50" fill="#444" text-anchor="middle" font-weight="400" stroke="#444" stroke-width="0.12">Cd3e</text>
<text x="646.31" y="199.93" font-size="1.50" fill="#444" text-anchor="middle" font-weight="400" stroke="#444" stroke-width="0.12">Cd8a</text>
<text x="655.20" y="195.20" font-size="3.20" fill="#000" text-anchor="middle" font-weight="700" textLength="38.0" lengthAdjust="spacingAndGlyphs" stroke="#000" stroke-width="0.20">Inflammation and Infiltration</text>
<circle cx="705.5" cy="216.9" r="18.3" fill="none" stroke="#bbb" stroke-width="0.3"/>
<circle cx="705.5" cy="216.9" r="6.4" fill="none" stroke="#bbb" stroke-width="0.3"/>
<path d="M705.5 208.7 L709.8 206.4 L712.6 209.8 L717.7 211.9 L714.6 216.9 L719.0 222.5 L711.3 222.7 L709.7 227.0 L705.5 224.2 L700.9 228.1 L701.6 220.8 L696.2 220.8 L691.8 216.9 L691.6 211.2 L692.6 204.0 L701.3 206.8Z" stroke="#f02020" stroke-width="0.55" fill="none"/>
<text x="705.50" y="195.80" font-size="1.50" fill="#444" text-anchor="middle" font-weight="400" stroke="#444" stroke-width="0.12">Irf7</text>
<text x="716.35" y="198.71" font-size="1.50" fill="#444" text-anchor="middle" font-weight="400" stroke="#444" stroke-width="0.12">Isg15</text>
<text x="724.29" y="206.65" font-size="1.50" fill="#444" text-anchor="middle" font-weight="400" stroke="#444" stroke-width="0.12">Ifit1</text>
<text x="727.20" y="217.50" font-size="1.50" fill="#444" text-anchor="middle" font-weight="400" stroke="#444" stroke-width="0.12">Stat1</text>
<text x="724.29" y="228.35" font-size="1.50" fill="#444" text-anchor="middle" font-weight="400" stroke="#444" stroke-width="0.12">Oas1a</text>
<text x="716.35" y="236.29" font-size="1.50" fill="#444" text-anchor="middle" font-weight="400" stroke="#444" stroke-width="0.12">Mx1</text>
<text x="705.50" y="239.20" font-size="1.50" fill="#444" text-anchor="middle" font-weight="400" stroke="#444" stroke-width="0.12">Ifi44</text>
<text x="694.65" y="236.29" font-size="1.50" fill="#444" text-anchor="middle" font-weight="400" stroke="#444" stroke-width="0.12">Zbp1</text>
<text x="686.71" y="228.35" font-size="1.50" fill="#444" text-anchor="middle" font-weight="400" stroke="#444" stroke-width="0.12">Ccl2</text>
<text x="683.80" y="217.50" font-size="1.50" fill="#444" text-anchor="middle" font-weight="400" stroke="#444" stroke-width="0.12">Cxcl10</text>
<text x="686.71" y="206.65" font-size="1.50" fill="#444" text-anchor="middle" font-weight="400" stroke="#444" stroke-width="0.12">Ccl5</text>
<text x="694.65" y="198.71" font-size="1.50" fill="#444" text-anchor="middle" font-weight="400" stroke="#444" stroke-width="0.12">Ccl7</text>
<text x="705.50" y="195.20" font-size="3.20" fill="#000" text-anchor="middle" font-weight="700" textLength="55.0" lengthAdjust="spacingAndGlyphs" stroke="#000" stroke-width="0.20">Ag Presentation- (Adaptive Immune Response)</text>
<rect x="756.40" y="142.30" width="107.60" height="65.40" fill="#000"/>
<g clip-path="url(#cp5B)"><g transform="translate(757.8 143.5)">
<use href="#brain5" fill="#161c1a" filter="url(#bl05)"/>
<g filter="url(#bl2)">
<ellipse cx="66" cy="30" rx="16" ry="9" fill="#52641e"/>
<ellipse cx="82" cy="26" rx="10" ry="8" fill="#364e1c"/>
<path d="M22 24 C32 14 46 9 60 7" stroke="#2a5a26" stroke-width="5" fill="none"/>
<ellipse cx="88" cy="50" rx="10" ry="6" fill="#34501c"/>
<ellipse cx="50" cy="42" rx="12" ry="6" fill="#22381e"/>
<ellipse cx="16" cy="40" rx="10" ry="6" fill="#30183a"/>
<ellipse cx="96" cy="34" rx="5" ry="8" fill="#4a2a2a"/>
</g>
<use href="#brain5" fill="none" stroke="#6a2070" stroke-width="0.7" filter="url(#bl05)"/>
<path d="M34 26 C38 20 46 16 54 15 M33 27 C31 32 34 36 38 38" stroke="#020202" stroke-width="2" fill="none" filter="url(#bl05)"/>
<use href="#brain5" filter="url(#n62)"/>
</g></g>
<rect x="756.40" y="142.30" width="107.60" height="65.40" filter="url(#n63)"/>
<rect x="756.4" y="142.3" width="107.6" height="65.4" fill="none" stroke="#ff3c3c" stroke-width="0.9"/>
<rect x="848.30" y="203.40" width="11.70" height="1.30" fill="#fff"/>
<text x="769.00" y="207.60" font-size="3.20" fill="#1010ff" text-anchor="start" font-weight="700" stroke="#1010ff" stroke-width="0.20">DAPI</text>
<text x="781.00" y="207.60" font-size="3.20" fill="#10c050" text-anchor="start" font-weight="700" stroke="#10c050" stroke-width="0.20">SARS-CoV-2</text>
<text x="806.50" y="207.60" font-size="3.20" fill="#ff1010" text-anchor="start" font-weight="700" stroke="#ff1010" stroke-width="0.20">CD45</text>
<rect x="777.20" y="210.20" width="32.70" height="31.40" fill="#1a4a1a"/>
<rect x="777.20" y="210.20" width="32.70" height="31.40" filter="url(#n64)"/>
<rect x="777.20" y="210.20" width="32.70" height="31.40" filter="url(#n65)"/>
<rect x="777.20" y="210.20" width="32.70" height="31.40" filter="url(#n66)"/>
<rect x="777.2" y="210.2" width="32.7" height="31.4" fill="none" stroke="#ff3c3c" stroke-width="0.9"/>
<path d="M791.7 215.7 l-3.2 2.2" stroke="#fff" stroke-width="0.95" fill="none"/>
<path d="M788.2 228.2 l-3.2 2.2" stroke="#fff" stroke-width="0.95" fill="none"/>
<path d="M803.7 231.7 l-3.2 2.2" stroke="#fff" stroke-width="0.95" fill="none"/>
<rect x="817.00" y="210.20" width="32.20" height="31.40" fill="#1a4a1a"/>
<rect x="817.00" y="210.20" width="32.20" height="31.40" filter="url(#n67)"/>
<rect x="817.00" y="210.20" width="32.20" height="31.40" filter="url(#n68)"/>
<rect x="817.00" y="210.20" width="32.20" height="31.40" filter="url(#n69)"/>
<rect x="817.0" y="210.2" width="32.2" height="31.4" fill="none" stroke="#ff3c3c" stroke-width="0.9"/>
<path d="M828.0 221.2 l-3.2 2.2" stroke="#fff" stroke-width="0.95" fill="none"/>
<path d="M834.5 220.7 l-3.2 2.2" stroke="#fff" stroke-width="0.95" fill="none"/>
<path d="M836.0 223.2 l-3.2 2.2" stroke="#fff" stroke-width="0.95" fill="none"/>
<path d="M839.0 238.7 l-3.2 2.2" stroke="#fff" stroke-width="0.95" fill="none"/>
<text x="790.00" y="244.10" font-size="2.40" fill="#c04040" text-anchor="start" font-weight="400" stroke="#c04040" stroke-width="0.12">CD45</text>
<text x="806.00" y="244.10" font-size="2.40" fill="#30a060" text-anchor="start" font-weight="400" stroke="#30a060" stroke-width="0.12">SARS-CoV-2</text>
<text x="831.50" y="244.10" font-size="2.40" fill="#c04040" text-anchor="start" font-weight="400" stroke="#c04040" stroke-width="0.12">Iba-1</text>
<path d="M794 246.5 H834" stroke="#5b5bff" stroke-width="0.6" fill="none"/>
<!-- g_fig6 -->
<text x="561.40" y="291.80" font-size="5.00" fill="#3c3cff" text-anchor="start" font-weight="700" stroke="#3c3cff" stroke-width="0.20">A.</text>
<text x="662.60" y="290.20" font-size="5.00" fill="#3c3cff" text-anchor="start" font-weight="700" stroke="#3c3cff" stroke-width="0.20">B.</text>
<text x="563.00" y="350.20" font-size="5.00" fill="#3c3cff" text-anchor="start" font-weight="700" stroke="#3c3cff" stroke-width="0.20">C.</text>
<path d="M566 306.4 H650.4" stroke="#0a0aff" stroke-width="1.1" fill="none"/>
<path d="M593.8 296 h1.8 v5 h1.5 l-2.4 3.8 l-2.4 -3.8 h1.5z" fill="#f01818"/>
<text x="564.00" y="303.80" font-size="3.30" fill="#f01818" text-anchor="start" font-weight="700" stroke="#f01818" stroke-width="0.20">Infect</text>
<text x="564.00" y="311.80" font-size="3.30" fill="#000" text-anchor="start" font-weight="700" stroke="#000" stroke-width="0.20">Treat</text>
<text x="580.60" y="311.60" font-size="3.00" fill="#000" text-anchor="middle" font-weight="700" stroke="#000" stroke-width="0.20">-1</text>
<text x="594.60" y="311.60" font-size="3.00" fill="#000" text-anchor="middle" font-weight="700" stroke="#000" stroke-width="0.20">0</text>
<text x="647.40" y="311.60" font-size="3.00" fill="#000" text-anchor="middle" font-weight="700" stroke="#000" stroke-width="0.20">12</text>
<text x="651.00" y="311.40" font-size="3.00" fill="#000" text-anchor="start" font-weight="700" stroke="#000" stroke-width="0.20">dpi</text>
<rect x="668.8" y="289.3" width="69.1" height="52.6" fill="#fff" stroke="#555" stroke-width="0.6"/>
<rect x="742.1" y="289.3" width="75.2" height="52.6" fill="#fff" stroke="#e89090" stroke-width="0.6"/>
<rect x="819.2" y="289.3" width="68.8" height="52.6" fill="#fff" stroke="#e89090" stroke-width="0.6"/>
<path d="M677.9 293.5 V332.5 H731.5" stroke="#222" stroke-width="0.4" fill="none"/>
<path d="M677.9 332.5 h-1" stroke="#222" stroke-width="0.35" fill="none"/>
<text x="676.40" y="333.40" font-size="2.50" fill="#000" text-anchor="end" font-weight="700" stroke="#000" stroke-width="0.20">0</text>
<path d="M677.9 314.6 h-1" stroke="#222" stroke-width="0.35" fill="none"/>
<text x="676.40" y="315.55" font-size="2.50" fill="#000" text-anchor="end" font-weight="700" stroke="#000" stroke-width="0.20">50</text>
<path d="M677.9 296.8 h-1" stroke="#222" stroke-width="0.35" fill="none"/>
<text x="676.40" y="297.70" font-size="2.50" fill="#000" text-anchor="end" font-weight="700" stroke="#000" stroke-width="0.20">100</text>
<path d="M677.9 332.5 v1" stroke="#222" stroke-width="0.35" fill="none"/>
<text x="677.90" y="335.88" font-size="2.50" fill="#000" text-anchor="middle" font-weight="700" stroke="#000" stroke-width="0.20">0</text>
<path d="M686.8 332.5 v1" stroke="#222" stroke-width="0.35" fill="none"/>
<text x="686.83" y="335.88" font-size="2.50" fill="#000" text-anchor="middle" font-weight="700" stroke="#000" stroke-width="0.20">2</text>
<path d="M695.8 332.5 v1" stroke="#222" stroke-width="0.35" fill="none"/>
<text x="695.77" y="335.88" font-size="2.50" fill="#000" text-anchor="middle" font-weight="700" stroke="#000" stroke-width="0.20">4</text>
<path d="M704.7 332.5 v1" stroke="#222" stroke-width="0.35" fill="none"/>
<text x="704.70" y="335.88" font-size="2.50" fill="#000" text-anchor="middle" font-weight="700" stroke="#000" stroke-width="0.20">6</text>
<path d="M713.6 332.5 v1" stroke="#222" stroke-width="0.35" fill="none"/>
<text x="713.63" y="335.88" font-size="2.50" fill="#000" text-anchor="middle" font-weight="700" stroke="#000" stroke-width="0.20">8</text>
<path d="M722.6 332.5 v1" stroke="#222" stroke-width="0.35" fill="none"/>
<text x="722.57" y="335.88" font-size="2.50" fill="#000" text-anchor="middle" font-weight="700" stroke="#000" stroke-width="0.20">10</text>
<path d="M731.5 332.5 v1" stroke="#222" stroke-width="0.35" fill="none"/>
<text x="731.50" y="335.88" font-size="2.50" fill="#000" text-anchor="middle" font-weight="700" stroke="#000" stroke-width="0.20">12</text>
<text x="704.70" y="339.00" font-size="2.70" fill="#000" text-anchor="middle" font-weight="700" stroke="#000" stroke-width="0.20">dpi</text>
<text transform="translate(671.80 314.65) rotate(-90)" font-size="2.40" fill="#000" text-anchor="middle" font-weight="700" stroke="#000" stroke-width="0.20">% Survival</text>
<path d="M677.9 296.8 H731.5 V296.8" stroke="#222" stroke-width="0.5" fill="none"/>
<path d="M677.9 296.8 H695.8 V312.2 H700.2 V317.1 H704.7 V332.5" stroke="#109020" stroke-width="0.55" fill="none"/>
<circle cx="695.8" cy="312.2" r="0.75" fill="#109020"/>
<circle cx="700.2" cy="317.1" r="0.75" fill="#109020"/>
<path d="M677.9 296.8 H691.3 V316.4 H695.8 V330.7 H700.2 V332.5" stroke="#f01818" stroke-width="0.55" fill="none"/>
<circle cx="691.3" cy="316.4" r="0.75" fill="#f01818"/>
<circle cx="695.8" cy="330.7" r="0.75" fill="#f01818"/>
<path d="M752.0 293.5 V332.5 H808.5" stroke="#222" stroke-width="0.4" fill="none"/>
<path d="M752.0 332.5 h-1" stroke="#222" stroke-width="0.35" fill="none"/>
<text x="750.50" y="333.40" font-size="2.50" fill="#000" text-anchor="end" font-weight="700" stroke="#000" stroke-width="0.20">0</text>
<path d="M752.0 314.5 h-1" stroke="#222" stroke-width="0.35" fill="none"/>
<text x="750.50" y="315.40" font-size="2.50" fill="#000" text-anchor="end" font-weight="700" stroke="#000" stroke-width="0.20">50</text>
<path d="M752.0 296.5 h-1" stroke="#222" stroke-width="0.35" fill="none"/>
<text x="750.50" y="297.40" font-size="2.50" fill="#000" text-anchor="end" font-weight="700" stroke="#000" stroke-width="0.20">100</text>
<path d="M752.0 332.5 v1" stroke="#222" stroke-width="0.35" fill="none"/>
<text x="752.00" y="335.88" font-size="2.50" fill="#000" text-anchor="middle" font-weight="700" stroke="#000" stroke-width="0.20">0</text>
<path d="M761.4 332.5 v1" stroke="#222" stroke-width="0.35" fill="none"/>
<text x="761.42" y="335.88" font-size="2.50" fill="#000" text-anchor="middle" font-weight="700" stroke="#000" stroke-width="0.20">2</text>
<path d="M770.8 332.5 v1" stroke="#222" stroke-width="0.35" fill="none"/>
<text x="770.83" y="335.88" font-size="2.50" fill="#000" text-anchor="middle" font-weight="700" stroke="#000" stroke-width="0.20">4</text>
<path d="M780.2 332.5 v1" stroke="#222" stroke-width="0.35" fill="none"/>
<text x="780.25" y="335.88" font-size="2.50" fill="#000" text-anchor="middle" font-weight="700" stroke="#000" stroke-width="0.20">6</text>
<path d="M789.7 332.5 v1" stroke="#222" stroke-width="0.35" fill="none"/>
<text x="789.67" y="335.88" font-size="2.50" fill="#000" text-anchor="middle" font-weight="700" stroke="#000" stroke-width="0.20">8</text>
<path d="M799.1 332.5 v1" stroke="#222" stroke-width="0.35" fill="none"/>
<text x="799.08" y="335.88" font-size="2.50" fill="#000" text-anchor="middle" font-weight="700" stroke="#000" stroke-width="0.20">10</text>
<path d="M808.5 332.5 v1" stroke="#222" stroke-width="0.35" fill="none"/>
<text x="808.50" y="335.88" font-size="2.50" fill="#000" text-anchor="middle" font-weight="700" stroke="#000" stroke-width="0.20">12</text>
<text x="780.25" y="339.00" font-size="2.70" fill="#000" text-anchor="middle" font-weight="700" stroke="#000" stroke-width="0.20">dpi</text>
<text transform="translate(745.80 314.50) rotate(-90)" font-size="2.40" fill="#000" text-anchor="middle" font-weight="700" stroke="#000" stroke-width="0.20">% Survival</text>
<path d="M752.0 296.5 H770.8 V312.7 H780.2 V316.3 H789.7 V332.5" stroke="#222" stroke-width="0.5" fill="none"/>
<circle cx="770.8" cy="312.7" r="0.75" fill="#222"/>
<circle cx="780.2" cy="316.3" r="0.75" fill="#222"/>
<circle cx="785.0" cy="316.3" r="0.75" fill="#222"/>
<path d="M752.0 296.5 H766.1 V306.2 H770.8 V325.3 H775.5 V332.5" stroke="#f01818" stroke-width="0.55" fill="none"/>
<circle cx="766.1" cy="306.2" r="0.75" fill="#f01818"/>
<circle cx="770.8" cy="325.3" r="0.75" fill="#f01818"/>
<path d="M828.0 294.0 V332.5 H880.0" stroke="#222" stroke-width="0.4" fill="none"/>
<path d="M828.0 332.5 h-1" stroke="#222" stroke-width="0.35" fill="none"/>
<text x="826.50" y="333.40" font-size="2.50" fill="#000" text-anchor="end" font-weight="700" stroke="#000" stroke-width="0.20">0</text>
<path d="M828.0 314.9 h-1" stroke="#222" stroke-width="0.35" fill="none"/>
<text x="826.50" y="315.80" font-size="2.50" fill="#000" text-anchor="end" font-weight="700" stroke="#000" stroke-width="0.20">50</text>
<path d="M828.0 297.3 h-1" stroke="#222" stroke-width="0.35" fill="none"/>
<text x="826.50" y="298.20" font-size="2.50" fill="#000" text-anchor="end" font-weight="700" stroke="#000" stroke-width="0.20">100</text>
<path d="M828.0 332.5 v1" stroke="#222" stroke-width="0.35" fill="none"/>
<text x="828.00" y="335.88" font-size="2.50" fill="#000" text-anchor="middle" font-weight="700" stroke="#000" stroke-width="0.20">0</text>
<path d="M836.7 332.5 v1" stroke="#222" stroke-width="0.35" fill="none"/>
<text x="836.67" y="335.88" font-size="2.50" fill="#000" text-anchor="middle" font-weight="700" stroke="#000" stroke-width="0.20">2</text>
<path d="M845.3 332.5 v1" stroke="#222" stroke-width="0.35" fill="none"/>
<text x="845.33" y="335.88" font-size="2.50" fill="#000" text-anchor="middle" font-weight="700" stroke="#000" stroke-width="0.20">4</text>
<path d="M854.0 332.5 v1" stroke="#222" stroke-width="0.35" fill="none"/>
<text x="854.00" y="335.88" font-size="2.50" fill="#000" text-anchor="middle" font-weight="700" stroke="#000" stroke-width="0.20">6</text>
<path d="M862.7 332.5 v1" stroke="#222" stroke-width="0.35" fill="none"/>
<text x="862.67" y="335.88" font-size="2.50" fill="#000" text-anchor="middle" font-weight="700" stroke="#000" stroke-width="0.20">8</text>
<path d="M871.3 332.5 v1" stroke="#222" stroke-width="0.35" fill="none"/>
<text x="871.33" y="335.88" font-size="2.50" fill="#000" text-anchor="middle" font-weight="700" stroke="#000" stroke-width="0.20">10</text>
<path d="M880.0 332.5 v1" stroke="#222" stroke-width="0.35" fill="none"/>
<text x="880.00" y="335.88" font-size="2.50" fill="#000" text-anchor="middle" font-weight="700" stroke="#000" stroke-width="0.20">12</text>
<text x="854.00" y="339.00" font-size="2.70" fill="#000" text-anchor="middle" font-weight="700" stroke="#000" stroke-width="0.20">dpi</text>
<text transform="translate(822.40 314.90) rotate(-90)" font-size="2.40" fill="#000" text-anchor="middle" font-weight="700" stroke="#000" stroke-width="0.20">% Survival</text>
<path d="M828.0 297.3 H841.0 V303.3 H858.3 V309.6 H867.0 V321.9 H871.3 V332.5" stroke="#222" stroke-width="0.5" fill="none"/>
<circle cx="841.0" cy="303.3" r="0.75" fill="#222"/>
<circle cx="858.3" cy="309.6" r="0.75" fill="#222"/>
<circle cx="867.0" cy="321.9" r="0.75" fill="#222"/>
<path d="M828.0 297.3 H841.0 V323.0 H845.3 V332.5" stroke="#f01818" stroke-width="0.55" fill="none"/>
<circle cx="841.0" cy="323.0" r="0.75" fill="#f01818"/>
<circle cx="701.5" cy="299.9" r="0.6" fill="#f01818"/>
<text x="702.90" y="300.50" font-size="2.10" fill="#000" text-anchor="start" font-weight="700" stroke="#000" stroke-width="0.20">WA2020-Ctrl mAb</text>
<circle cx="701.5" cy="303.2" r="0.6" fill="#222"/>
<text x="702.90" y="303.80" font-size="2.10" fill="#000" text-anchor="start" font-weight="700" stroke="#000" stroke-width="0.20">WA2020-CV30 mAb -1dpi</text>
<circle cx="701.5" cy="306.5" r="0.6" fill="#109020"/>
<text x="702.90" y="307.10" font-size="2.10" fill="#000" text-anchor="start" font-weight="700" stroke="#000" stroke-width="0.20">WA2020-Hu serum -1dpi</text>
<circle cx="789.0" cy="296.9" r="0.6" fill="#f01818"/>
<text x="790.40" y="297.50" font-size="2.10" fill="#000" text-anchor="start" font-weight="700" stroke="#000" stroke-width="0.20">WA2020-Ctrl mAb</text>
<circle cx="789.0" cy="300.2" r="0.6" fill="#222"/>
<text x="790.40" y="300.80" font-size="2.10" fill="#000" text-anchor="start" font-weight="700" stroke="#000" stroke-width="0.20">WA2020-CV30 0 dpi</text>
<circle cx="862.0" cy="297.9" r="0.6" fill="#f01818"/>
<text x="863.40" y="298.50" font-size="2.10" fill="#000" text-anchor="start" font-weight="700" stroke="#000" stroke-width="0.20">P.1-Ctrl mAb</text>
<circle cx="862.0" cy="301.2" r="0.6" fill="#222"/>
<text x="863.40" y="301.80" font-size="2.10" fill="#000" text-anchor="start" font-weight="700" stroke="#000" stroke-width="0.20">P.1-CV30 -1dpi</text>
<text x="830.50" y="299.80" font-size="1.70" fill="#000" text-anchor="start" font-weight="700" stroke="#000" stroke-width="0.20">1x10<tspan dy="-0.6" font-size="1.2">2</tspan><tspan dy="0.6"> TCID</tspan></text>
<path d="M584.4 355.6 V408.6 H659.4" stroke="#222" stroke-width="0.4" fill="none"/>
<path d="M584.4 408.6 h-1" stroke="#222" stroke-width="0.35" fill="none"/>
<text x="582.90" y="409.64" font-size="2.90" fill="#000" text-anchor="end" font-weight="700" stroke="#000" stroke-width="0.20">0</text>
<path d="M584.4 384.3 h-1" stroke="#222" stroke-width="0.35" fill="none"/>
<text x="582.90" y="385.34" font-size="2.90" fill="#000" text-anchor="end" font-weight="700" stroke="#000" stroke-width="0.20">50</text>
<path d="M584.4 360.0 h-1" stroke="#222" stroke-width="0.35" fill="none"/>
<text x="582.90" y="361.04" font-size="2.90" fill="#000" text-anchor="end" font-weight="700" stroke="#000" stroke-width="0.20">100</text>
<path d="M584.4 408.6 v1" stroke="#222" stroke-width="0.35" fill="none"/>
<text x="584.40" y="412.52" font-size="2.90" fill="#000" text-anchor="middle" font-weight="700" stroke="#000" stroke-width="0.20">0</text>
<path d="M596.9 408.6 v1" stroke="#222" stroke-width="0.35" fill="none"/>
<text x="596.90" y="412.52" font-size="2.90" fill="#000" text-anchor="middle" font-weight="700" stroke="#000" stroke-width="0.20">2</text>
<path d="M609.4 408.6 v1" stroke="#222" stroke-width="0.35" fill="none"/>
<text x="609.40" y="412.52" font-size="2.90" fill="#000" text-anchor="middle" font-weight="700" stroke="#000" stroke-width="0.20">4</text>
<path d="M621.9 408.6 v1" stroke="#222" stroke-width="0.35" fill="none"/>
<text x="621.90" y="412.52" font-size="2.90" fill="#000" text-anchor="middle" font-weight="700" stroke="#000" stroke-width="0.20">6</text>
<path d="M634.4 408.6 v1" stroke="#222" stroke-width="0.35" fill="none"/>
<text x="634.40" y="412.52" font-size="2.90" fill="#000" text-anchor="middle" font-weight="700" stroke="#000" stroke-width="0.20">8</text>
<path d="M646.9 408.6 v1" stroke="#222" stroke-width="0.35" fill="none"/>
<text x="646.90" y="412.52" font-size="2.90" fill="#000" text-anchor="middle" font-weight="700" stroke="#000" stroke-width="0.20">10</text>
<path d="M659.4 408.6 v1" stroke="#222" stroke-width="0.35" fill="none"/>
<text x="659.40" y="412.52" font-size="2.90" fill="#000" text-anchor="middle" font-weight="700" stroke="#000" stroke-width="0.20">12</text>
<text x="621.90" y="416.14" font-size="3.10" fill="#000" text-anchor="middle" font-weight="700" stroke="#000" stroke-width="0.20">dpi</text>
<text transform="translate(577.20 384.30) rotate(-90)" font-size="2.80" fill="#000" text-anchor="middle" font-weight="700" stroke="#000" stroke-width="0.20">% Survival</text>
<path d="M584.4 360.0 H628.1 V387.7 H659.4 V387.7" stroke="#f01818" stroke-width="0.7" fill="none"/>
<circle cx="628.1" cy="387.7" r="0.75" fill="#f01818"/>
<circle cx="659.4" cy="387.7" r="0.75" fill="#f01818"/>
<text x="622.00" y="352.80" font-size="3.10" fill="#000" text-anchor="middle" font-weight="700" stroke="#000" stroke-width="0.20">Survival: WA2020</text>
<text x="596.00" y="364.20" font-size="2.20" fill="#000" text-anchor="start" font-weight="700" stroke="#000" stroke-width="0.20">1.2 x 10<tspan dy="-0.8" font-size="1.5">3</tspan><tspan dy="0.8"> TCID</tspan><tspan dy="0.6" font-size="1.5">50</tspan></text>
<path d="M678.4 356.5 V408.6 H730.8" stroke="#222" stroke-width="0.4" fill="none"/>
<path d="M678.4 408.6 h-1" stroke="#222" stroke-width="0.35" fill="none"/>
<text x="676.90" y="409.64" font-size="2.90" fill="#000" text-anchor="end" font-weight="700" stroke="#000" stroke-width="0.20">0</text>
<path d="M678.4 384.5 h-1" stroke="#222" stroke-width="0.35" fill="none"/>
<text x="676.90" y="385.54" font-size="2.90" fill="#000" text-anchor="end" font-weight="700" stroke="#000" stroke-width="0.20">50</text>
<path d="M678.4 360.4 h-1" stroke="#222" stroke-width="0.35" fill="none"/>
<text x="676.90" y="361.44" font-size="2.90" fill="#000" text-anchor="end" font-weight="700" stroke="#000" stroke-width="0.20">100</text>
<path d="M678.4 408.6 v1" stroke="#222" stroke-width="0.35" fill="none"/>
<text x="678.40" y="412.52" font-size="2.90" fill="#000" text-anchor="middle" font-weight="700" stroke="#000" stroke-width="0.20">0</text>
<path d="M687.1 408.6 v1" stroke="#222" stroke-width="0.35" fill="none"/>
<text x="687.13" y="412.52" font-size="2.90" fill="#000" text-anchor="middle" font-weight="700" stroke="#000" stroke-width="0.20">1</text>
<path d="M695.9 408.6 v1" stroke="#222" stroke-width="0.35" fill="none"/>
<text x="695.87" y="412.52" font-size="2.90" fill="#000" text-anchor="middle" font-weight="700" stroke="#000" stroke-width="0.20">2</text>
<path d="M704.6 408.6 v1" stroke="#222" stroke-width="0.35" fill="none"/>
<text x="704.60" y="412.52" font-size="2.90" fill="#000" text-anchor="middle" font-weight="700" stroke="#000" stroke-width="0.20">3</text>
<path d="M713.3 408.6 v1" stroke="#222" stroke-width="0.35" fill="none"/>
<text x="713.33" y="412.52" font-size="2.90" fill="#000" text-anchor="middle" font-weight="700" stroke="#000" stroke-width="0.20">4</text>
<path d="M722.1 408.6 v1" stroke="#222" stroke-width="0.35" fill="none"/>
<text x="722.07" y="412.52" font-size="2.90" fill="#000" text-anchor="middle" font-weight="700" stroke="#000" stroke-width="0.20">5</text>
<path d="M730.8 408.6 v1" stroke="#222" stroke-width="0.35" fill="none"/>
<text x="730.80" y="412.52" font-size="2.90" fill="#000" text-anchor="middle" font-weight="700" stroke="#000" stroke-width="0.20">6</text>
<text x="704.60" y="416.14" font-size="3.10" fill="#000" text-anchor="middle" font-weight="700" stroke="#000" stroke-width="0.20">dpi</text>
<text transform="translate(671.60 384.50) rotate(-90)" font-size="2.80" fill="#000" text-anchor="middle" font-weight="700" stroke="#000" stroke-width="0.20">% Survival</text>
<path d="M678.4 360.4 H704.6 V376.3 H713.3 V388.4 H722.1 V408.6" stroke="#f01818" stroke-width="0.7" fill="none"/>
<circle cx="704.6" cy="376.3" r="0.75" fill="#f01818"/>
<circle cx="713.3" cy="388.4" r="0.75" fill="#f01818"/>
<circle cx="722.1" cy="408.6" r="0.75" fill="#f01818"/>
<text x="704.00" y="352.80" font-size="3.10" fill="#000" text-anchor="middle" font-weight="700" stroke="#000" stroke-width="0.20">Survival: B.1.1.7 Mutation</text>
<text x="683.50" y="365.20" font-size="2.20" fill="#000" text-anchor="start" font-weight="700" stroke="#000" stroke-width="0.20">1.2 x 10<tspan dy="-0.8" font-size="1.5">2</tspan><tspan dy="0.8"> TCID</tspan><tspan dy="0.6" font-size="1.5">50</tspan></text>
<path d="M748.0 356.5 V408.6 H800.0" stroke="#222" stroke-width="0.4" fill="none"/>
<path d="M748.0 408.6 h-1" stroke="#222" stroke-width="0.35" fill="none"/>
<text x="746.50" y="409.64" font-size="2.90" fill="#000" text-anchor="end" font-weight="700" stroke="#000" stroke-width="0.20">0</text>
<path d="M748.0 384.5 h-1" stroke="#222" stroke-width="0.35" fill="none"/>
<text x="746.50" y="385.54" font-size="2.90" fill="#000" text-anchor="end" font-weight="700" stroke="#000" stroke-width="0.20">50</text>
<path d="M748.0 360.4 h-1" stroke="#222" stroke-width="0.35" fill="none"/>
<text x="746.50" y="361.44" font-size="2.90" fill="#000" text-anchor="end" font-weight="700" stroke="#000" stroke-width="0.20">100</text>
<path d="M748.0 408.6 v1" stroke="#222" stroke-width="0.35" fill="none"/>
<text x="748.00" y="412.52" font-size="2.90" fill="#000" text-anchor="middle" font-weight="700" stroke="#000" stroke-width="0.20">0</text>
<path d="M756.7 408.6 v1" stroke="#222" stroke-width="0.35" fill="none"/>
<text x="756.67" y="412.52" font-size="2.90" fill="#000" text-anchor="middle" font-weight="700" stroke="#000" stroke-width="0.20">1</text>
<path d="M765.3 408.6 v1" stroke="#222" stroke-width="0.35" fill="none"/>
<text x="765.33" y="412.52" font-size="2.90" fill="#000" text-anchor="middle" font-weight="700" stroke="#000" stroke-width="0.20">2</text>
<path d="M774.0 408.6 v1" stroke="#222" stroke-width="0.35" fill="none"/>
<text x="774.00" y="412.52" font-size="2.90" fill="#000" text-anchor="middle" font-weight="700" stroke="#000" stroke-width="0.20">3</text>
<path d="M782.7 408.6 v1" stroke="#222" stroke-width="0.35" fill="none"/>
<text x="782.67" y="412.52" font-size="2.90" fill="#000" text-anchor="middle" font-weight="700" stroke="#000" stroke-width="0.20">4</text>
<path d="M791.3 408.6 v1" stroke="#222" stroke-width="0.35" fill="none"/>
<text x="791.33" y="412.52" font-size="2.90" fill="#000" text-anchor="middle" font-weight="700" stroke="#000" stroke-width="0.20">5</text>
<path d="M800.0 408.6 v1" stroke="#222" stroke-width="0.35" fill="none"/>
<text x="800.00" y="412.52" font-size="2.90" fill="#000" text-anchor="middle" font-weight="700" stroke="#000" stroke-width="0.20">6</text>
<text x="774.00" y="416.14" font-size="3.10" fill="#000" text-anchor="middle" font-weight="700" stroke="#000" stroke-width="0.20">dpi</text>
<text transform="translate(741.00 384.50) rotate(-90)" font-size="2.80" fill="#000" text-anchor="middle" font-weight="700" stroke="#000" stroke-width="0.20">% Survival</text>
<path d="M748.0 360.4 H774.0 V372.4 H782.7 V388.4 H791.3 V408.6" stroke="#f01818" stroke-width="0.7" fill="none"/>
<circle cx="774.0" cy="372.4" r="0.75" fill="#f01818"/>
<circle cx="782.7" cy="388.4" r="0.75" fill="#f01818"/>
<circle cx="791.3" cy="408.6" r="0.75" fill="#f01818"/>
<text x="774.00" y="353.00" font-size="3.10" fill="#000" text-anchor="middle" font-weight="700" stroke="#000" stroke-width="0.20">Survival: B.1.351 Mutation</text>
<text x="753.50" y="364.60" font-size="2.20" fill="#000" text-anchor="start" font-weight="700" stroke="#000" stroke-width="0.20">1.2 x 10<tspan dy="-0.8" font-size="1.5">2</tspan><tspan dy="0.8"> TCID</tspan><tspan dy="0.6" font-size="1.5">50</tspan></text>
<path d="M821.4 360.0 V408.6 H871.4" stroke="#222" stroke-width="0.4" fill="none"/>
<path d="M821.4 408.6 h-1" stroke="#222" stroke-width="0.35" fill="none"/>
<text x="819.90" y="409.64" font-size="2.90" fill="#000" text-anchor="end" font-weight="700" stroke="#000" stroke-width="0.20">0</text>
<path d="M821.4 386.5 h-1" stroke="#222" stroke-width="0.35" fill="none"/>
<text x="819.90" y="387.54" font-size="2.90" fill="#000" text-anchor="end" font-weight="700" stroke="#000" stroke-width="0.20">50</text>
<path d="M821.4 364.4 h-1" stroke="#222" stroke-width="0.35" fill="none"/>
<text x="819.90" y="365.44" font-size="2.90" fill="#000" text-anchor="end" font-weight="700" stroke="#000" stroke-width="0.20">100</text>
<path d="M821.4 408.6 v1" stroke="#222" stroke-width="0.35" fill="none"/>
<text x="821.40" y="412.52" font-size="2.90" fill="#000" text-anchor="middle" font-weight="700" stroke="#000" stroke-width="0.20">0</text>
<path d="M829.7 408.6 v1" stroke="#222" stroke-width="0.35" fill="none"/>
<text x="829.73" y="412.52" font-size="2.90" fill="#000" text-anchor="middle" font-weight="700" stroke="#000" stroke-width="0.20">1</text>
<path d="M838.1 408.6 v1" stroke="#222" stroke-width="0.35" fill="none"/>
<text x="838.07" y="412.52" font-size="2.90" fill="#000" text-anchor="middle" font-weight="700" stroke="#000" stroke-width="0.20">2</text>
<path d="M846.4 408.6 v1" stroke="#222" stroke-width="0.35" fill="none"/>
<text x="846.40" y="412.52" font-size="2.90" fill="#000" text-anchor="middle" font-weight="700" stroke="#000" stroke-width="0.20">3</text>
<path d="M854.7 408.6 v1" stroke="#222" stroke-width="0.35" fill="none"/>
<text x="854.73" y="412.52" font-size="2.90" fill="#000" text-anchor="middle" font-weight="700" stroke="#000" stroke-width="0.20">4</text>
<path d="M863.1 408.6 v1" stroke="#222" stroke-width="0.35" fill="none"/>
<text x="863.07" y="412.52" font-size="2.90" fill="#000" text-anchor="middle" font-weight="700" stroke="#000" stroke-width="0.20">5</text>
<path d="M871.4 408.6 v1" stroke="#222" stroke-width="0.35" fill="none"/>
<text x="871.40" y="412.52" font-size="2.90" fill="#000" text-anchor="middle" font-weight="700" stroke="#000" stroke-width="0.20">6</text>
<text x="846.40" y="416.14" font-size="3.10" fill="#000" text-anchor="middle" font-weight="700" stroke="#000" stroke-width="0.20">dpi</text>
<text transform="translate(814.40 386.50) rotate(-90)" font-size="2.80" fill="#000" text-anchor="middle" font-weight="700" stroke="#000" stroke-width="0.20">% Survival</text>
<path d="M821.4 364.4 H838.1 V368.8 H854.7 V408.6" stroke="#f01818" stroke-width="0.45" fill="none"/>
<circle cx="838.1" cy="368.8" r="0.75" fill="#f01818"/>
<circle cx="854.7" cy="408.6" r="0.75" fill="#f01818"/>
<text x="846.40" y="353.00" font-size="3.10" fill="#000" text-anchor="middle" font-weight="700" stroke="#000" stroke-width="0.20">Survival: B.1.617.2 Mutation</text>
<text x="824.50" y="374.20" font-size="2.20" fill="#000" text-anchor="start" font-weight="700" stroke="#000" stroke-width="0.20">1.2 x 10<tspan dy="-0.8" font-size="1.5">1</tspan><tspan dy="0.8"> TCID</tspan><tspan dy="0.6" font-size="1.5">50</tspan></text>
</svg>
<div class="hdr"></div>
<div class="bar" style="left:16.0px;top:124.6px;width:284.0px;height:16.0px;"></div>
<div class="bar" style="left:301.2px;top:124.6px;width:586.8px;height:16.0px;"></div>
<div class="bar" style="left:16.0px;top:240.6px;width:278.4px;height:16.0px;"></div>
<div class="bar" style="left:16.0px;top:439.2px;width:278.6px;height:16.2px;"></div>
<div class="bar" style="left:549.4px;top:453.4px;width:341.6px;height:15.3px;"></div>
<div class="cap" style="left:12.2px;top:546.3px;width:280.6px;height:23.0px;"></div>
<div class="cap" style="left:301.2px;top:216.2px;width:243.0px;height:30.0px;"></div>
<div class="cap" style="left:299.2px;top:411.4px;width:246.0px;height:35.2px;"></div>
<div class="cap" style="left:299.2px;top:545.5px;width:246.0px;height:24.2px;"></div>
<div class="cap" style="left:551.0px;top:250.3px;width:336.7px;height:33.2px;"></div>
<div class="cap" style="left:555.0px;top:418.4px;width:336.6px;height:33.1px;"></div>
<div class="l" style="left:361.10px;top:12.82px;font-size:21.30px;line-height:25.56px;-webkit-text-stroke:0;color:#fff;transform:translateX(-50%) scaleX(1.0009);transform-origin:50% 50%;">Neonatal Mouse model of SARS-CoV-2 and Variants of Concern to</div>
<div class="l" style="left:360.60px;top:39.32px;font-size:21.30px;line-height:25.56px;-webkit-text-stroke:0;color:#fff;transform:translateX(-50%) scaleX(0.9914);transform-origin:50% 50%;">Evaluate Therapeutics.</div>
<div class="l" style="left:370.00px;top:73.68px;font-size:10.70px;line-height:12.84px;-webkit-text-stroke:0;color:#fff;transform:translateX(-50%) scaleX(1.0020);transform-origin:50% 50%;">Derek D.C. Ireland, Mohanraj Manangeeswaran, Mirian Mendoza, Logan Kelly-Baker and Daniela Verthelyi</div>
<div class="l" style="left:370.00px;top:86.58px;font-size:10.70px;line-height:12.84px;-webkit-text-stroke:0;font-weight:400;color:#fff;transform:translateX(-50%) scaleX(1.0016);transform-origin:50% 50%;">Food and Drug Administration, Center for Drug Evaluation and Research, Office of Biotechnology Products</div>
<div class="l" style="left:27.30px;top:125.30px;font-size:12.00px;line-height:14.40px;-webkit-text-stroke:0;color:#fff;">Abstract</div>
<div class="l" style="left:312.30px;top:125.30px;font-size:12.00px;line-height:14.40px;-webkit-text-stroke:0;color:#fff;">Results</div>
<div class="l" style="left:27.00px;top:241.30px;font-size:12.00px;line-height:14.40px;-webkit-text-stroke:0;color:#fff;">Introduction</div>
<div class="l" style="left:27.00px;top:440.00px;font-size:12.00px;line-height:14.40px;-webkit-text-stroke:0;color:#fff;">Results</div>
<div class="l" style="left:563.40px;top:453.75px;font-size:12.00px;line-height:14.40px;-webkit-text-stroke:0;color:#fff;">Conclusions:</div>
<div class="l" style="left:16.00px;top:142.00px;font-size:5.00px;line-height:6.00px;transform:scaleX(0.9965);">Since first reported in 2019, severe acute respiratory syndrome coronavirus 2 (SARS-CoV-2) is rapidly acquiring</div>
<div class="l" style="left:16.00px;top:148.45px;font-size:5.00px;line-height:6.00px;transform:scaleX(0.9854);">mutations, particularly in the Spike protein, that can modulate pathogenicity, transmission and antibody evasion</div>
<div class="l" style="left:16.00px;top:154.90px;font-size:5.00px;line-height:6.00px;transform:scaleX(0.9921);">leading to successive waves of COVID19 infections despite an unprecedented mass vaccination necessitating</div>
<div class="l" style="left:16.00px;top:161.35px;font-size:5.00px;line-height:6.00px;transform:scaleX(0.9732);">continuous adaptation of therapeutics. Small animal models can facilitate understanding of host-pathogen</div>
<div class="l" style="left:16.00px;top:167.80px;font-size:5.00px;line-height:6.00px;transform:scaleX(1.0078);">interactions, target selection for therapeutic drugs, vaccine development and the safety of therapeutics.&nbsp; We and</div>
<div class="l" style="left:16.00px;top:174.25px;font-size:5.00px;line-height:6.00px;transform:scaleX(0.9916);">others have shown that the expression of human ACE2 is required to ensure susceptibility to SARS-CoV-2 infection</div>
<div class="l" style="left:16.00px;top:180.70px;font-size:5.00px;line-height:6.00px;transform:scaleX(0.9983);">in mice.&nbsp; This study developed a model of SARS-CoV-2 infection to study pathogenesis and the immune response to</div>
<div class="l" style="left:16.00px;top:187.15px;font-size:5.00px;line-height:6.00px;transform:scaleX(0.9958);">infection in neonates.&nbsp; Strikingly, challenge of neonatal hACE2tg mice with SARS-CoV-2 Variants of Concern, which</div>
<div class="l" style="left:16.00px;top:193.60px;font-size:5.00px;line-height:6.00px;transform:scaleX(0.9935);">are defined by mutations in the Spike proteins (SARS-CoV-2-α, -β, ϒ, Δ or Ο), resulted in more rapid and severe</div>
<div class="l" style="left:16.00px;top:200.05px;font-size:5.00px;line-height:6.00px;transform:scaleX(0.9994);">disease with severe neurological damage, even with significant lower inoculation titres.&nbsp; Further, this model provides</div>
<div class="l" style="left:16.00px;top:206.50px;font-size:5.00px;line-height:6.00px;transform:scaleX(0.9892);">a platform in which the safety and efficacy of SARS-CoV-2 therapeutics, particularly monoclonal antibodies targeting</div>
<div class="l" style="left:16.00px;top:212.95px;font-size:5.00px;line-height:6.00px;transform:scaleX(0.9917);">the Spike protein can be evaluated.&nbsp; Prophylactic treatment with monoclonal antibodies targeting the receptor binding</div>
<div class="l" style="left:16.00px;top:219.40px;font-size:5.00px;line-height:6.00px;transform:scaleX(1.0024);">domain (RBP) of this protein resulted in protection from infection.&nbsp; These studies at BSL-3 are also used to validate</div>
<div class="l" style="left:16.00px;top:225.85px;font-size:5.00px;line-height:6.00px;transform:scaleX(0.9919);">studies using VSV-based pseudoviruses expressing the SARS-CoV-2 spike protein from Variants of Concern, which</div>
<div class="l" style="left:16.00px;top:232.30px;font-size:5.00px;line-height:6.00px;transform:scaleX(0.9997);">can be utilized at BSL-2.</div>
<div class="l" style="left:18.00px;top:261.75px;font-size:4.25px;line-height:5.10px;transform:scaleX(0.9834);">• COVID-19 is primarily a respiratory disease caused by infection with Coronavirus, SARS-CoV-2</div>
<div class="l" style="left:37.50px;top:269.95px;font-size:4.25px;line-height:5.10px;transform:scaleX(0.9838);">• 3 – 17 % of patients develop severe pneumonia and acute respiratory distress syndrome (ARDS)</div>
<div class="l" style="left:18.00px;top:276.95px;font-size:4.25px;line-height:5.10px;transform:scaleX(0.9791);">• Cardiovascular, renal and neurological outcomes in approximately 30 % of cases.</div>
<div class="l" style="left:37.50px;top:284.95px;font-size:4.25px;line-height:5.10px;transform:scaleX(0.9796);">• Anosmia, ageusia, headache, meningitis, seizures</div>
<div class="l" style="left:18.00px;top:292.95px;font-size:4.25px;line-height:5.10px;transform:scaleX(0.9905);">• Fatal in 1 – 9 % of cases. Over 1.1 million dead in the US alone and over 6.8 million dead world-wide.</div>
<div class="l" style="left:18.00px;top:307.95px;font-size:4.25px;line-height:5.10px;transform:scaleX(0.9720);">• Long-term sequalae for patients also observed:</div>
<div class="l" style="left:25.00px;top:315.55px;font-size:4.25px;line-height:5.10px;transform:scaleX(0.9803);">• “Long COVID” or post-acute sequalae of SARS-CoV-2 infection (PASC) symptoms include: fatigue, dyspnea, changes in smell,</div>
<div class="l" style="left:31.00px;top:321.75px;font-size:4.25px;line-height:5.10px;transform:scaleX(0.9486);">cognition (“brain fog”), and sleep patterns.</div>
<div class="l" style="left:18.00px;top:338.05px;font-size:4.25px;line-height:5.10px;transform:scaleX(0.9878);">• Vaccines, therapeutics and tests for SARS-CoV-2 (COVID-19) developed, authorized for emergency use and approved in ground-breaking</div>
<div class="l" style="left:24.00px;top:344.15px;font-size:4.25px;line-height:5.10px;transform:scaleX(0.9848);">time, with the first vaccine being approved for emergency use in December, 2020.</div>
<div class="l" style="left:18.00px;top:359.75px;font-size:4.25px;line-height:5.10px;transform:scaleX(0.9779);">• SARS-CoV-2 requires the receptor human ACE2 for entry into host cells via the viral Spike protein.</div>
<div class="l" style="left:25.00px;top:366.85px;font-size:4.25px;line-height:5.10px;transform:scaleX(0.9733);">• As such only species with ACE2 sufficiently similar to human ACE2 or genetically modified mice that express human ACE (under</div>
<div class="l" style="left:31.00px;top:374.05px;font-size:4.25px;line-height:5.10px;transform:scaleX(0.9718);">control of the K18 promoter) are suitable as animal models.</div>
<div class="l" style="left:25.00px;top:380.75px;font-size:4.25px;line-height:5.10px;transform:scaleX(0.9773);">• Intranasal inoculation with SARS-CoV-2 is required to induce disease.</div>
<div class="l" style="left:18.00px;top:389.15px;font-size:4.25px;line-height:5.10px;transform:scaleX(0.9739);">• Variants of Concern are largely defined by mutations in the viral Spike protein.</div>
<div class="l" style="left:18.00px;top:404.85px;font-size:4.25px;line-height:5.10px;transform:scaleX(0.9687);">• Many neutralizing monoclonal antibody (mAb) therapeutics target and ACE2::Spike interactions, blocking entry of the virus into the cell.</div>
<div class="l" style="left:25.00px;top:411.65px;font-size:4.25px;line-height:5.10px;transform:scaleX(0.9757);">• As Variants of Concern evolve, new variants have escaped neutralization by most authorized therapeutics</div>
<div class="l" style="left:25.00px;top:420.05px;font-size:4.25px;line-height:5.10px;transform:scaleX(0.9727);">• As such new antibody-based therapeutics and small molecule anti-viral compounds will need to be developed and tested to against</div>
<div class="l" style="left:31.00px;top:425.85px;font-size:4.25px;line-height:5.10px;transform:scaleX(0.9691);">emerging variants to determine efficacy as well as safety.</div>
<div class="l" style="left:13.30px;top:548.10px;font-size:4.00px;line-height:4.80px;transform:scaleX(1.0094);"><span class="fl">Figure 1.</span>&nbsp; B6, hACE2 Tg mice succumb to SARS-CoV-2 infection.&nbsp; <span class="r">Animals infected with SARS-CoV-2 (WA2020 strain) rapidly develop symptoms within</span></div>
<div class="l" style="left:13.30px;top:552.80px;font-size:4.00px;line-height:4.80px;transform:scaleX(1.0218);"><span class="r">3 days post-infection (dpi) and succumbed to disease by 5 dpi (age P13).&nbsp; Both viral RNA (as quantified by qPCR for Spike protein expression) and Tissue</span></div>
<div class="l" style="left:13.30px;top:557.60px;font-size:4.00px;line-height:4.80px;transform:scaleX(1.0228);"><span class="r">Culture Infectious Dose 50 (TCID<sub>50</sub>) indicate significant infection in the brains and lungs of susceptible animals at 3 days post-infection (dpi).&nbsp; We were not</span></div>
<div class="l" style="left:13.30px;top:562.00px;font-size:4.00px;line-height:4.80px;transform:scaleX(1.0075);"><span class="r">able to detect the presence of virus in other peripheral organs tested (blood, kidney, spleen, liver).</span></div>
<div class="l" style="left:302.20px;top:218.20px;font-size:4.00px;line-height:4.80px;transform:scaleX(1.0237);"><span class="fl">Figure 2.</span>&nbsp; Lung Infection and Pathology following SARS-CoV-2 infection.&nbsp; <span class="bl">A.</span><span class="r">&nbsp; Immunohistochemical (IHC) staining using an anti-</span></div>
<div class="l" style="left:302.20px;top:222.90px;font-size:4.00px;line-height:4.80px;transform:scaleX(1.0085);"><span class="r">Spike pAb of lungs from challenged hACE2-Tg mice demonstrates SARS-CoV-2 in the lungs (left column, red arrows).&nbsp; H&amp;E staining of</span></div>
<div class="l" style="left:302.20px;top:227.60px;font-size:4.00px;line-height:4.80px;transform:scaleX(1.0103);"><span class="r">lungs indicates immune cell infiltrating following SARS-CoV-2 infection (green arrows) and mild alveolitis (Center, 100x and Right, 600x</span></div>
<div class="l" style="left:302.20px;top:231.80px;font-size:4.00px;line-height:4.80px;transform:scaleX(1.0222);"><span class="r">columns).&nbsp; 3 dpi, N = 6/group.&nbsp; </span><span class="bl">B.</span><span class="r">&nbsp; Expression of select inflammatory genes in infected lungs, relative to age-matched uninfected age-</span></div>
<div class="l" style="left:302.20px;top:236.80px;font-size:4.00px;line-height:4.80px;transform:scaleX(1.0017);"><span class="r">matched controls (P8 at 3 dpi).&nbsp; Gene expression measured using Nanostring nCounter Mouse Immunology Panel.&nbsp; N=5/group.</span></div>
<div class="l" style="left:300.30px;top:413.20px;font-size:4.00px;line-height:4.80px;transform:scaleX(1.0638);"><span class="fl">Figure 3.</span>&nbsp; Neuroinvasion of SARS-CoV-2.&nbsp; <span class="bl">A.</span><span class="r">&nbsp; SARS-CoV-2 spreads throughout CNS.&nbsp; </span>Left<span class="r">, brain from age matched uninfected</span></div>
<div class="l" style="left:300.30px;top:417.90px;font-size:4.00px;line-height:4.80px;transform:scaleX(1.0449);"><span class="r">mouse; </span>Right<span class="r">, brain from mouse inoculated with infectious clone of SARS-CoV-2 (WA2020), expressing GFP, to track virus infection</span></div>
<div class="l" style="left:300.30px;top:422.60px;font-size:4.00px;line-height:4.80px;transform:scaleX(1.0047);"><span class="r">(Green) at 3 dpi.&nbsp; IHC staining for neurofilament heavy chain (NF-H, Red).&nbsp; SARS-CoV-2, following intranasal inoculation, spreads quickly</span></div>
<div class="l" style="left:300.30px;top:426.90px;font-size:4.00px;line-height:4.80px;transform:scaleX(1.0312);"><span class="r">throughout the CNS. Scale Bar = 1 mm.&nbsp; </span><span class="bl">B.</span><span class="r">&nbsp; Immunohistochemistry for astrocytes, including Bergmann glia of the cerebellum (GFAP+</span></div>
<div class="l" style="left:300.30px;top:431.90px;font-size:4.00px;line-height:4.80px;transform:scaleX(1.0341);"><span class="r">cells), combined with SARS-CoV-2 indicates an absence of SARS-CoV-2 infected astrocytes.&nbsp; </span><span class="bl">C.</span><span class="r">&nbsp; Immunohistochemistry for neurons,</span></div>
<div class="l" style="left:300.30px;top:436.90px;font-size:4.00px;line-height:4.80px;transform:scaleX(1.0196);"><span class="r">using NF-H combined with SARS-CoV-2 confirms neuronal infection, including Purkinje cell neurons and neurons in the molecular layer</span></div>
<div class="l" style="left:300.30px;top:441.80px;font-size:4.00px;line-height:4.80px;transform:scaleX(1.0038);"><span class="r">of the cerebellum.&nbsp; Scale Bars = 50 µm.</span></div>
<div class="l" style="left:300.30px;top:547.96px;font-size:4.40px;line-height:5.28px;transform:scaleX(1.0120);"><span class="fl">Figure 4.</span>&nbsp; SARS-CoV-2 infection of the CNS results in neurodegeneration.&nbsp; Top rows are representative images of</div>
<div class="l" style="left:300.30px;top:552.66px;font-size:4.40px;line-height:5.28px;transform:scaleX(0.9825);">H&amp;E staining from SARS-CoV-2 infected CNS at 100x and 630x magnification at 3 dpi.&nbsp; Degenerative neurons were</div>
<div class="l" style="left:300.30px;top:557.26px;font-size:4.40px;line-height:5.28px;transform:scaleX(0.9413);">detected throughout the CNS of infection animals (black arrows), where virus was present, as indicated by</div>
<div class="l" style="left:300.30px;top:563.46px;font-size:4.40px;line-height:5.28px;transform:scaleX(0.9365);">immunohistochemistry in the bottom row of panels (red arrows). N=5/group</div>
<div class="l" style="left:552.00px;top:251.86px;font-size:3.90px;line-height:4.68px;transform:scaleX(1.0779);"><span class="fl">Figure 5.</span>&nbsp; Inflammation, Infiltration and Gliosis.&nbsp; <span class="bl">A.</span><span class="r">&nbsp; Heatmap of gene expression analysis comparing age-matched uninfected and SARS-CoV-2 infected (P8, 3 dpi) brains using</span></div>
<div class="l" style="left:552.00px;top:256.76px;font-size:3.90px;line-height:4.68px;transform:scaleX(1.0375);"><span class="r">Nanostring Mouse Immunology Panel at 3 dpi.&nbsp; Radar plots show selected, significantly upregulated genes for: interferon-related genes, chemokines, inflammation and infiltrating cells and</span></div>
<div class="l" style="left:552.00px;top:261.86px;font-size:3.90px;line-height:4.68px;transform:scaleX(1.0389);"><span class="r">Ag presentation-related genes.&nbsp; </span><span class="bl">B.</span><span class="r">&nbsp; Immunohistochemistry using anti-CD45 antibody confirms the infiltration of&nbsp; immune cells at 3 dpi, throughout the brain and especially in virally infected</span></div>
<div class="l" style="left:552.00px;top:266.86px;font-size:3.90px;line-height:4.68px;transform:scaleX(1.0640);"><span class="r">regions.&nbsp; Scale bar = 1 mm&nbsp; </span><span class="bl">C.</span><span class="r">&nbsp; Infiltrating immune cells (left panel, CD45+, red) are abundant in virus infected regions (green) of the brain.&nbsp; Infiltrating lymphocytes are not infected by</span></div>
<div class="l" style="left:552.00px;top:271.06px;font-size:3.90px;line-height:4.68px;transform:scaleX(1.0383);"><span class="r">SARS-CoV-2.&nbsp; Additionally staining with anti-Iba-1 (right panel, red) revealed significant microgliosis in these regions (white arrowheads) as well as infiltrating macrophages (white arrows).</span></div>
<div class="l" style="left:552.00px;top:276.06px;font-size:3.90px;line-height:4.68px;transform:scaleX(1.0425);"><span class="r">Scale Bar = 50 µm N =5/group.</span></div>
<div class="l" style="left:556.20px;top:419.86px;font-size:3.90px;line-height:4.68px;transform:scaleX(1.0782);"><span class="fl">Figure 6.</span>&nbsp; Prophylactic treatment with neutralizing Ab protects from lethal SARS-CoV-2 infection.&nbsp; A. <span class="r">Experimental design of subcutaneous treatment with a neutralizing mAb</span></div>
<div class="l" style="left:556.20px;top:424.66px;font-size:3.90px;line-height:4.68px;transform:scaleX(1.0492);"><span class="r">targeting the Spike protein ( clone CV-30) was given to SARS-CoV-2 challenged mice (WA2020 or P.1 variants).&nbsp; B.&nbsp; Treatment with CV-30 or human serum from COVID-19 patients was</span></div>
<div class="l" style="left:556.20px;top:429.46px;font-size:3.90px;line-height:4.68px;transform:scaleX(1.0477);"><span class="r">given 1 day prior to inoculation with WA2020 (-1 dpi, left panel) or at the time of inoculation (0 dpi, centre panel).&nbsp; The same treatment failed to protect animals infected with SARS-CoV-2</span></div>
<div class="l" style="left:556.20px;top:434.36px;font-size:3.90px;line-height:4.68px;transform:scaleX(1.0432);"><span class="r">(P.1, gamma, right panel).&nbsp; C.&nbsp; hACE-2 Tg animals susceptible to all variants of concern tested to date.&nbsp; Compared to infectious doses that are less than lethal (left panel) when inoculated</span></div>
<div class="l" style="left:556.20px;top:439.26px;font-size:3.90px;line-height:4.68px;transform:scaleX(1.0527);"><span class="r">with SARS-CoV-2 (WA2020), more recent variants of concern:&nbsp; B.1.1.7 (alpha), B.1.351 (beta), P.1 (gamma) and B.617.2 (delta), that have evolved largely due to mutations of the Spike</span></div>
<div class="l" style="left:556.20px;top:444.06px;font-size:3.90px;line-height:4.68px;transform:scaleX(1.0347);"><span class="r">protein, are lethal at 10- to 100-fold lower infectious dose.</span></div>
<div class="l" style="left:555.40px;top:470.94px;font-size:5.10px;line-height:6.12px;transform:scaleX(1.0441);">❖Intranasal inoculation of neonatal hACE-2 Tg results in a lethal infection</div>
<div class="l" style="left:555.40px;top:476.64px;font-size:5.10px;line-height:6.12px;transform:scaleX(0.9773);">❖Untreated Animals succumb to disease within 3-7 days post-infection in a dose and strain dependent manner.</div>
<div class="l" style="left:555.40px;top:483.34px;font-size:5.10px;line-height:6.12px;transform:scaleX(0.9979);">❖SARS-CoV-2 primarily infects the CNS and lungs of hACE-2 Tg mice</div>
<div class="l" style="left:563.50px;top:489.90px;font-size:4.00px;line-height:4.80px;transform:scaleX(1.0214);">➢Virus loads, inflammation and cellular pathology much greater in the CNS than in lung</div>
<div class="l" style="left:563.50px;top:496.10px;font-size:4.00px;line-height:4.80px;transform:scaleX(1.0133);">➢Inflammation, immune cell infiltration and infection result in significant neurodegeneration throughout the CNS.</div>
<div class="l" style="left:555.40px;top:500.94px;font-size:5.10px;line-height:6.12px;transform:scaleX(1.0467);">❖This animal model will serve as an <i>in vivo</i> model to test therapeutics targeting SARS-CoV-2, including emerging variants of</div>
<div class="l" style="left:555.40px;top:507.14px;font-size:5.10px;line-height:6.12px;transform:scaleX(1.0361);">concern.</div>
<div class="l" style="left:555.40px;top:514.34px;font-size:5.10px;line-height:6.12px;transform:scaleX(0.9826);">❖Treatment with monoclonal antibodies targeting the Spike protein protected mice from SARS-CoV-2 (WA2020) infection, better than</div>
<div class="l" style="left:555.40px;top:520.54px;font-size:5.10px;line-height:6.12px;transform:scaleX(0.9769);">polyclonal serum collected from human COVID-19 patients.</div>
<div class="l" style="left:555.40px;top:527.14px;font-size:5.10px;line-height:6.12px;transform:scaleX(0.9810);">❖However, the same antibody failed to protect against lethal disease when infected with the P.1 (gamma) variant, likely due to mutations in</div>
<div class="l" style="left:555.40px;top:533.14px;font-size:5.10px;line-height:6.12px;transform:scaleX(0.9710);">the Spike protein altering the epitope for the monoclonal antibody</div>
<div class="l" style="left:555.40px;top:540.14px;font-size:5.10px;line-height:6.12px;transform:scaleX(0.9671);">❖This loss of efficacy highlights the need for a model in which to test new therapeutics, including:&nbsp; antibody, small anti-viral molecules or</div>
<div class="l" style="left:555.40px;top:546.34px;font-size:5.10px;line-height:6.12px;transform:scaleX(0.9709);">combination therapies, to assess safety and efficacy of therapeutics again emerging variants of concern.</div>
<div class="l" style="left:555.40px;top:559.34px;font-size:5.10px;line-height:6.12px;transform:scaleX(1.0476);">❖Using this model in combination with VSV-based SARS-CoV-2 pseudoviruses expressing the Spike proteins of emerging</div>
<div class="l" style="left:555.40px;top:565.44px;font-size:5.10px;line-height:6.12px;transform:scaleX(1.0505);">variants, we can rapidly test therapeutics against the Spike protein at BSL-2 (see M. Manangeeswaran poster) and validate these</div>
<div class="l" style="left:555.40px;top:571.94px;font-size:5.10px;line-height:6.12px;transform:scaleX(1.0502);">results against the native SARS-CoV-2 variants using this model at BSL-3 where required.</div>
</div>
</body></html>
